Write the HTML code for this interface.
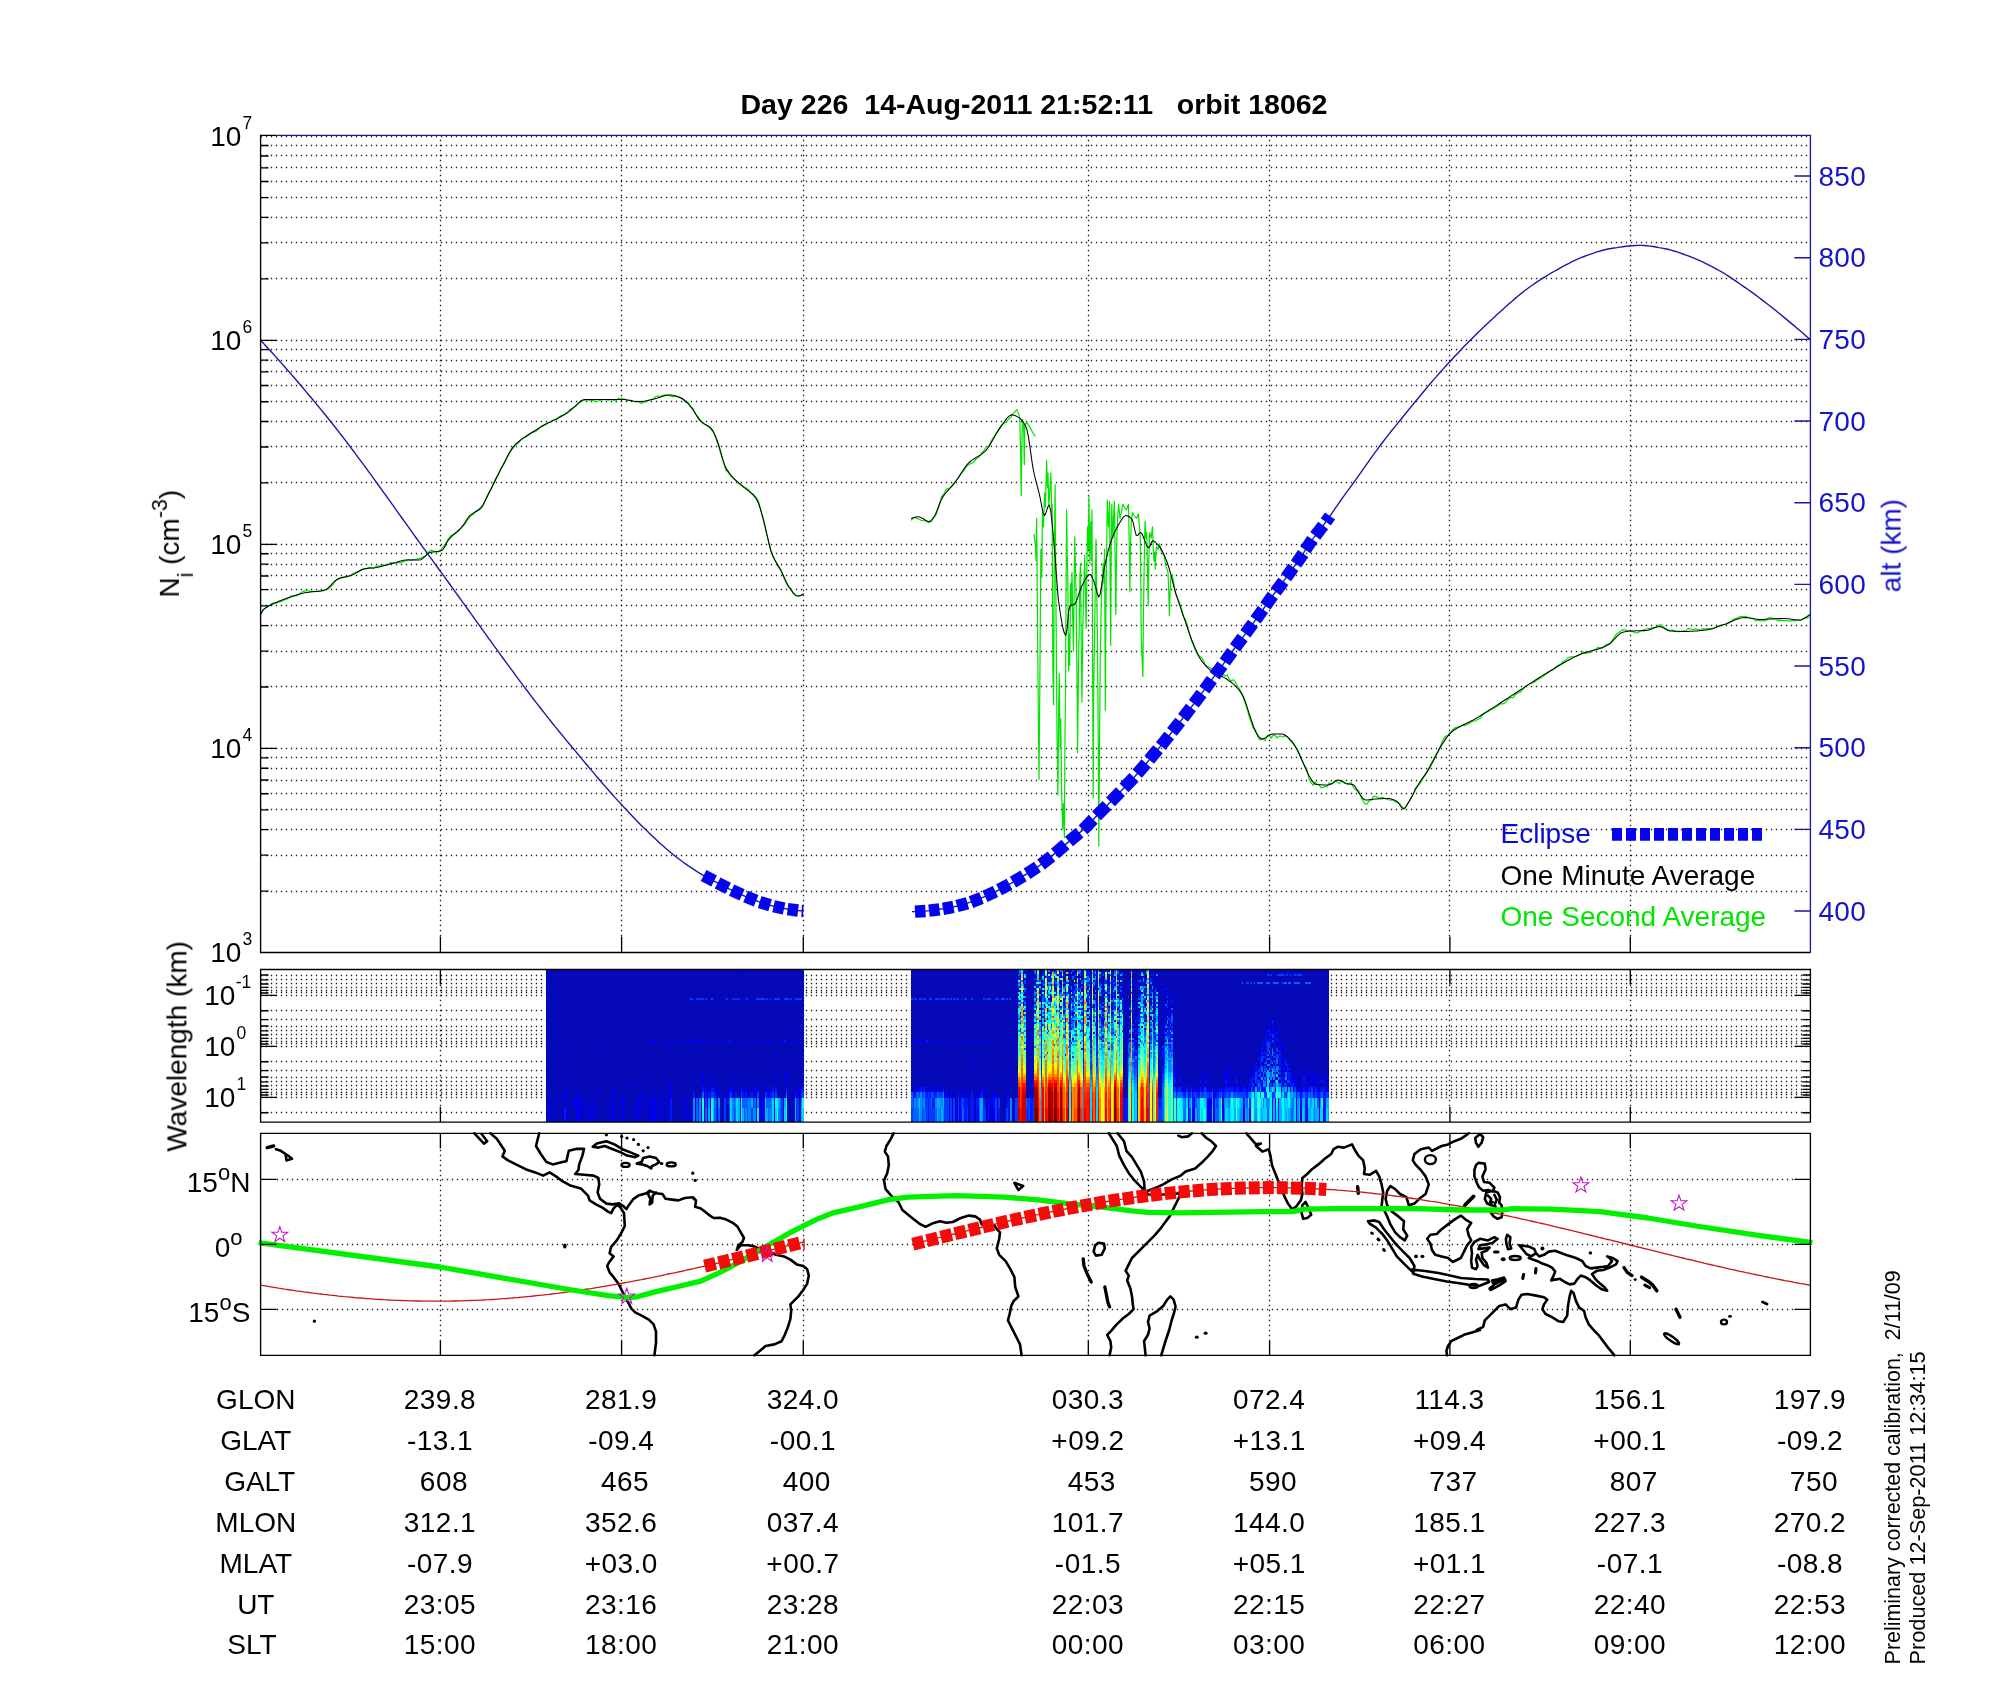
<!DOCTYPE html>
<html><head><meta charset="utf-8"><title>Day 226 orbit 18062</title>
<style>html,body{margin:0;padding:0;background:#fff}svg{display:block}text{font-family:'Liberation Sans', sans-serif}</style>
</head><body>
<svg width="2000" height="1700" viewBox="0 0 2000 1700">
<rect width="2000" height="1700" fill="#fff"/>
<path d="M260.85 891.5H1809.4M260.85 855.5H1809.4M260.85 829.5H1809.4M260.85 809.5H1809.4M260.85 793.5H1809.4M260.85 780.5H1809.4M260.85 768.5H1809.4M260.85 757.5H1809.4M260.85 748.5H1809.4M260.85 686.5H1809.4M260.85 651.5H1809.4M260.85 625.5H1809.4M260.85 605.5H1809.4M260.85 589.5H1809.4M260.85 575.5H1809.4M260.85 564.5H1809.4M260.85 553.5H1809.4M260.85 544.5H1809.4M260.85 482.5H1809.4M260.85 446.5H1809.4M260.85 421.5H1809.4M260.85 401.5H1809.4M260.85 385.5H1809.4M260.85 371.5H1809.4M260.85 360.5H1809.4M260.85 349.5H1809.4M260.85 340.5H1809.4M260.85 278.5H1809.4M260.85 242.5H1809.4M260.85 217.5H1809.4M260.85 197.5H1809.4M260.85 181.5H1809.4M260.85 167.5H1809.4M260.85 155.5H1809.4M260.85 145.5H1809.4M260.85 136.5H1809.4" stroke="#1c1c1c" stroke-width="1.3" stroke-dasharray="1.3 3.7" fill="none"/>
<path d="M440.5 139.85V936.5M621.5 139.85V936.5M803.5 139.85V936.5M1088.5 139.85V936.5M1269.5 139.85V936.5M1449.5 139.85V936.5M1630.5 139.85V936.5" stroke="#1c1c1c" stroke-width="1.3" stroke-dasharray="1.3 3.7" fill="none"/>
<path d="M260.85 975.5H1809.4M260.85 979.5H1809.4M260.85 983.5H1809.4M260.85 987.5H1809.4M260.85 990.5H1809.4M260.85 992.5H1809.4M260.85 995.5H1809.4M260.85 1010.5H1809.4M260.85 1019.5H1809.4M260.85 1026.5H1809.4M260.85 1030.5H1809.4M260.85 1034.5H1809.4M260.85 1038.5H1809.4M260.85 1041.5H1809.4M260.85 1043.5H1809.4M260.85 1046.5H1809.4M260.85 1061.5H1809.4M260.85 1070.5H1809.4M260.85 1077.5H1809.4M260.85 1081.5H1809.4M260.85 1085.5H1809.4M260.85 1089.5H1809.4M260.85 1092.5H1809.4M260.85 1094.5H1809.4M260.85 1097.5H1809.4M260.85 1112.5H1809.4" stroke="#1c1c1c" stroke-width="1.3" stroke-dasharray="1.3 3.7" fill="none"/>
<path d="M440.5 974.85V1107.1M621.5 974.85V1107.1M803.5 974.85V1107.1M1088.5 974.85V1107.1M1269.5 974.85V1107.1M1449.5 974.85V1107.1M1630.5 974.85V1107.1" stroke="#1c1c1c" stroke-width="1.3" stroke-dasharray="1.3 3.7" fill="none"/>
<path d="M276.85 1179.5H1793.4M276.85 1244.5H1793.4M276.85 1309.5H1793.4" stroke="#1c1c1c" stroke-width="1.3" stroke-dasharray="1.3 3.7" fill="none"/>
<path d="M440.5 1149.85V1340.3M621.5 1149.85V1340.3M803.5 1149.85V1340.3M1088.5 1149.85V1340.3M1269.5 1149.85V1340.3M1449.5 1149.85V1340.3M1630.5 1149.85V1340.3" stroke="#1c1c1c" stroke-width="1.3" stroke-dasharray="1.3 3.7" fill="none"/>
<g shape-rendering="crispEdges">
<rect x="546" y="969.5" width="257.8" height="152.6" fill="rgb(6,9,184)"/>
<path fill="rgb(0,0,241)" d="M549 1097.5v24h1.6v-24zM556.5 1097.5v10.7h1.6v-10.7zM564 1045.5v2.1h1.6v-2.1zM564 1051.5v2.1h1.6v-2.1zM564 1061.5v2.1h1.6v-2.1zM564 1083v4.2h1.6v-4.2zM564 1092v16.1h1.6v-16.1zM565.5 1017.5v2.1h1.6v-2.1zM565.5 1033.5v2.1h1.6v-2.1zM565.5 1087v5.2h1.6v-5.2zM565.5 1108v13.5h1.6v-13.5zM573 1097.5v10.7h1.6v-10.7zM574.5 1097.5v10.7h1.6v-10.7zM576 1071.5v2.6h1.6v-2.6zM576 1092v29.5h1.6v-29.5zM577.5 1063.5v2.1h1.6v-2.1zM577.5 1108v13.5h1.6v-13.5zM579 1049.5v2.1h1.6v-2.1zM579 1097.5v24h1.6v-24zM580.5 1108v13.5h1.6v-13.5zM582 1097.5v10.7h1.6v-10.7zM586.5 1097.5v24h1.6v-24zM589.5 1108v13.5h1.6v-13.5zM591 995.5v2.1h1.6v-2.1zM591 1097.5v24h1.6v-24zM595.5 1031.5v2.1h1.6v-2.1zM595.5 1057.5v2.1h1.6v-2.1zM595.5 1108v13.5h1.6v-13.5zM597 1041.5v2.1h1.6v-2.1zM597 1049.5v2.1h1.6v-2.1zM597 1087v5.2h1.6v-5.2zM604.5 1069.5v2.1h1.6v-2.1zM607.5 1108v13.5h1.6v-13.5zM611.9 1087v34.5h1.6v-34.5zM613.4 1069.5v2.1h1.6v-2.1zM613.4 1092v5.7h1.6v-5.7zM613.4 1108v13.5h1.6v-13.5zM622.4 1097.5v24h1.6v-24zM629.9 1079.5v3.6h1.6v-3.6zM635.9 1097.5v24h1.6v-24zM637.4 1083v4.2h1.6v-4.2zM637.4 1097.5v24h1.6v-24zM641.9 1074v2.6h1.6v-2.6zM641.9 1092v16.1h1.6v-16.1zM643.4 1092v5.7h1.6v-5.7zM647.9 1097.5v24h1.6v-24zM649.4 1039.5v2.1h1.6v-2.1zM649.4 1108v13.5h1.6v-13.5zM650.9 1039.5v2.1h1.6v-2.1zM652.4 1039.5v2.1h1.6v-2.1zM652.4 1087v5.2h1.6v-5.2zM652.4 1097.5v24h1.6v-24zM653.9 1039.5v2.1h1.6v-2.1zM653.9 1097.5v24h1.6v-24zM655.4 1108v13.5h1.6v-13.5zM659.9 1097.5v10.7h1.6v-10.7zM661.4 1039.5v2.1h1.6v-2.1zM661.4 1092v29.5h1.6v-29.5zM668.9 1039.5v2.1h1.6v-2.1zM668.9 1097.5v24h1.6v-24zM670.4 1039.5v2.1h1.6v-2.1zM670.4 1049.5v2.1h1.6v-2.1zM670.4 1063.5v2.1h1.6v-2.1zM670.4 1083v14.7h1.6v-14.7zM671.9 1039.5v2.1h1.6v-2.1zM677.9 1039.5v2.1h1.6v-2.1zM680.9 1039.5v2.1h1.6v-2.1zM682.4 1039.5v2.1h1.6v-2.1zM685.4 1039.5v2.1h1.6v-2.1zM685.4 1097.5v24h1.6v-24zM688.4 1039.5v2.1h1.6v-2.1zM689.9 1108v13.5h1.6v-13.5zM691.4 1039.5v2.1h1.6v-2.1zM692.9 1039.5v2.1h1.6v-2.1zM694.4 1039.5v2.1h1.6v-2.1zM697.4 1039.5v2.1h1.6v-2.1zM698.9 1039.5v2.1h1.6v-2.1zM700.4 1039.5v2.1h1.6v-2.1zM701.9 1039.5v2.1h1.6v-2.1zM701.9 1069.5v7.2h1.6v-7.2zM701.9 1079.5v7.7h1.6v-7.7zM704.9 1087v5.2h1.6v-5.2zM706.4 1097.5v10.7h1.6v-10.7zM707.9 1087v5.2h1.6v-5.2zM709.4 1039.5v2.1h1.6v-2.1zM709.4 1097.5v10.7h1.6v-10.7zM710.9 1074v2.6h1.6v-2.6zM710.9 1083v4.2h1.6v-4.2zM712.4 1039.5v2.1h1.6v-2.1zM712.4 1076.5v3.1h1.6v-3.1zM713.9 1087v5.2h1.6v-5.2zM715.4 1039.5v2.1h1.6v-2.1zM716.9 1108v13.5h1.6v-13.5zM718.4 1087v10.7h1.6v-10.7zM719.9 993.5v2.1h1.6v-2.1zM719.9 1039.5v2.1h1.6v-2.1zM722.9 1039.5v2.1h1.6v-2.1zM724.4 1039.5v2.1h1.6v-2.1zM724.4 1092v5.7h1.6v-5.7zM725.9 1039.5v2.1h1.6v-2.1zM727.4 1092v16.1h1.6v-16.1zM728.9 1033.5v2.1h1.6v-2.1zM728.9 1076.5v3.1h1.6v-3.1zM728.9 1087v5.2h1.6v-5.2zM730.4 1039.5v2.1h1.6v-2.1zM730.4 1069.5v2.1h1.6v-2.1zM730.4 1079.5v3.6h1.6v-3.6zM730.4 1087v5.2h1.6v-5.2zM731.9 1087v10.7h1.6v-10.7zM734.9 1039.5v2.1h1.6v-2.1zM739.3 1097.5v10.7h1.6v-10.7zM740.8 1057.5v2.1h1.6v-2.1zM740.8 1071.5v5.2h1.6v-5.2zM742.3 971.5v2.1h1.6v-2.1zM742.3 1087v5.2h1.6v-5.2zM743.8 999.5v2.1h1.6v-2.1zM745.3 1039.5v2.1h1.6v-2.1zM745.3 1087v5.2h1.6v-5.2zM746.8 1087v10.7h1.6v-10.7zM749.8 1039.5v2.1h1.6v-2.1zM751.3 1039.5v2.1h1.6v-2.1zM751.3 1087v5.2h1.6v-5.2zM754.3 1087v10.7h1.6v-10.7zM755.8 1039.5v2.1h1.6v-2.1zM757.3 1087v5.2h1.6v-5.2zM758.8 1027.5v2.1h1.6v-2.1zM758.8 1039.5v2.1h1.6v-2.1zM758.8 1108v13.5h1.6v-13.5zM760.3 1097.5v24h1.6v-24zM763.3 1039.5v2.1h1.6v-2.1zM763.3 1097.5v24h1.6v-24zM764.8 1067.5v4.2h1.6v-4.2zM764.8 1079.5v12.7h1.6v-12.7zM766.3 1039.5v2.1h1.6v-2.1zM766.3 1087v5.2h1.6v-5.2zM767.8 1039.5v2.1h1.6v-2.1zM767.8 1092v5.7h1.6v-5.7zM769.3 1039.5v2.1h1.6v-2.1zM770.8 1039.5v2.1h1.6v-2.1zM770.8 1087v5.2h1.6v-5.2zM772.3 1039.5v2.1h1.6v-2.1zM772.3 1053.5v2.1h1.6v-2.1zM772.3 1065.5v4.2h1.6v-4.2zM772.3 1076.5v6.7h1.6v-6.7zM773.8 1097.5v24h1.6v-24zM776.8 1071.5v2.6h1.6v-2.6zM778.3 1076.5v3.1h1.6v-3.1zM779.8 1039.5v2.1h1.6v-2.1zM779.8 1092v5.7h1.6v-5.7zM781.3 1039.5v2.1h1.6v-2.1zM782.8 1039.5v2.1h1.6v-2.1zM784.3 1069.5v13.7h1.6v-13.7zM785.8 1069.5v4.7h1.6v-4.7zM785.8 1076.5v10.7h1.6v-10.7zM788.8 1039.5v2.1h1.6v-2.1zM794.8 1039.5v2.1h1.6v-2.1zM794.8 1087v5.2h1.6v-5.2zM796.3 1039.5v2.1h1.6v-2.1zM796.3 1092v5.7h1.6v-5.7zM797.8 1087v10.7h1.6v-10.7zM799.3 1039.5v2.1h1.6v-2.1zM800.8 1039.5v2.1h1.6v-2.1zM800.8 1079.5v3.6h1.6v-3.6z"/>
<path fill="rgb(0,24,255)" d="M564 1108v13.5h1.6v-13.5zM670.4 1097.5v24h1.6v-24zM692.9 1092v5.7h1.6v-5.7zM697.4 997.5v2.1h1.6v-2.1zM697.4 1097.5v10.7h1.6v-10.7zM701.9 1087v5.2h1.6v-5.2zM704.9 1092v5.7h1.6v-5.7zM707.9 1092v5.7h1.6v-5.7zM710.9 1087v5.2h1.6v-5.2zM712.4 997.5v2.1h1.6v-2.1zM712.4 1087v5.2h1.6v-5.2zM713.9 1092v5.7h1.6v-5.7zM728.9 1039.5v2.1h1.6v-2.1zM728.9 1092v5.7h1.6v-5.7zM734.9 1092v5.7h1.6v-5.7zM740.8 1087v5.2h1.6v-5.2zM742.3 1092v5.7h1.6v-5.7zM745.3 997.5v2.1h1.6v-2.1zM745.3 1092v5.7h1.6v-5.7zM749.8 1092v5.7h1.6v-5.7zM751.3 1092v5.7h1.6v-5.7zM766.3 1092v5.7h1.6v-5.7zM769.3 997.5v2.1h1.6v-2.1zM769.3 1092v5.7h1.6v-5.7zM770.8 997.5v2.1h1.6v-2.1zM770.8 1092v5.7h1.6v-5.7zM772.3 1087v5.2h1.6v-5.2zM775.3 1087v5.2h1.6v-5.2zM784.3 1039.5v2.1h1.6v-2.1zM785.8 1087v5.2h1.6v-5.2zM794.8 1092v5.7h1.6v-5.7zM800.8 1087v5.2h1.6v-5.2zM802.3 1087v5.2h1.6v-5.2z"/>
<path fill="rgb(0,61,255)" d="M689.9 997.5v2.1h1.6v-2.1zM691.4 997.5v2.1h1.6v-2.1zM695.9 997.5v2.1h1.6v-2.1zM697.4 1108v13.5h1.6v-13.5zM698.9 997.5v2.1h1.6v-2.1zM700.4 997.5v2.1h1.6v-2.1zM701.9 997.5v2.1h1.6v-2.1zM704.9 997.5v2.1h1.6v-2.1zM704.9 1097.5v10.7h1.6v-10.7zM710.9 997.5v2.1h1.6v-2.1zM710.9 1092v5.7h1.6v-5.7zM712.4 1092v5.7h1.6v-5.7zM715.4 1097.5v24h1.6v-24zM724.4 1097.5v24h1.6v-24zM725.9 997.5v2.1h1.6v-2.1zM728.9 1108v13.5h1.6v-13.5zM730.4 1092v5.7h1.6v-5.7zM731.9 997.5v2.1h1.6v-2.1zM733.4 1108v13.5h1.6v-13.5zM734.9 997.5v2.1h1.6v-2.1zM737.9 997.5v2.1h1.6v-2.1zM740.8 1092v5.7h1.6v-5.7zM746.8 997.5v2.1h1.6v-2.1zM751.3 1108v13.5h1.6v-13.5zM752.8 1097.5v10.7h1.6v-10.7zM755.8 997.5v2.1h1.6v-2.1zM757.3 997.5v2.1h1.6v-2.1zM757.3 1092v5.7h1.6v-5.7zM758.8 997.5v2.1h1.6v-2.1zM760.3 997.5v2.1h1.6v-2.1zM761.8 997.5v2.1h1.6v-2.1zM763.3 997.5v2.1h1.6v-2.1zM764.8 1092v5.7h1.6v-5.7zM766.3 997.5v2.1h1.6v-2.1zM772.3 1092v5.7h1.6v-5.7zM773.8 997.5v2.1h1.6v-2.1zM775.3 997.5v2.1h1.6v-2.1zM775.3 1092v5.7h1.6v-5.7zM776.8 997.5v2.1h1.6v-2.1zM778.3 997.5v2.1h1.6v-2.1zM781.3 1097.5v24h1.6v-24zM784.3 997.5v2.1h1.6v-2.1zM785.8 997.5v2.1h1.6v-2.1zM787.3 997.5v2.1h1.6v-2.1zM790.3 997.5v2.1h1.6v-2.1zM794.8 997.5v2.1h1.6v-2.1zM796.3 997.5v2.1h1.6v-2.1zM796.3 1097.5v24h1.6v-24zM797.8 997.5v2.1h1.6v-2.1zM797.8 1097.5v24h1.6v-24zM799.3 997.5v2.1h1.6v-2.1zM800.8 997.5v2.1h1.6v-2.1zM800.8 1092v5.7h1.6v-5.7zM802.3 1092v5.7h1.6v-5.7z"/>
<path fill="rgb(0,99,255)" d="M695.9 1097.5v24h1.6v-24zM701.9 1092v5.7h1.6v-5.7zM704.9 1108v13.5h1.6v-13.5zM713.9 1097.5v24h1.6v-24zM718.4 1108v13.5h1.6v-13.5zM728.9 1097.5v10.7h1.6v-10.7zM733.4 1097.5v10.7h1.6v-10.7zM734.9 1108v13.5h1.6v-13.5zM742.3 1097.5v10.7h1.6v-10.7zM743.8 1097.5v24h1.6v-24zM745.3 1097.5v10.7h1.6v-10.7zM746.8 1097.5v24h1.6v-24zM749.8 1097.5v10.7h1.6v-10.7zM754.3 1097.5v10.7h1.6v-10.7zM766.3 1097.5v10.7h1.6v-10.7zM767.8 1097.5v24h1.6v-24zM769.3 1097.5v10.7h1.6v-10.7zM779.8 1097.5v24h1.6v-24zM785.8 1092v5.7h1.6v-5.7z"/>
<path fill="rgb(0,137,255)" d="M692.9 1097.5v24h1.6v-24zM698.9 1097.5v24h1.6v-24zM707.9 1097.5v10.7h1.6v-10.7zM718.4 1097.5v10.7h1.6v-10.7zM731.9 1097.5v24h1.6v-24zM734.9 1097.5v10.7h1.6v-10.7zM745.3 1108v13.5h1.6v-13.5zM748.3 1097.5v24h1.6v-24zM749.8 1108v13.5h1.6v-13.5zM752.8 1108v13.5h1.6v-13.5zM754.3 1108v13.5h1.6v-13.5zM757.3 1097.5v10.7h1.6v-10.7zM769.3 1108v13.5h1.6v-13.5zM770.8 1097.5v24h1.6v-24zM778.3 1108v13.5h1.6v-13.5zM800.8 1097.5v10.7h1.6v-10.7z"/>
<path fill="rgb(0,175,255)" d="M707.9 1108v13.5h1.6v-13.5zM712.4 1108v13.5h1.6v-13.5zM737.9 1097.5v24h1.6v-24zM742.3 1108v13.5h1.6v-13.5zM751.3 1097.5v10.7h1.6v-10.7zM764.8 1108v13.5h1.6v-13.5zM766.3 1108v13.5h1.6v-13.5zM778.3 1097.5v10.7h1.6v-10.7zM784.3 1097.5v10.7h1.6v-10.7zM794.8 1097.5v24h1.6v-24zM800.8 1108v13.5h1.6v-13.5z"/>
<path fill="rgb(0,212,255)" d="M712.4 1097.5v10.7h1.6v-10.7zM730.4 1097.5v24h1.6v-24zM736.4 1097.5v24h1.6v-24zM764.8 1097.5v10.7h1.6v-10.7zM772.3 1097.5v24h1.6v-24zM775.3 1108v13.5h1.6v-13.5zM784.3 1108v13.5h1.6v-13.5zM802.3 1108v13.5h1.6v-13.5z"/>
<path fill="rgb(0,250,255)" d="M701.9 1108v13.5h1.6v-13.5zM710.9 1097.5v10.7h1.6v-10.7zM740.8 1097.5v24h1.6v-24zM757.3 1108v13.5h1.6v-13.5zM775.3 1097.5v10.7h1.6v-10.7zM776.8 1097.5v10.7h1.6v-10.7zM785.8 1108v13.5h1.6v-13.5z"/>
<path fill="rgb(33,255,222)" d="M701.9 1097.5v10.7h1.6v-10.7zM710.9 1108v13.5h1.6v-13.5zM776.8 1108v13.5h1.6v-13.5zM785.8 1097.5v10.7h1.6v-10.7zM802.3 1097.5v10.7h1.6v-10.7z"/>
<rect x="911.2" y="969.5" width="417.7" height="152.6" fill="rgb(6,9,184)"/>
<path fill="rgb(0,0,241)" d="M911.2 1039.5v2.1h1.6v-2.1zM911.2 1059.5v2.1h1.6v-2.1zM911.2 1087v5.2h1.6v-5.2zM912.7 1039.5v2.1h1.6v-2.1zM914.2 1039.5v2.1h1.6v-2.1zM915.7 1087v5.2h1.6v-5.2zM917.2 1039.5v2.1h1.6v-2.1zM917.2 1087v5.2h1.6v-5.2zM918.7 1039.5v2.1h1.6v-2.1zM918.7 1087v5.2h1.6v-5.2zM920.2 1039.5v2.1h1.6v-2.1zM921.7 1039.5v2.1h1.6v-2.1zM921.7 1087v5.2h1.6v-5.2zM923.2 1039.5v2.1h1.6v-2.1zM924.7 1039.5v2.1h1.6v-2.1zM924.7 1087v5.2h1.6v-5.2zM929.2 1039.5v2.1h1.6v-2.1zM929.2 1087v5.2h1.6v-5.2zM930.7 1003.5v2.1h1.6v-2.1zM930.7 1069.5v2.1h1.6v-2.1zM930.7 1087v5.2h1.6v-5.2zM932.2 1039.5v2.1h1.6v-2.1zM932.2 1087v5.2h1.6v-5.2zM933.7 1039.5v2.1h1.6v-2.1zM935.2 1039.5v2.1h1.6v-2.1zM936.7 1039.5v2.1h1.6v-2.1zM936.7 1053.5v2.1h1.6v-2.1zM936.7 1071.5v2.6h1.6v-2.6zM936.7 1087v5.2h1.6v-5.2zM938.2 1039.5v2.1h1.6v-2.1zM938.2 1087v5.2h1.6v-5.2zM939.7 1087v5.2h1.6v-5.2zM944.3 1092v5.7h1.6v-5.7zM947.3 1039.5v2.1h1.6v-2.1zM950.3 1092v5.7h1.6v-5.7zM951.8 1097.5v24h1.6v-24zM953.3 1087v10.7h1.6v-10.7zM956.3 1039.5v2.1h1.6v-2.1zM959.3 1097.5v24h1.6v-24zM960.8 1039.5v2.1h1.6v-2.1zM962.3 1087v10.7h1.6v-10.7zM965.3 1039.5v2.1h1.6v-2.1zM966.8 1092v5.7h1.6v-5.7zM968.3 1065.5v2.1h1.6v-2.1zM971.3 1039.5v2.1h1.6v-2.1zM971.3 1065.5v2.1h1.6v-2.1zM972.8 1045.5v2.1h1.6v-2.1zM972.8 1087v5.2h1.6v-5.2zM974.3 1039.5v2.1h1.6v-2.1zM974.3 1063.5v2.1h1.6v-2.1zM975.8 1092v5.7h1.6v-5.7zM977.3 1079.5v3.6h1.6v-3.6zM977.3 1108v13.5h1.6v-13.5zM980.3 1039.5v2.1h1.6v-2.1zM980.3 1087v5.2h1.6v-5.2zM981.8 1039.5v2.1h1.6v-2.1zM984.8 1087v5.2h1.6v-5.2zM986.3 1039.5v2.1h1.6v-2.1zM989.3 1039.5v2.1h1.6v-2.1zM989.3 1097.5v24h1.6v-24zM990.8 1097.5v10.7h1.6v-10.7zM992.3 1039.5v2.1h1.6v-2.1zM992.3 1092v29.5h1.6v-29.5zM993.8 1092v5.7h1.6v-5.7zM993.8 1108v13.5h1.6v-13.5zM995.3 1083v4.2h1.6v-4.2zM995.3 1092v5.7h1.6v-5.7zM1005.9 1076.5v3.1h1.6v-3.1zM1005.9 1097.5v10.7h1.6v-10.7zM1007.4 1069.5v2.1h1.6v-2.1zM1007.4 1087v10.7h1.6v-10.7zM1017.9 975.5v2.1h1.6v-2.1zM1019.4 989.5v2.1h1.6v-2.1zM1019.4 1003.5v2.1h1.6v-2.1zM1019.4 1015.5v2.1h1.6v-2.1zM1022.4 977.5v2.1h1.6v-2.1zM1022.4 1001.5v2.1h1.6v-2.1zM1023.9 970.2v1.4h1.6v-1.4zM1023.9 993.5v2.1h1.6v-2.1zM1023.9 997.5v2.1h1.6v-2.1zM1026.9 1049.5v2.1h1.6v-2.1zM1034.4 975.5v2.1h1.6v-2.1zM1034.4 981.5v2.1h1.6v-2.1zM1035.9 970.2v1.4h1.6v-1.4zM1035.9 999.5v2.1h1.6v-2.1zM1038.9 970.2v1.4h1.6v-1.4zM1040.4 1023.5v2.1h1.6v-2.1zM1040.4 1035.5v2.1h1.6v-2.1zM1040.4 1043.5v2.1h1.6v-2.1zM1040.4 1051.5v2.1h1.6v-2.1zM1040.4 1055.5v4.2h1.6v-4.2zM1041.9 971.5v2.1h1.6v-2.1zM1041.9 1007.5v2.1h1.6v-2.1zM1043.4 1019.5v2.1h1.6v-2.1zM1044.9 975.5v2.1h1.6v-2.1zM1046.4 973.5v2.1h1.6v-2.1zM1046.4 983.5v2.1h1.6v-2.1zM1046.4 991.5v2.1h1.6v-2.1zM1047.9 975.5v2.1h1.6v-2.1zM1049.4 995.5v2.1h1.6v-2.1zM1050.9 970.2v1.4h1.6v-1.4zM1053.9 970.2v1.4h1.6v-1.4zM1053.9 981.5v2.1h1.6v-2.1zM1053.9 993.5v2.1h1.6v-2.1zM1056.9 973.5v2.1h1.6v-2.1zM1058.4 970.2v1.4h1.6v-1.4zM1058.4 1003.5v2.1h1.6v-2.1zM1059.9 971.5v2.1h1.6v-2.1zM1059.9 983.5v4.2h1.6v-4.2zM1059.9 989.5v2.1h1.6v-2.1zM1059.9 1005.5v2.1h1.6v-2.1zM1063 1001.5v2.1h1.6v-2.1zM1063 1011.5v2.1h1.6v-2.1zM1064.5 993.5v2.1h1.6v-2.1zM1064.5 1027.5v2.1h1.6v-2.1zM1064.5 1053.5v2.1h1.6v-2.1zM1069 989.5v2.1h1.6v-2.1zM1069 1009.5v2.1h1.6v-2.1zM1069 1017.5v2.1h1.6v-2.1zM1069 1031.5v2.1h1.6v-2.1zM1069 1039.5v2.1h1.6v-2.1zM1070.5 1041.5v2.1h1.6v-2.1zM1072 999.5v2.1h1.6v-2.1zM1072 1011.5v2.1h1.6v-2.1zM1072 1019.5v2.1h1.6v-2.1zM1072 1037.5v2.1h1.6v-2.1zM1073.5 985.5v2.1h1.6v-2.1zM1075 971.5v2.1h1.6v-2.1zM1075 981.5v2.1h1.6v-2.1zM1075 1021.5v4.2h1.6v-4.2zM1076.5 975.5v2.1h1.6v-2.1zM1078 973.5v2.1h1.6v-2.1zM1078 1003.5v2.1h1.6v-2.1zM1079.5 979.5v2.1h1.6v-2.1zM1079.5 991.5v2.1h1.6v-2.1zM1079.5 1041.5v2.1h1.6v-2.1zM1081 971.5v2.1h1.6v-2.1zM1081 1047.5v2.1h1.6v-2.1zM1082.5 1021.5v4.2h1.6v-4.2zM1082.5 1033.5v8.2h1.6v-8.2zM1082.5 1043.5v2.1h1.6v-2.1zM1082.5 1051.5v2.1h1.6v-2.1zM1082.5 1057.5v4.2h1.6v-4.2zM1085.5 973.5v2.1h1.6v-2.1zM1087 971.5v2.1h1.6v-2.1zM1090 1017.5v4.2h1.6v-4.2zM1090 1029.5v2.1h1.6v-2.1zM1090 1033.5v2.1h1.6v-2.1zM1090 1037.5v2.1h1.6v-2.1zM1090 1043.5v4.2h1.6v-4.2zM1093 970.2v1.4h1.6v-1.4zM1093 989.5v2.1h1.6v-2.1zM1094.5 983.5v4.2h1.6v-4.2zM1096 999.5v4.2h1.6v-4.2zM1096 1005.5v2.1h1.6v-2.1zM1096 1011.5v2.1h1.6v-2.1zM1096 1015.5v2.1h1.6v-2.1zM1096 1019.5v2.1h1.6v-2.1zM1096 1023.5v2.1h1.6v-2.1zM1096 1027.5v2.1h1.6v-2.1zM1096 1031.5v4.2h1.6v-4.2zM1097.5 987.5v2.1h1.6v-2.1zM1099 1015.5v2.1h1.6v-2.1zM1100.5 979.5v4.2h1.6v-4.2zM1100.5 1001.5v2.1h1.6v-2.1zM1102 975.5v2.1h1.6v-2.1zM1102 979.5v2.1h1.6v-2.1zM1102 987.5v2.1h1.6v-2.1zM1102 999.5v2.1h1.6v-2.1zM1102 1003.5v2.1h1.6v-2.1zM1102 1007.5v2.1h1.6v-2.1zM1102 1019.5v2.1h1.6v-2.1zM1103.5 971.5v2.1h1.6v-2.1zM1103.5 1017.5v2.1h1.6v-2.1zM1106.5 973.5v2.1h1.6v-2.1zM1106.5 979.5v4.2h1.6v-4.2zM1106.5 991.5v2.1h1.6v-2.1zM1106.5 1001.5v2.1h1.6v-2.1zM1106.5 1015.5v2.1h1.6v-2.1zM1108 979.5v2.1h1.6v-2.1zM1108 995.5v2.1h1.6v-2.1zM1108 1021.5v2.1h1.6v-2.1zM1111 973.5v2.1h1.6v-2.1zM1111 977.5v2.1h1.6v-2.1zM1111 991.5v2.1h1.6v-2.1zM1111 995.5v4.2h1.6v-4.2zM1111 1005.5v4.2h1.6v-4.2zM1111 1011.5v2.1h1.6v-2.1zM1112.5 970.2v1.4h1.6v-1.4zM1112.5 995.5v2.1h1.6v-2.1zM1117 977.5v2.1h1.6v-2.1zM1120.1 971.5v2.1h1.6v-2.1zM1120.1 995.5v4.2h1.6v-4.2zM1121.6 983.5v2.1h1.6v-2.1zM1121.6 991.5v2.1h1.6v-2.1zM1121.6 1007.5v2.1h1.6v-2.1zM1127.6 989.5v2.1h1.6v-2.1zM1127.6 999.5v2.1h1.6v-2.1zM1127.6 1007.5v2.1h1.6v-2.1zM1127.6 1017.5v2.1h1.6v-2.1zM1127.6 1029.5v2.1h1.6v-2.1zM1127.6 1035.5v2.1h1.6v-2.1zM1129.1 970.2v1.4h1.6v-1.4zM1129.1 991.5v2.1h1.6v-2.1zM1129.1 995.5v2.1h1.6v-2.1zM1129.1 1009.5v2.1h1.6v-2.1zM1129.1 1021.5v2.1h1.6v-2.1zM1129.1 1035.5v2.1h1.6v-2.1zM1129.1 1039.5v2.1h1.6v-2.1zM1132.1 981.5v2.1h1.6v-2.1zM1132.1 999.5v2.1h1.6v-2.1zM1132.1 1035.5v2.1h1.6v-2.1zM1132.1 1039.5v2.1h1.6v-2.1zM1133.6 1015.5v2.1h1.6v-2.1zM1133.6 1037.5v2.1h1.6v-2.1zM1133.6 1043.5v2.1h1.6v-2.1zM1133.6 1051.5v4.2h1.6v-4.2zM1135.1 1029.5v2.1h1.6v-2.1zM1135.1 1035.5v2.1h1.6v-2.1zM1138.1 983.5v2.1h1.6v-2.1zM1138.1 1007.5v2.1h1.6v-2.1zM1139.6 973.5v2.1h1.6v-2.1zM1139.6 1007.5v2.1h1.6v-2.1zM1139.6 1031.5v2.1h1.6v-2.1zM1139.6 1039.5v2.1h1.6v-2.1zM1141.1 970.2v1.4h1.6v-1.4zM1141.1 991.5v2.1h1.6v-2.1zM1142.6 975.5v2.1h1.6v-2.1zM1142.6 1009.5v2.1h1.6v-2.1zM1144.1 1019.5v2.1h1.6v-2.1zM1145.6 975.5v2.1h1.6v-2.1zM1145.6 987.5v2.1h1.6v-2.1zM1148.6 1013.5v2.1h1.6v-2.1zM1148.6 1021.5v2.1h1.6v-2.1zM1148.6 1027.5v2.1h1.6v-2.1zM1148.6 1037.5v2.1h1.6v-2.1zM1148.6 1045.5v2.1h1.6v-2.1zM1148.6 1049.5v2.1h1.6v-2.1zM1148.6 1057.5v4.2h1.6v-4.2zM1150.1 971.5v2.1h1.6v-2.1zM1150.1 975.5v2.1h1.6v-2.1zM1150.1 993.5v2.1h1.6v-2.1zM1150.1 1011.5v2.1h1.6v-2.1zM1151.6 981.5v2.1h1.6v-2.1zM1153.1 1005.5v2.1h1.6v-2.1zM1153.1 1021.5v2.1h1.6v-2.1zM1153.1 1025.5v2.1h1.6v-2.1zM1154.6 975.5v2.1h1.6v-2.1zM1154.6 985.5v2.1h1.6v-2.1zM1156.1 979.5v4.2h1.6v-4.2zM1156.1 989.5v2.1h1.6v-2.1zM1157.6 1059.5v2.1h1.6v-2.1zM1162.1 1003.5v2.1h1.6v-2.1zM1162.1 1009.5v4.2h1.6v-4.2zM1162.1 1017.5v2.1h1.6v-2.1zM1162.1 1031.5v2.1h1.6v-2.1zM1162.1 1041.5v2.1h1.6v-2.1zM1162.1 1057.5v2.1h1.6v-2.1zM1162.1 1061.5v4.2h1.6v-4.2zM1163.6 1009.5v2.1h1.6v-2.1zM1163.6 1015.5v2.1h1.6v-2.1zM1163.6 1025.5v4.2h1.6v-4.2zM1163.6 1039.5v2.1h1.6v-2.1zM1165.1 983.5v2.1h1.6v-2.1zM1165.1 989.5v4.2h1.6v-4.2zM1165.1 997.5v2.1h1.6v-2.1zM1165.1 1005.5v2.1h1.6v-2.1zM1165.1 1019.5v2.1h1.6v-2.1zM1165.1 1029.5v2.1h1.6v-2.1zM1165.1 1033.5v2.1h1.6v-2.1zM1166.6 997.5v2.1h1.6v-2.1zM1166.6 1009.5v2.1h1.6v-2.1zM1166.6 1013.5v2.1h1.6v-2.1zM1168.1 1003.5v2.1h1.6v-2.1zM1168.1 1007.5v2.1h1.6v-2.1zM1168.1 1021.5v2.1h1.6v-2.1zM1168.1 1039.5v2.1h1.6v-2.1zM1169.6 993.5v2.1h1.6v-2.1zM1169.6 1003.5v2.1h1.6v-2.1zM1169.6 1011.5v2.1h1.6v-2.1zM1169.6 1021.5v2.1h1.6v-2.1zM1169.6 1027.5v2.1h1.6v-2.1zM1171.1 993.5v2.1h1.6v-2.1zM1171.1 1003.5v4.2h1.6v-4.2zM1172.6 1053.5v2.1h1.6v-2.1zM1172.6 1065.5v2.1h1.6v-2.1zM1172.6 1069.5v13.7h1.6v-13.7zM1174.1 1065.5v11.2h1.6v-11.2zM1174.1 1083v4.2h1.6v-4.2zM1175.6 1087v5.2h1.6v-5.2zM1178.6 1069.5v7.2h1.6v-7.2zM1181.7 1076.5v6.7h1.6v-6.7zM1181.7 1087v5.2h1.6v-5.2zM1184.7 1079.5v3.6h1.6v-3.6zM1184.7 1087v5.2h1.6v-5.2zM1187.7 1097.5v24h1.6v-24zM1192.2 1087v5.2h1.6v-5.2zM1192.2 1108v13.5h1.6v-13.5zM1193.7 1087v5.2h1.6v-5.2zM1193.7 1097.5v24h1.6v-24zM1195.2 1087v5.2h1.6v-5.2zM1196.7 1079.5v3.6h1.6v-3.6zM1198.2 1087v5.2h1.6v-5.2zM1199.7 1067.5v2.1h1.6v-2.1zM1199.7 1071.5v8.2h1.6v-8.2zM1201.2 1079.5v3.6h1.6v-3.6zM1201.2 1087v5.2h1.6v-5.2zM1202.7 1069.5v2.1h1.6v-2.1zM1202.7 1074v2.6h1.6v-2.6zM1202.7 1079.5v3.6h1.6v-3.6zM1202.7 1087v5.2h1.6v-5.2zM1205.7 1057.5v2.1h1.6v-2.1zM1205.7 1065.5v4.2h1.6v-4.2zM1205.7 1071.5v8.2h1.6v-8.2zM1205.7 1083v4.2h1.6v-4.2zM1207.2 1074v2.6h1.6v-2.6zM1207.2 1087v5.2h1.6v-5.2zM1207.2 1097.5v24h1.6v-24zM1208.7 1087v5.2h1.6v-5.2zM1208.7 1097.5v24h1.6v-24zM1210.2 1087v5.2h1.6v-5.2zM1210.2 1097.5v10.7h1.6v-10.7zM1213.2 1092v29.5h1.6v-29.5zM1214.7 1087v10.7h1.6v-10.7zM1217.7 1087v5.2h1.6v-5.2zM1219.2 1087v5.2h1.6v-5.2zM1222.2 1087v5.2h1.6v-5.2zM1222.2 1097.5v24h1.6v-24zM1223.7 1071.5v2.6h1.6v-2.6zM1223.7 1076.5v6.7h1.6v-6.7zM1223.7 1087v5.2h1.6v-5.2zM1225.2 1051.5v2.1h1.6v-2.1zM1225.2 1069.5v10.2h1.6v-10.2zM1226.7 1035.5v2.1h1.6v-2.1zM1226.7 1071.5v2.6h1.6v-2.6zM1228.2 1065.5v2.1h1.6v-2.1zM1228.2 1069.5v2.1h1.6v-2.1zM1228.2 1074v13.2h1.6v-13.2zM1231.2 1083v4.2h1.6v-4.2zM1232.7 1065.5v17.6h1.6v-17.6zM1234.2 1087v5.2h1.6v-5.2zM1235.7 1069.5v7.2h1.6v-7.2zM1235.7 1083v4.2h1.6v-4.2zM1238.7 1087v5.2h1.6v-5.2zM1240.3 1087v5.2h1.6v-5.2zM1241.8 1087v5.2h1.6v-5.2zM1243.3 1083v4.2h1.6v-4.2zM1243.3 1108v13.5h1.6v-13.5zM1246.3 1087v5.2h1.6v-5.2zM1247.8 1065.5v2.1h1.6v-2.1zM1247.8 1074v9.2h1.6v-9.2zM1249.3 1087v5.2h1.6v-5.2zM1249.3 1108v13.5h1.6v-13.5zM1250.8 1065.5v4.2h1.6v-4.2zM1250.8 1071.5v5.2h1.6v-5.2zM1250.8 1083v4.2h1.6v-4.2zM1252.3 1071.5v2.6h1.6v-2.6zM1253.8 1067.5v6.7h1.6v-6.7zM1253.8 1079.5v3.6h1.6v-3.6zM1256.8 1057.5v2.1h1.6v-2.1zM1256.8 1061.5v2.1h1.6v-2.1zM1256.8 1065.5v2.1h1.6v-2.1zM1258.3 1051.5v4.2h1.6v-4.2zM1259.8 1049.5v6.2h1.6v-6.2zM1259.8 1057.5v2.1h1.6v-2.1zM1259.8 1069.5v2.1h1.6v-2.1zM1259.8 1076.5v6.7h1.6v-6.7zM1261.3 1043.5v2.1h1.6v-2.1zM1261.3 1063.5v2.1h1.6v-2.1zM1261.3 1071.5v5.2h1.6v-5.2zM1261.3 1083v4.2h1.6v-4.2zM1264.3 1031.5v4.2h1.6v-4.2zM1264.3 1039.5v2.1h1.6v-2.1zM1264.3 1043.5v2.1h1.6v-2.1zM1265.8 1033.5v2.1h1.6v-2.1zM1265.8 1076.5v6.7h1.6v-6.7zM1267.3 1025.5v2.1h1.6v-2.1zM1267.3 1031.5v2.1h1.6v-2.1zM1268.8 1017.5v6.2h1.6v-6.2zM1268.8 1025.5v4.2h1.6v-4.2zM1270.3 1023.5v2.1h1.6v-2.1zM1270.3 1027.5v2.1h1.6v-2.1zM1270.3 1031.5v2.1h1.6v-2.1zM1270.3 1035.5v6.2h1.6v-6.2zM1270.3 1051.5v2.1h1.6v-2.1zM1270.3 1079.5v3.6h1.6v-3.6zM1271.8 1017.5v2.1h1.6v-2.1zM1271.8 1097.5v24h1.6v-24zM1273.3 1019.5v2.1h1.6v-2.1zM1273.3 1025.5v2.1h1.6v-2.1zM1273.3 1029.5v2.1h1.6v-2.1zM1273.3 1079.5v3.6h1.6v-3.6zM1274.8 1023.5v2.1h1.6v-2.1zM1274.8 1029.5v4.2h1.6v-4.2zM1274.8 1037.5v2.1h1.6v-2.1zM1274.8 1087v5.2h1.6v-5.2zM1274.8 1097.5v10.7h1.6v-10.7zM1276.3 1025.5v6.2h1.6v-6.2zM1276.3 1063.5v2.1h1.6v-2.1zM1276.3 1071.5v2.6h1.6v-2.6zM1276.3 1076.5v3.1h1.6v-3.1zM1277.8 1031.5v6.2h1.6v-6.2zM1279.3 1035.5v2.1h1.6v-2.1zM1279.3 1041.5v8.2h1.6v-8.2zM1280.8 1043.5v2.1h1.6v-2.1zM1280.8 1049.5v4.2h1.6v-4.2zM1280.8 1055.5v2.1h1.6v-2.1zM1280.8 1061.5v2.1h1.6v-2.1zM1280.8 1065.5v2.1h1.6v-2.1zM1280.8 1069.5v2.1h1.6v-2.1zM1282.3 1045.5v4.2h1.6v-4.2zM1282.3 1055.5v16.1h1.6v-16.1zM1283.8 1051.5v2.1h1.6v-2.1zM1285.3 1069.5v2.1h1.6v-2.1zM1286.8 1076.5v3.1h1.6v-3.1zM1286.8 1087v5.2h1.6v-5.2zM1289.8 1069.5v2.1h1.6v-2.1zM1289.8 1074v2.6h1.6v-2.6zM1289.8 1087v5.2h1.6v-5.2zM1291.3 1074v2.6h1.6v-2.6zM1291.3 1079.5v3.6h1.6v-3.6zM1292.8 1065.5v2.1h1.6v-2.1zM1292.8 1071.5v2.6h1.6v-2.6zM1292.8 1076.5v6.7h1.6v-6.7zM1292.8 1087v5.2h1.6v-5.2zM1294.3 1076.5v10.7h1.6v-10.7zM1295.8 1097.5v24h1.6v-24zM1297.3 1065.5v4.2h1.6v-4.2zM1297.3 1074v5.7h1.6v-5.7zM1297.3 1087v5.2h1.6v-5.2zM1298.8 1083v9.2h1.6v-9.2zM1300.4 1087v5.2h1.6v-5.2zM1300.4 1108v13.5h1.6v-13.5zM1301.9 1087v5.2h1.6v-5.2zM1303.4 1069.5v7.2h1.6v-7.2zM1304.9 1087v5.2h1.6v-5.2zM1306.4 1087v5.2h1.6v-5.2zM1306.4 1108v13.5h1.6v-13.5zM1307.9 1074v9.2h1.6v-9.2zM1309.4 1083v4.2h1.6v-4.2zM1310.9 1071.5v2.6h1.6v-2.6zM1310.9 1076.5v6.7h1.6v-6.7zM1312.4 1076.5v6.7h1.6v-6.7zM1312.4 1087v5.2h1.6v-5.2zM1313.9 1071.5v2.6h1.6v-2.6zM1313.9 1076.5v6.7h1.6v-6.7zM1313.9 1087v5.2h1.6v-5.2zM1315.4 1069.5v4.7h1.6v-4.7zM1315.4 1076.5v6.7h1.6v-6.7zM1316.9 1021.5v2.1h1.6v-2.1zM1316.9 1079.5v3.6h1.6v-3.6zM1316.9 1087v5.2h1.6v-5.2zM1318.4 1097.5v24h1.6v-24zM1321.4 1071.5v8.2h1.6v-8.2zM1322.9 1108v13.5h1.6v-13.5zM1324.4 1029.5v2.1h1.6v-2.1zM1325.9 1074v9.2h1.6v-9.2zM1325.9 1087v5.2h1.6v-5.2zM1327.4 1087v5.2h1.6v-5.2z"/>
<path fill="rgb(0,24,255)" d="M912.7 1092v5.7h1.6v-5.7zM914.2 1092v5.7h1.6v-5.7zM920.2 1087v5.2h1.6v-5.2zM923.2 1087v5.2h1.6v-5.2zM926.2 1039.5v2.1h1.6v-2.1zM926.2 1092v5.7h1.6v-5.7zM927.7 1097.5v24h1.6v-24zM929.2 1092v5.7h1.6v-5.7zM932.2 1097.5v10.7h1.6v-10.7zM933.7 1092v16.1h1.6v-16.1zM935.2 1092v5.7h1.6v-5.7zM942.8 1087v5.2h1.6v-5.2zM945.8 1092v5.7h1.6v-5.7zM948.8 997.5v2.1h1.6v-2.1zM957.8 1092v5.7h1.6v-5.7zM960.8 1108v13.5h1.6v-13.5zM963.8 1097.5v24h1.6v-24zM965.3 1097.5v24h1.6v-24zM966.8 1097.5v10.7h1.6v-10.7zM969.8 1097.5v24h1.6v-24zM971.3 1092v29.5h1.6v-29.5zM972.8 1097.5v24h1.6v-24zM975.8 1097.5v24h1.6v-24zM977.3 1097.5v10.7h1.6v-10.7zM978.8 997.5v2.1h1.6v-2.1zM978.8 1039.5v2.1h1.6v-2.1zM980.3 1092v5.7h1.6v-5.7zM981.8 1087v10.7h1.6v-10.7zM983.3 1097.5v10.7h1.6v-10.7zM984.8 1097.5v10.7h1.6v-10.7zM987.8 1097.5v24h1.6v-24zM993.8 1097.5v10.7h1.6v-10.7zM998.3 997.5v2.1h1.6v-2.1zM998.3 1108v13.5h1.6v-13.5zM1007.4 1097.5v24h1.6v-24zM1017.9 977.5v2.1h1.6v-2.1zM1019.4 975.5v4.2h1.6v-4.2zM1019.4 981.5v2.1h1.6v-2.1zM1019.4 991.5v2.1h1.6v-2.1zM1019.4 1027.5v4.2h1.6v-4.2zM1022.4 970.2v1.4h1.6v-1.4zM1022.4 975.5v2.1h1.6v-2.1zM1022.4 981.5v2.1h1.6v-2.1zM1022.4 993.5v2.1h1.6v-2.1zM1022.4 1009.5v2.1h1.6v-2.1zM1023.9 999.5v2.1h1.6v-2.1zM1023.9 1009.5v2.1h1.6v-2.1zM1026.9 1108v13.5h1.6v-13.5zM1029.9 1097.5v24h1.6v-24zM1031.4 1097.5v24h1.6v-24zM1034.4 995.5v2.1h1.6v-2.1zM1035.9 979.5v2.1h1.6v-2.1zM1035.9 989.5v2.1h1.6v-2.1zM1035.9 997.5v2.1h1.6v-2.1zM1035.9 1005.5v2.1h1.6v-2.1zM1037.4 985.5v2.1h1.6v-2.1zM1040.4 1027.5v2.1h1.6v-2.1zM1040.4 1041.5v2.1h1.6v-2.1zM1040.4 1045.5v6.2h1.6v-6.2zM1040.4 1053.5v2.1h1.6v-2.1zM1040.4 1059.5v2.1h1.6v-2.1zM1040.4 1063.5v6.2h1.6v-6.2zM1041.9 973.5v2.1h1.6v-2.1zM1041.9 989.5v2.1h1.6v-2.1zM1043.4 995.5v2.1h1.6v-2.1zM1043.4 999.5v2.1h1.6v-2.1zM1043.4 1015.5v2.1h1.6v-2.1zM1046.4 979.5v2.1h1.6v-2.1zM1046.4 1027.5v2.1h1.6v-2.1zM1046.4 1031.5v2.1h1.6v-2.1zM1047.9 977.5v2.1h1.6v-2.1zM1047.9 1003.5v2.1h1.6v-2.1zM1047.9 1029.5v2.1h1.6v-2.1zM1049.4 971.5v2.1h1.6v-2.1zM1050.9 985.5v4.2h1.6v-4.2zM1050.9 999.5v2.1h1.6v-2.1zM1053.9 975.5v2.1h1.6v-2.1zM1053.9 985.5v2.1h1.6v-2.1zM1055.4 1009.5v2.1h1.6v-2.1zM1059.9 973.5v2.1h1.6v-2.1zM1059.9 987.5v2.1h1.6v-2.1zM1059.9 1011.5v2.1h1.6v-2.1zM1063 970.2v1.4h1.6v-1.4zM1063 973.5v2.1h1.6v-2.1zM1063 991.5v2.1h1.6v-2.1zM1063 999.5v2.1h1.6v-2.1zM1063 1021.5v2.1h1.6v-2.1zM1064.5 971.5v2.1h1.6v-2.1zM1064.5 997.5v2.1h1.6v-2.1zM1064.5 1017.5v4.2h1.6v-4.2zM1064.5 1025.5v2.1h1.6v-2.1zM1067.5 975.5v2.1h1.6v-2.1zM1067.5 1003.5v2.1h1.6v-2.1zM1069 1023.5v2.1h1.6v-2.1zM1069 1027.5v2.1h1.6v-2.1zM1069 1033.5v2.1h1.6v-2.1zM1069 1049.5v2.1h1.6v-2.1zM1070.5 981.5v2.1h1.6v-2.1zM1070.5 1027.5v2.1h1.6v-2.1zM1072 989.5v4.2h1.6v-4.2zM1072 1055.5v2.1h1.6v-2.1zM1073.5 973.5v4.2h1.6v-4.2zM1075 979.5v2.1h1.6v-2.1zM1075 985.5v2.1h1.6v-2.1zM1075 989.5v2.1h1.6v-2.1zM1075 1003.5v2.1h1.6v-2.1zM1078 977.5v2.1h1.6v-2.1zM1078 983.5v2.1h1.6v-2.1zM1078 1007.5v2.1h1.6v-2.1zM1078 1019.5v2.1h1.6v-2.1zM1079.5 997.5v2.1h1.6v-2.1zM1081 1001.5v2.1h1.6v-2.1zM1081 1007.5v2.1h1.6v-2.1zM1081 1011.5v2.1h1.6v-2.1zM1082.5 1041.5v2.1h1.6v-2.1zM1082.5 1045.5v2.1h1.6v-2.1zM1082.5 1061.5v2.1h1.6v-2.1zM1082.5 1065.5v2.1h1.6v-2.1zM1085.5 989.5v2.1h1.6v-2.1zM1085.5 1009.5v2.1h1.6v-2.1zM1087 970.2v1.4h1.6v-1.4zM1087 973.5v2.1h1.6v-2.1zM1087 997.5v4.2h1.6v-4.2zM1087 1023.5v2.1h1.6v-2.1zM1088.5 970.2v3.4h1.6v-3.4zM1088.5 981.5v2.1h1.6v-2.1zM1088.5 993.5v2.1h1.6v-2.1zM1090 1025.5v2.1h1.6v-2.1zM1090 1041.5v2.1h1.6v-2.1zM1090 1049.5v4.2h1.6v-4.2zM1093 973.5v2.1h1.6v-2.1zM1093 985.5v2.1h1.6v-2.1zM1093 1019.5v2.1h1.6v-2.1zM1093 1031.5v2.1h1.6v-2.1zM1094.5 973.5v2.1h1.6v-2.1zM1094.5 981.5v2.1h1.6v-2.1zM1094.5 997.5v2.1h1.6v-2.1zM1096 1035.5v2.1h1.6v-2.1zM1096 1041.5v4.2h1.6v-4.2zM1096 1051.5v4.2h1.6v-4.2zM1096 1063.5v2.1h1.6v-2.1zM1099 970.2v1.4h1.6v-1.4zM1099 981.5v2.1h1.6v-2.1zM1099 999.5v2.1h1.6v-2.1zM1099 1005.5v4.2h1.6v-4.2zM1099 1013.5v2.1h1.6v-2.1zM1100.5 1017.5v2.1h1.6v-2.1zM1100.5 1021.5v2.1h1.6v-2.1zM1100.5 1027.5v2.1h1.6v-2.1zM1102 971.5v2.1h1.6v-2.1zM1102 991.5v2.1h1.6v-2.1zM1102 1017.5v2.1h1.6v-2.1zM1102 1023.5v2.1h1.6v-2.1zM1105 970.2v1.4h1.6v-1.4zM1105 979.5v2.1h1.6v-2.1zM1105 991.5v2.1h1.6v-2.1zM1106.5 977.5v2.1h1.6v-2.1zM1106.5 989.5v2.1h1.6v-2.1zM1106.5 1013.5v2.1h1.6v-2.1zM1108 987.5v4.2h1.6v-4.2zM1108 1047.5v2.1h1.6v-2.1zM1111 979.5v4.2h1.6v-4.2zM1111 1013.5v2.1h1.6v-2.1zM1112.5 983.5v2.1h1.6v-2.1zM1112.5 1007.5v2.1h1.6v-2.1zM1112.5 1015.5v2.1h1.6v-2.1zM1114 979.5v2.1h1.6v-2.1zM1114 1005.5v2.1h1.6v-2.1zM1117 1015.5v2.1h1.6v-2.1zM1118.5 995.5v2.1h1.6v-2.1zM1118.5 1021.5v2.1h1.6v-2.1zM1120.1 987.5v2.1h1.6v-2.1zM1121.6 999.5v4.2h1.6v-4.2zM1121.6 1005.5v2.1h1.6v-2.1zM1123.1 1097.5v24h1.6v-24zM1124.6 1097.5v24h1.6v-24zM1126.1 1097.5v24h1.6v-24zM1127.6 1005.5v2.1h1.6v-2.1zM1127.6 1021.5v2.1h1.6v-2.1zM1127.6 1025.5v2.1h1.6v-2.1zM1127.6 1033.5v2.1h1.6v-2.1zM1127.6 1037.5v4.2h1.6v-4.2zM1129.1 1005.5v2.1h1.6v-2.1zM1129.1 1023.5v2.1h1.6v-2.1zM1129.1 1027.5v2.1h1.6v-2.1zM1132.1 1009.5v2.1h1.6v-2.1zM1133.6 1033.5v2.1h1.6v-2.1zM1133.6 1039.5v4.2h1.6v-4.2zM1133.6 1047.5v4.2h1.6v-4.2zM1133.6 1055.5v2.1h1.6v-2.1zM1133.6 1065.5v2.1h1.6v-2.1zM1135.1 1019.5v2.1h1.6v-2.1zM1135.1 1027.5v2.1h1.6v-2.1zM1135.1 1031.5v2.1h1.6v-2.1zM1135.1 1039.5v2.1h1.6v-2.1zM1135.1 1051.5v4.2h1.6v-4.2zM1136.6 1097.5v24h1.6v-24zM1138.1 987.5v2.1h1.6v-2.1zM1138.1 993.5v2.1h1.6v-2.1zM1138.1 1011.5v8.2h1.6v-8.2zM1138.1 1025.5v2.1h1.6v-2.1zM1139.6 981.5v2.1h1.6v-2.1zM1139.6 1005.5v2.1h1.6v-2.1zM1141.1 981.5v2.1h1.6v-2.1zM1142.6 995.5v2.1h1.6v-2.1zM1142.6 999.5v2.1h1.6v-2.1zM1142.6 1005.5v4.2h1.6v-4.2zM1144.1 1015.5v2.1h1.6v-2.1zM1145.6 977.5v2.1h1.6v-2.1zM1145.6 1015.5v2.1h1.6v-2.1zM1145.6 1019.5v2.1h1.6v-2.1zM1148.6 1033.5v2.1h1.6v-2.1zM1148.6 1041.5v2.1h1.6v-2.1zM1148.6 1051.5v2.1h1.6v-2.1zM1148.6 1055.5v2.1h1.6v-2.1zM1148.6 1061.5v12.7h1.6v-12.7zM1150.1 973.5v2.1h1.6v-2.1zM1150.1 977.5v2.1h1.6v-2.1zM1150.1 983.5v2.1h1.6v-2.1zM1150.1 989.5v2.1h1.6v-2.1zM1150.1 1003.5v2.1h1.6v-2.1zM1151.6 973.5v2.1h1.6v-2.1zM1151.6 977.5v2.1h1.6v-2.1zM1153.1 1019.5v2.1h1.6v-2.1zM1153.1 1027.5v2.1h1.6v-2.1zM1153.1 1035.5v2.1h1.6v-2.1zM1154.6 987.5v2.1h1.6v-2.1zM1154.6 993.5v2.1h1.6v-2.1zM1154.6 1017.5v4.2h1.6v-4.2zM1154.6 1035.5v4.2h1.6v-4.2zM1156.1 993.5v2.1h1.6v-2.1zM1156.1 1001.5v2.1h1.6v-2.1zM1159.1 1097.5v10.7h1.6v-10.7zM1162.1 1049.5v8.2h1.6v-8.2zM1162.1 1065.5v8.7h1.6v-8.7zM1163.6 1029.5v6.2h1.6v-6.2zM1163.6 1037.5v2.1h1.6v-2.1zM1163.6 1051.5v6.2h1.6v-6.2zM1163.6 1061.5v2.1h1.6v-2.1zM1165.1 987.5v2.1h1.6v-2.1zM1165.1 1023.5v2.1h1.6v-2.1zM1165.1 1039.5v2.1h1.6v-2.1zM1165.1 1043.5v2.1h1.6v-2.1zM1166.6 973.5v2.1h1.6v-2.1zM1166.6 1011.5v2.1h1.6v-2.1zM1168.1 1025.5v10.2h1.6v-10.2zM1168.1 1037.5v2.1h1.6v-2.1zM1168.1 1043.5v2.1h1.6v-2.1zM1169.6 995.5v2.1h1.6v-2.1zM1169.6 1031.5v2.1h1.6v-2.1zM1169.6 1035.5v4.2h1.6v-4.2zM1169.6 1043.5v2.1h1.6v-2.1zM1169.6 1047.5v2.1h1.6v-2.1zM1171.1 999.5v2.1h1.6v-2.1zM1171.1 1011.5v2.1h1.6v-2.1zM1172.6 1087v5.2h1.6v-5.2zM1174.1 1076.5v6.7h1.6v-6.7zM1175.6 1092v5.7h1.6v-5.7zM1177.1 1087v5.2h1.6v-5.2zM1178.6 1076.5v6.7h1.6v-6.7zM1180.2 1087v5.2h1.6v-5.2zM1183.2 1092v5.7h1.6v-5.7zM1184.7 1092v5.7h1.6v-5.7zM1186.2 1087v5.2h1.6v-5.2zM1187.7 1092v5.7h1.6v-5.7zM1189.2 1092v5.7h1.6v-5.7zM1190.7 1087v5.2h1.6v-5.2zM1192.2 1092v16.1h1.6v-16.1zM1196.7 1092v5.7h1.6v-5.7zM1198.2 1092v5.7h1.6v-5.7zM1199.7 1079.5v3.6h1.6v-3.6zM1199.7 1087v5.2h1.6v-5.2zM1205.7 1079.5v3.6h1.6v-3.6zM1205.7 1087v5.2h1.6v-5.2zM1208.7 1092v5.7h1.6v-5.7zM1211.7 1087v5.2h1.6v-5.2zM1216.2 1092v5.7h1.6v-5.7zM1217.7 1092v5.7h1.6v-5.7zM1220.7 1087v5.2h1.6v-5.2zM1222.2 1092v5.7h1.6v-5.7zM1223.7 1092v5.7h1.6v-5.7zM1225.2 1079.5v3.6h1.6v-3.6zM1225.2 1087v5.2h1.6v-5.2zM1226.7 1087v5.2h1.6v-5.2zM1228.2 1087v5.2h1.6v-5.2zM1229.7 1087v5.2h1.6v-5.2zM1231.2 1087v5.2h1.6v-5.2zM1232.7 1087v5.2h1.6v-5.2zM1235.7 1076.5v6.7h1.6v-6.7zM1235.7 1087v5.2h1.6v-5.2zM1237.2 1087v5.2h1.6v-5.2zM1243.3 1087v5.2h1.6v-5.2zM1243.3 1097.5v10.7h1.6v-10.7zM1244.8 1087v5.2h1.6v-5.2zM1246.3 1092v5.7h1.6v-5.7zM1247.8 1087v5.2h1.6v-5.2zM1249.3 1083v4.2h1.6v-4.2zM1249.3 1097.5v10.7h1.6v-10.7zM1250.8 1076.5v3.1h1.6v-3.1zM1252.3 1076.5v3.1h1.6v-3.1zM1252.3 1087v5.2h1.6v-5.2zM1253.8 1076.5v3.1h1.6v-3.1zM1253.8 1087v5.2h1.6v-5.2zM1255.3 1061.5v2.1h1.6v-2.1zM1255.3 1065.5v2.1h1.6v-2.1zM1255.3 1069.5v2.1h1.6v-2.1zM1256.8 1071.5v5.2h1.6v-5.2zM1256.8 1079.5v3.6h1.6v-3.6zM1256.8 1087v5.2h1.6v-5.2zM1258.3 1057.5v2.1h1.6v-2.1zM1258.3 1067.5v2.1h1.6v-2.1zM1259.8 1059.5v8.2h1.6v-8.2zM1261.3 1047.5v2.1h1.6v-2.1zM1261.3 1051.5v4.2h1.6v-4.2zM1261.3 1079.5v3.6h1.6v-3.6zM1261.3 1087v5.2h1.6v-5.2zM1262.8 1041.5v2.1h1.6v-2.1zM1262.8 1045.5v2.1h1.6v-2.1zM1262.8 1051.5v2.1h1.6v-2.1zM1262.8 1057.5v2.1h1.6v-2.1zM1262.8 1087v5.2h1.6v-5.2zM1264.3 1051.5v2.1h1.6v-2.1zM1264.3 1055.5v2.1h1.6v-2.1zM1264.3 1063.5v2.1h1.6v-2.1zM1264.3 1087v5.2h1.6v-5.2zM1265.8 1035.5v8.2h1.6v-8.2zM1265.8 1047.5v2.1h1.6v-2.1zM1265.8 1053.5v2.1h1.6v-2.1zM1267.3 1029.5v2.1h1.6v-2.1zM1267.3 1039.5v2.1h1.6v-2.1zM1268.8 1023.5v2.1h1.6v-2.1zM1268.8 1029.5v6.2h1.6v-6.2zM1268.8 1037.5v2.1h1.6v-2.1zM1268.8 1087v5.2h1.6v-5.2zM1270.3 1033.5v2.1h1.6v-2.1zM1270.3 1041.5v2.1h1.6v-2.1zM1270.3 1053.5v6.2h1.6v-6.2zM1271.8 1021.5v2.1h1.6v-2.1zM1271.8 1025.5v2.1h1.6v-2.1zM1271.8 1092v5.7h1.6v-5.7zM1273.3 1033.5v4.2h1.6v-4.2zM1273.3 1039.5v4.2h1.6v-4.2zM1274.8 1045.5v2.1h1.6v-2.1zM1274.8 1053.5v2.1h1.6v-2.1zM1274.8 1108v13.5h1.6v-13.5zM1276.3 973.5v2.1h1.6v-2.1zM1276.3 1031.5v2.1h1.6v-2.1zM1276.3 1037.5v2.1h1.6v-2.1zM1277.8 1039.5v2.1h1.6v-2.1zM1277.8 1045.5v2.1h1.6v-2.1zM1277.8 1049.5v2.1h1.6v-2.1zM1277.8 1097.5v24h1.6v-24zM1279.3 1049.5v6.2h1.6v-6.2zM1279.3 1057.5v6.2h1.6v-6.2zM1279.3 1065.5v2.1h1.6v-2.1zM1280.8 1063.5v2.1h1.6v-2.1zM1280.8 1074v2.6h1.6v-2.6zM1280.8 1079.5v3.6h1.6v-3.6zM1280.8 1087v5.2h1.6v-5.2zM1282.3 1076.5v6.7h1.6v-6.7zM1283.8 973.5v2.1h1.6v-2.1zM1283.8 1059.5v2.1h1.6v-2.1zM1283.8 1067.5v2.1h1.6v-2.1zM1283.8 1071.5v2.6h1.6v-2.6zM1283.8 1076.5v3.1h1.6v-3.1zM1285.3 973.5v2.1h1.6v-2.1zM1285.3 1059.5v6.2h1.6v-6.2zM1285.3 1079.5v3.6h1.6v-3.6zM1286.8 1063.5v10.7h1.6v-10.7zM1288.3 1067.5v2.1h1.6v-2.1zM1288.3 1071.5v8.2h1.6v-8.2zM1289.8 1071.5v2.6h1.6v-2.6zM1289.8 1076.5v10.7h1.6v-10.7zM1291.3 1083v4.2h1.6v-4.2zM1292.8 973.5v2.1h1.6v-2.1zM1292.8 1083v4.2h1.6v-4.2zM1295.8 973.5v2.1h1.6v-2.1zM1295.8 1092v5.7h1.6v-5.7zM1300.4 1092v16.1h1.6v-16.1zM1303.4 973.5v2.1h1.6v-2.1zM1303.4 1076.5v6.7h1.6v-6.7zM1303.4 1087v5.2h1.6v-5.2zM1304.9 1097.5v24h1.6v-24zM1306.4 1092v16.1h1.6v-16.1zM1307.9 1087v5.2h1.6v-5.2zM1309.4 1087v5.2h1.6v-5.2zM1312.4 1092v5.7h1.6v-5.7zM1313.9 1092v5.7h1.6v-5.7zM1315.4 1087v5.2h1.6v-5.2zM1316.9 1092v5.7h1.6v-5.7zM1318.4 1092v5.7h1.6v-5.7zM1321.4 1079.5v3.6h1.6v-3.6zM1321.4 1087v5.2h1.6v-5.2zM1322.9 1087v21.1h1.6v-21.1zM1324.4 1087v34.5h1.6v-34.5z"/>
<path fill="rgb(0,61,255)" d="M911.2 997.5v2.1h1.6v-2.1zM911.2 1108v13.5h1.6v-13.5zM912.7 1097.5v10.7h1.6v-10.7zM914.2 997.5v2.1h1.6v-2.1zM915.7 997.5v2.1h1.6v-2.1zM918.7 997.5v2.1h1.6v-2.1zM918.7 1092v5.7h1.6v-5.7zM920.2 997.5v2.1h1.6v-2.1zM921.7 1092v5.7h1.6v-5.7zM921.7 1108v13.5h1.6v-13.5zM923.2 997.5v2.1h1.6v-2.1zM924.7 997.5v2.1h1.6v-2.1zM924.7 1092v16.1h1.6v-16.1zM926.2 1097.5v24h1.6v-24zM927.7 1092v5.7h1.6v-5.7zM929.2 997.5v2.1h1.6v-2.1zM929.2 1097.5v24h1.6v-24zM930.7 997.5v2.1h1.6v-2.1zM930.7 1108v13.5h1.6v-13.5zM932.2 1092v5.7h1.6v-5.7zM932.2 1108v13.5h1.6v-13.5zM933.7 1108v13.5h1.6v-13.5zM935.2 997.5v2.1h1.6v-2.1zM936.7 997.5v2.1h1.6v-2.1zM938.2 997.5v2.1h1.6v-2.1zM938.2 1092v5.7h1.6v-5.7zM939.7 1092v5.7h1.6v-5.7zM941.3 997.5v2.1h1.6v-2.1zM941.3 1092v5.7h1.6v-5.7zM942.8 997.5v2.1h1.6v-2.1zM944.3 997.5v2.1h1.6v-2.1zM944.3 1097.5v24h1.6v-24zM945.8 1097.5v24h1.6v-24zM947.3 997.5v2.1h1.6v-2.1zM947.3 1097.5v24h1.6v-24zM950.3 997.5v2.1h1.6v-2.1zM950.3 1097.5v24h1.6v-24zM953.3 997.5v2.1h1.6v-2.1zM953.3 1097.5v24h1.6v-24zM956.3 997.5v2.1h1.6v-2.1zM957.8 997.5v2.1h1.6v-2.1zM957.8 1097.5v24h1.6v-24zM960.8 997.5v2.1h1.6v-2.1zM960.8 1097.5v10.7h1.6v-10.7zM962.3 1097.5v10.7h1.6v-10.7zM963.8 997.5v2.1h1.6v-2.1zM965.3 997.5v2.1h1.6v-2.1zM966.8 1108v13.5h1.6v-13.5zM971.3 997.5v2.1h1.6v-2.1zM983.3 997.5v2.1h1.6v-2.1zM983.3 1108v13.5h1.6v-13.5zM984.8 1108v13.5h1.6v-13.5zM986.3 997.5v2.1h1.6v-2.1zM987.8 997.5v2.1h1.6v-2.1zM989.3 997.5v2.1h1.6v-2.1zM995.3 997.5v2.1h1.6v-2.1zM995.3 1097.5v24h1.6v-24zM996.8 997.5v2.1h1.6v-2.1zM998.3 1097.5v10.7h1.6v-10.7zM1002.9 997.5v2.1h1.6v-2.1zM1005.9 997.5v2.1h1.6v-2.1zM1005.9 1108v13.5h1.6v-13.5zM1008.9 997.5v2.1h1.6v-2.1zM1014.9 1097.5v24h1.6v-24zM1016.4 1097.5v24h1.6v-24zM1017.9 985.5v2.1h1.6v-2.1zM1017.9 1005.5v2.1h1.6v-2.1zM1019.4 995.5v2.1h1.6v-2.1zM1019.4 1021.5v2.1h1.6v-2.1zM1022.4 1013.5v2.1h1.6v-2.1zM1023.9 979.5v4.2h1.6v-4.2zM1023.9 989.5v2.1h1.6v-2.1zM1023.9 1003.5v2.1h1.6v-2.1zM1023.9 1013.5v2.1h1.6v-2.1zM1025.4 1108v13.5h1.6v-13.5zM1026.9 1097.5v10.7h1.6v-10.7zM1028.4 1097.5v24h1.6v-24zM1032.9 1097.5v24h1.6v-24zM1034.4 977.5v2.1h1.6v-2.1zM1034.4 989.5v2.1h1.6v-2.1zM1034.4 1021.5v2.1h1.6v-2.1zM1035.9 973.5v2.1h1.6v-2.1zM1035.9 977.5v2.1h1.6v-2.1zM1035.9 983.5v2.1h1.6v-2.1zM1035.9 1021.5v2.1h1.6v-2.1zM1037.4 983.5v2.1h1.6v-2.1zM1038.9 987.5v2.1h1.6v-2.1zM1040.4 1061.5v2.1h1.6v-2.1zM1040.4 1069.5v7.2h1.6v-7.2zM1041.9 981.5v2.1h1.6v-2.1zM1043.4 979.5v4.2h1.6v-4.2zM1043.4 997.5v2.1h1.6v-2.1zM1043.4 1005.5v2.1h1.6v-2.1zM1043.4 1009.5v4.2h1.6v-4.2zM1043.4 1017.5v2.1h1.6v-2.1zM1043.4 1025.5v2.1h1.6v-2.1zM1043.4 1055.5v2.1h1.6v-2.1zM1044.9 999.5v2.1h1.6v-2.1zM1044.9 1005.5v2.1h1.6v-2.1zM1046.4 975.5v2.1h1.6v-2.1zM1046.4 981.5v2.1h1.6v-2.1zM1046.4 995.5v2.1h1.6v-2.1zM1046.4 1001.5v2.1h1.6v-2.1zM1046.4 1051.5v2.1h1.6v-2.1zM1047.9 987.5v2.1h1.6v-2.1zM1049.4 1003.5v2.1h1.6v-2.1zM1050.9 1023.5v2.1h1.6v-2.1zM1052.4 970.2v1.4h1.6v-1.4zM1053.9 979.5v2.1h1.6v-2.1zM1053.9 989.5v2.1h1.6v-2.1zM1055.4 970.2v3.4h1.6v-3.4zM1055.4 993.5v2.1h1.6v-2.1zM1055.4 1005.5v2.1h1.6v-2.1zM1058.4 973.5v2.1h1.6v-2.1zM1058.4 1013.5v4.2h1.6v-4.2zM1061.5 1017.5v2.1h1.6v-2.1zM1063 981.5v2.1h1.6v-2.1zM1063 985.5v2.1h1.6v-2.1zM1063 1005.5v2.1h1.6v-2.1zM1063 1035.5v2.1h1.6v-2.1zM1064.5 1003.5v2.1h1.6v-2.1zM1064.5 1009.5v2.1h1.6v-2.1zM1064.5 1023.5v2.1h1.6v-2.1zM1066 981.5v2.1h1.6v-2.1zM1066 991.5v2.1h1.6v-2.1zM1067.5 971.5v2.1h1.6v-2.1zM1067.5 985.5v4.2h1.6v-4.2zM1067.5 1005.5v2.1h1.6v-2.1zM1069 1043.5v2.1h1.6v-2.1zM1069 1057.5v2.1h1.6v-2.1zM1070.5 993.5v2.1h1.6v-2.1zM1070.5 999.5v2.1h1.6v-2.1zM1070.5 1011.5v4.2h1.6v-4.2zM1070.5 1021.5v2.1h1.6v-2.1zM1072 970.2v1.4h1.6v-1.4zM1072 977.5v2.1h1.6v-2.1zM1072 997.5v2.1h1.6v-2.1zM1072 1009.5v2.1h1.6v-2.1zM1072 1015.5v2.1h1.6v-2.1zM1072 1025.5v2.1h1.6v-2.1zM1073.5 1001.5v2.1h1.6v-2.1zM1075 973.5v2.1h1.6v-2.1zM1075 991.5v2.1h1.6v-2.1zM1075 997.5v4.2h1.6v-4.2zM1075 1019.5v2.1h1.6v-2.1zM1075 1025.5v2.1h1.6v-2.1zM1075 1033.5v2.1h1.6v-2.1zM1078 987.5v2.1h1.6v-2.1zM1078 995.5v2.1h1.6v-2.1zM1078 999.5v2.1h1.6v-2.1zM1079.5 971.5v4.2h1.6v-4.2zM1079.5 993.5v2.1h1.6v-2.1zM1079.5 1021.5v2.1h1.6v-2.1zM1081 979.5v2.1h1.6v-2.1zM1081 985.5v2.1h1.6v-2.1zM1081 1003.5v2.1h1.6v-2.1zM1081 1013.5v2.1h1.6v-2.1zM1081 1029.5v2.1h1.6v-2.1zM1082.5 1053.5v4.2h1.6v-4.2zM1082.5 1063.5v2.1h1.6v-2.1zM1082.5 1067.5v9.2h1.6v-9.2zM1085.5 991.5v2.1h1.6v-2.1zM1087 983.5v2.1h1.6v-2.1zM1087 991.5v4.2h1.6v-4.2zM1088.5 979.5v2.1h1.6v-2.1zM1088.5 997.5v2.1h1.6v-2.1zM1088.5 1007.5v2.1h1.6v-2.1zM1088.5 1015.5v2.1h1.6v-2.1zM1090 1055.5v2.1h1.6v-2.1zM1090 1061.5v8.2h1.6v-8.2zM1091.5 1005.5v2.1h1.6v-2.1zM1093 971.5v2.1h1.6v-2.1zM1093 993.5v2.1h1.6v-2.1zM1093 1007.5v2.1h1.6v-2.1zM1094.5 979.5v2.1h1.6v-2.1zM1096 1045.5v6.2h1.6v-6.2zM1096 1055.5v8.2h1.6v-8.2zM1099 973.5v2.1h1.6v-2.1zM1099 983.5v2.1h1.6v-2.1zM1099 1025.5v2.1h1.6v-2.1zM1100.5 1011.5v2.1h1.6v-2.1zM1100.5 1015.5v2.1h1.6v-2.1zM1100.5 1023.5v2.1h1.6v-2.1zM1102 973.5v2.1h1.6v-2.1zM1102 1001.5v2.1h1.6v-2.1zM1102 1015.5v2.1h1.6v-2.1zM1102 1033.5v2.1h1.6v-2.1zM1103.5 979.5v2.1h1.6v-2.1zM1103.5 985.5v2.1h1.6v-2.1zM1103.5 999.5v2.1h1.6v-2.1zM1103.5 1005.5v2.1h1.6v-2.1zM1105 981.5v2.1h1.6v-2.1zM1106.5 970.2v1.4h1.6v-1.4zM1106.5 985.5v2.1h1.6v-2.1zM1106.5 1005.5v2.1h1.6v-2.1zM1106.5 1011.5v2.1h1.6v-2.1zM1106.5 1019.5v2.1h1.6v-2.1zM1108 985.5v2.1h1.6v-2.1zM1108 1007.5v4.2h1.6v-4.2zM1108 1041.5v2.1h1.6v-2.1zM1111 1009.5v2.1h1.6v-2.1zM1111 1015.5v2.1h1.6v-2.1zM1111 1031.5v2.1h1.6v-2.1zM1112.5 981.5v2.1h1.6v-2.1zM1112.5 993.5v2.1h1.6v-2.1zM1112.5 999.5v2.1h1.6v-2.1zM1112.5 1005.5v2.1h1.6v-2.1zM1112.5 1017.5v2.1h1.6v-2.1zM1112.5 1027.5v2.1h1.6v-2.1zM1114 981.5v2.1h1.6v-2.1zM1114 989.5v2.1h1.6v-2.1zM1114 997.5v2.1h1.6v-2.1zM1114 1001.5v2.1h1.6v-2.1zM1114 1007.5v2.1h1.6v-2.1zM1114 1033.5v2.1h1.6v-2.1zM1117 970.2v1.4h1.6v-1.4zM1117 989.5v2.1h1.6v-2.1zM1118.5 993.5v2.1h1.6v-2.1zM1118.5 1003.5v2.1h1.6v-2.1zM1118.5 1011.5v2.1h1.6v-2.1zM1118.5 1019.5v2.1h1.6v-2.1zM1118.5 1025.5v2.1h1.6v-2.1zM1120.1 985.5v2.1h1.6v-2.1zM1120.1 1009.5v2.1h1.6v-2.1zM1121.6 971.5v4.2h1.6v-4.2zM1121.6 977.5v2.1h1.6v-2.1zM1121.6 1029.5v2.1h1.6v-2.1zM1127.6 995.5v2.1h1.6v-2.1zM1127.6 1055.5v2.1h1.6v-2.1zM1129.1 1047.5v2.1h1.6v-2.1zM1132.1 1023.5v2.1h1.6v-2.1zM1132.1 1027.5v4.2h1.6v-4.2zM1132.1 1043.5v4.2h1.6v-4.2zM1132.1 1051.5v6.2h1.6v-6.2zM1132.1 1061.5v2.1h1.6v-2.1zM1133.6 1045.5v2.1h1.6v-2.1zM1133.6 1057.5v8.2h1.6v-8.2zM1133.6 1067.5v6.7h1.6v-6.7zM1135.1 1049.5v2.1h1.6v-2.1zM1135.1 1059.5v8.2h1.6v-8.2zM1138.1 979.5v2.1h1.6v-2.1zM1138.1 1019.5v2.1h1.6v-2.1zM1138.1 1031.5v2.1h1.6v-2.1zM1139.6 997.5v2.1h1.6v-2.1zM1139.6 1015.5v2.1h1.6v-2.1zM1142.6 1015.5v2.1h1.6v-2.1zM1144.1 997.5v2.1h1.6v-2.1zM1144.1 1005.5v2.1h1.6v-2.1zM1144.1 1011.5v2.1h1.6v-2.1zM1144.1 1017.5v2.1h1.6v-2.1zM1144.1 1029.5v2.1h1.6v-2.1zM1145.6 979.5v2.1h1.6v-2.1zM1145.6 985.5v2.1h1.6v-2.1zM1145.6 993.5v2.1h1.6v-2.1zM1148.6 1039.5v2.1h1.6v-2.1zM1148.6 1074v9.2h1.6v-9.2zM1150.1 991.5v2.1h1.6v-2.1zM1150.1 1023.5v2.1h1.6v-2.1zM1150.1 1027.5v2.1h1.6v-2.1zM1150.1 1035.5v4.2h1.6v-4.2zM1150.1 1041.5v2.1h1.6v-2.1zM1151.6 1005.5v2.1h1.6v-2.1zM1153.1 1015.5v2.1h1.6v-2.1zM1153.1 1033.5v2.1h1.6v-2.1zM1153.1 1041.5v2.1h1.6v-2.1zM1153.1 1045.5v2.1h1.6v-2.1zM1154.6 997.5v2.1h1.6v-2.1zM1154.6 1001.5v2.1h1.6v-2.1zM1154.6 1005.5v2.1h1.6v-2.1zM1154.6 1009.5v2.1h1.6v-2.1zM1154.6 1013.5v2.1h1.6v-2.1zM1154.6 1033.5v2.1h1.6v-2.1zM1154.6 1043.5v2.1h1.6v-2.1zM1156.1 1005.5v2.1h1.6v-2.1zM1156.1 1039.5v2.1h1.6v-2.1zM1157.6 1097.5v24h1.6v-24zM1159.1 1108v13.5h1.6v-13.5zM1160.6 1097.5v24h1.6v-24zM1162.1 1045.5v2.1h1.6v-2.1zM1162.1 1074v9.2h1.6v-9.2zM1163.6 1045.5v4.2h1.6v-4.2zM1163.6 1057.5v4.2h1.6v-4.2zM1163.6 1065.5v2.1h1.6v-2.1zM1166.6 995.5v2.1h1.6v-2.1zM1166.6 999.5v4.2h1.6v-4.2zM1166.6 1005.5v2.1h1.6v-2.1zM1166.6 1025.5v2.1h1.6v-2.1zM1166.6 1033.5v4.2h1.6v-4.2zM1168.1 1017.5v2.1h1.6v-2.1zM1168.1 1035.5v2.1h1.6v-2.1zM1168.1 1045.5v2.1h1.6v-2.1zM1168.1 1049.5v2.1h1.6v-2.1zM1168.1 1053.5v2.1h1.6v-2.1zM1169.6 1023.5v2.1h1.6v-2.1zM1169.6 1049.5v2.1h1.6v-2.1zM1171.1 1013.5v2.1h1.6v-2.1zM1171.1 1019.5v4.2h1.6v-4.2zM1171.1 1025.5v2.1h1.6v-2.1zM1171.1 1029.5v2.1h1.6v-2.1zM1171.1 1033.5v2.1h1.6v-2.1zM1171.1 1039.5v2.1h1.6v-2.1zM1171.1 1049.5v2.1h1.6v-2.1zM1172.6 1092v5.7h1.6v-5.7zM1174.1 1087v5.2h1.6v-5.2zM1175.6 1097.5v10.7h1.6v-10.7zM1178.6 1087v5.2h1.6v-5.2zM1189.2 1108v13.5h1.6v-13.5zM1193.7 1092v5.7h1.6v-5.7zM1195.2 1092v5.7h1.6v-5.7zM1201.2 1092v5.7h1.6v-5.7zM1202.7 1092v5.7h1.6v-5.7zM1204.2 1087v5.2h1.6v-5.2zM1205.7 1092v5.7h1.6v-5.7zM1207.2 1092v5.7h1.6v-5.7zM1210.2 1092v5.7h1.6v-5.7zM1216.2 1097.5v10.7h1.6v-10.7zM1219.2 1092v5.7h1.6v-5.7zM1225.2 1092v5.7h1.6v-5.7zM1228.2 1092v5.7h1.6v-5.7zM1229.7 1092v5.7h1.6v-5.7zM1234.2 1092v5.7h1.6v-5.7zM1237.2 1092v5.7h1.6v-5.7zM1238.7 1092v5.7h1.6v-5.7zM1240.3 1092v5.7h1.6v-5.7zM1241.8 1092v5.7h1.6v-5.7zM1243.3 1092v5.7h1.6v-5.7zM1244.8 1092v5.7h1.6v-5.7zM1246.3 981.5v2.1h1.6v-2.1zM1247.8 981.5v2.1h1.6v-2.1zM1250.8 1079.5v3.6h1.6v-3.6zM1252.3 1083v4.2h1.6v-4.2zM1253.8 1092v5.7h1.6v-5.7zM1255.3 1071.5v11.7h1.6v-11.7zM1256.8 1083v4.2h1.6v-4.2zM1258.3 1069.5v2.1h1.6v-2.1zM1258.3 1074v2.6h1.6v-2.6zM1258.3 1079.5v3.6h1.6v-3.6zM1258.3 1087v5.2h1.6v-5.2zM1259.8 1067.5v2.1h1.6v-2.1zM1259.8 1071.5v2.6h1.6v-2.6zM1259.8 1083v4.2h1.6v-4.2zM1261.3 1055.5v6.2h1.6v-6.2zM1262.8 1055.5v2.1h1.6v-2.1zM1264.3 1061.5v2.1h1.6v-2.1zM1264.3 1065.5v4.2h1.6v-4.2zM1264.3 1071.5v2.6h1.6v-2.6zM1264.3 1092v5.7h1.6v-5.7zM1265.8 1043.5v2.1h1.6v-2.1zM1265.8 1051.5v2.1h1.6v-2.1zM1265.8 1057.5v4.2h1.6v-4.2zM1265.8 1092v5.7h1.6v-5.7zM1267.3 973.5v2.1h1.6v-2.1zM1267.3 1041.5v10.2h1.6v-10.2zM1268.8 981.5v2.1h1.6v-2.1zM1268.8 1041.5v4.2h1.6v-4.2zM1270.3 973.5v2.1h1.6v-2.1zM1270.3 1059.5v4.2h1.6v-4.2zM1270.3 1065.5v4.2h1.6v-4.2zM1270.3 1083v4.2h1.6v-4.2zM1271.8 1019.5v2.1h1.6v-2.1zM1271.8 1033.5v4.2h1.6v-4.2zM1273.3 1051.5v2.1h1.6v-2.1zM1273.3 1055.5v2.1h1.6v-2.1zM1273.3 1059.5v2.1h1.6v-2.1zM1273.3 1092v5.7h1.6v-5.7zM1274.8 1055.5v2.1h1.6v-2.1zM1274.8 1059.5v6.2h1.6v-6.2zM1274.8 1067.5v4.2h1.6v-4.2zM1276.3 1047.5v4.2h1.6v-4.2zM1276.3 1053.5v4.2h1.6v-4.2zM1277.8 973.5v2.1h1.6v-2.1zM1277.8 981.5v2.1h1.6v-2.1zM1277.8 1053.5v4.2h1.6v-4.2zM1279.3 973.5v2.1h1.6v-2.1zM1279.3 1067.5v2.1h1.6v-2.1zM1279.3 1071.5v2.6h1.6v-2.6zM1279.3 1076.5v3.1h1.6v-3.1zM1280.8 973.5v2.1h1.6v-2.1zM1280.8 1083v4.2h1.6v-4.2zM1282.3 973.5v2.1h1.6v-2.1zM1282.3 981.5v2.1h1.6v-2.1zM1283.8 1083v4.2h1.6v-4.2zM1283.8 1092v5.7h1.6v-5.7zM1285.3 1083v4.2h1.6v-4.2zM1285.3 1092v5.7h1.6v-5.7zM1286.8 973.5v2.1h1.6v-2.1zM1286.8 1079.5v3.6h1.6v-3.6zM1288.3 1079.5v3.6h1.6v-3.6zM1289.8 973.5v2.1h1.6v-2.1zM1294.3 973.5v2.1h1.6v-2.1zM1294.3 1087v5.2h1.6v-5.2zM1297.3 973.5v2.1h1.6v-2.1zM1298.8 973.5v2.1h1.6v-2.1zM1298.8 1092v5.7h1.6v-5.7zM1300.4 973.5v2.1h1.6v-2.1zM1301.9 1092v5.7h1.6v-5.7zM1304.9 1092v5.7h1.6v-5.7zM1306.4 981.5v2.1h1.6v-2.1zM1309.4 1092v5.7h1.6v-5.7zM1310.9 1087v5.2h1.6v-5.2zM1315.4 1092v5.7h1.6v-5.7zM1319.9 1092v5.7h1.6v-5.7zM1325.9 1092v5.7h1.6v-5.7zM1327.4 1092v5.7h1.6v-5.7z"/>
<path fill="rgb(0,99,255)" d="M911.2 1092v16.1h1.6v-16.1zM912.7 1108v13.5h1.6v-13.5zM914.2 1108v13.5h1.6v-13.5zM915.7 1092v29.5h1.6v-29.5zM917.2 1092v5.7h1.6v-5.7zM917.2 1108v13.5h1.6v-13.5zM921.7 1097.5v10.7h1.6v-10.7zM923.2 1092v5.7h1.6v-5.7zM923.2 1108v13.5h1.6v-13.5zM924.7 1108v13.5h1.6v-13.5zM930.7 1092v16.1h1.6v-16.1zM935.2 1108v13.5h1.6v-13.5zM936.7 1092v5.7h1.6v-5.7zM939.7 1108v13.5h1.6v-13.5zM962.3 1108v13.5h1.6v-13.5zM978.8 1097.5v24h1.6v-24zM1001.4 997.5v2.1h1.6v-2.1zM1017.9 973.5v2.1h1.6v-2.1zM1017.9 981.5v2.1h1.6v-2.1zM1017.9 1003.5v2.1h1.6v-2.1zM1017.9 1017.5v2.1h1.6v-2.1zM1019.4 971.5v2.1h1.6v-2.1zM1019.4 979.5v2.1h1.6v-2.1zM1020.9 979.5v2.1h1.6v-2.1zM1022.4 1011.5v2.1h1.6v-2.1zM1023.9 1001.5v2.1h1.6v-2.1zM1023.9 1041.5v2.1h1.6v-2.1zM1023.9 1047.5v2.1h1.6v-2.1zM1025.4 1097.5v10.7h1.6v-10.7zM1034.4 971.5v2.1h1.6v-2.1zM1034.4 993.5v2.1h1.6v-2.1zM1034.4 1005.5v2.1h1.6v-2.1zM1034.4 1011.5v2.1h1.6v-2.1zM1035.9 1007.5v2.1h1.6v-2.1zM1035.9 1017.5v2.1h1.6v-2.1zM1037.4 979.5v2.1h1.6v-2.1zM1038.9 979.5v2.1h1.6v-2.1zM1040.4 1076.5v10.7h1.6v-10.7zM1041.9 995.5v6.2h1.6v-6.2zM1041.9 1011.5v2.1h1.6v-2.1zM1043.4 983.5v2.1h1.6v-2.1zM1043.4 993.5v2.1h1.6v-2.1zM1043.4 1007.5v2.1h1.6v-2.1zM1043.4 1013.5v2.1h1.6v-2.1zM1043.4 1023.5v2.1h1.6v-2.1zM1043.4 1039.5v2.1h1.6v-2.1zM1044.9 997.5v2.1h1.6v-2.1zM1044.9 1019.5v2.1h1.6v-2.1zM1046.4 993.5v2.1h1.6v-2.1zM1046.4 1015.5v2.1h1.6v-2.1zM1046.4 1023.5v4.2h1.6v-4.2zM1047.9 983.5v2.1h1.6v-2.1zM1047.9 993.5v2.1h1.6v-2.1zM1047.9 999.5v2.1h1.6v-2.1zM1047.9 1009.5v2.1h1.6v-2.1zM1049.4 983.5v2.1h1.6v-2.1zM1050.9 979.5v2.1h1.6v-2.1zM1053.9 971.5v2.1h1.6v-2.1zM1053.9 1043.5v2.1h1.6v-2.1zM1055.4 973.5v2.1h1.6v-2.1zM1055.4 981.5v2.1h1.6v-2.1zM1058.4 977.5v2.1h1.6v-2.1zM1058.4 983.5v2.1h1.6v-2.1zM1058.4 993.5v2.1h1.6v-2.1zM1058.4 997.5v2.1h1.6v-2.1zM1058.4 1033.5v2.1h1.6v-2.1zM1059.9 991.5v2.1h1.6v-2.1zM1059.9 1007.5v2.1h1.6v-2.1zM1059.9 1019.5v2.1h1.6v-2.1zM1061.5 975.5v2.1h1.6v-2.1zM1063 1007.5v2.1h1.6v-2.1zM1063 1027.5v2.1h1.6v-2.1zM1063 1033.5v2.1h1.6v-2.1zM1064.5 1001.5v2.1h1.6v-2.1zM1064.5 1013.5v2.1h1.6v-2.1zM1064.5 1021.5v2.1h1.6v-2.1zM1064.5 1031.5v2.1h1.6v-2.1zM1064.5 1035.5v2.1h1.6v-2.1zM1066 993.5v2.1h1.6v-2.1zM1067.5 1007.5v2.1h1.6v-2.1zM1067.5 1021.5v2.1h1.6v-2.1zM1067.5 1045.5v2.1h1.6v-2.1zM1069 1037.5v2.1h1.6v-2.1zM1069 1041.5v2.1h1.6v-2.1zM1069 1045.5v2.1h1.6v-2.1zM1069 1053.5v4.2h1.6v-4.2zM1069 1059.5v2.1h1.6v-2.1zM1069 1063.5v2.1h1.6v-2.1zM1070.5 985.5v4.2h1.6v-4.2zM1070.5 1001.5v2.1h1.6v-2.1zM1070.5 1009.5v2.1h1.6v-2.1zM1070.5 1017.5v4.2h1.6v-4.2zM1070.5 1025.5v2.1h1.6v-2.1zM1072 975.5v2.1h1.6v-2.1zM1072 995.5v2.1h1.6v-2.1zM1072 1001.5v4.2h1.6v-4.2zM1072 1007.5v2.1h1.6v-2.1zM1072 1021.5v4.2h1.6v-4.2zM1072 1039.5v2.1h1.6v-2.1zM1073.5 983.5v2.1h1.6v-2.1zM1073.5 989.5v4.2h1.6v-4.2zM1073.5 1007.5v2.1h1.6v-2.1zM1073.5 1015.5v2.1h1.6v-2.1zM1075 983.5v2.1h1.6v-2.1zM1075 987.5v2.1h1.6v-2.1zM1075 995.5v2.1h1.6v-2.1zM1075 1013.5v2.1h1.6v-2.1zM1075 1029.5v2.1h1.6v-2.1zM1076.5 987.5v2.1h1.6v-2.1zM1079.5 987.5v2.1h1.6v-2.1zM1079.5 1001.5v2.1h1.6v-2.1zM1079.5 1007.5v2.1h1.6v-2.1zM1079.5 1013.5v2.1h1.6v-2.1zM1079.5 1019.5v2.1h1.6v-2.1zM1081 981.5v2.1h1.6v-2.1zM1081 997.5v2.1h1.6v-2.1zM1081 1017.5v2.1h1.6v-2.1zM1081 1021.5v4.2h1.6v-4.2zM1082.5 1076.5v10.7h1.6v-10.7zM1084 977.5v2.1h1.6v-2.1zM1085.5 971.5v2.1h1.6v-2.1zM1085.5 981.5v2.1h1.6v-2.1zM1085.5 1023.5v2.1h1.6v-2.1zM1087 975.5v4.2h1.6v-4.2zM1088.5 985.5v2.1h1.6v-2.1zM1090 1047.5v2.1h1.6v-2.1zM1090 1053.5v2.1h1.6v-2.1zM1090 1057.5v4.2h1.6v-4.2zM1090 1069.5v4.7h1.6v-4.7zM1093 983.5v2.1h1.6v-2.1zM1093 1009.5v2.1h1.6v-2.1zM1093 1015.5v2.1h1.6v-2.1zM1094.5 993.5v2.1h1.6v-2.1zM1094.5 999.5v2.1h1.6v-2.1zM1094.5 1009.5v2.1h1.6v-2.1zM1094.5 1021.5v2.1h1.6v-2.1zM1096 1065.5v8.7h1.6v-8.7zM1099 975.5v2.1h1.6v-2.1zM1099 991.5v2.1h1.6v-2.1zM1099 1003.5v2.1h1.6v-2.1zM1099 1017.5v4.2h1.6v-4.2zM1099 1035.5v4.2h1.6v-4.2zM1100.5 983.5v2.1h1.6v-2.1zM1100.5 987.5v2.1h1.6v-2.1zM1100.5 993.5v2.1h1.6v-2.1zM1100.5 1005.5v2.1h1.6v-2.1zM1100.5 1035.5v2.1h1.6v-2.1zM1100.5 1043.5v2.1h1.6v-2.1zM1102 1005.5v2.1h1.6v-2.1zM1102 1011.5v2.1h1.6v-2.1zM1102 1025.5v2.1h1.6v-2.1zM1102 1029.5v2.1h1.6v-2.1zM1103.5 987.5v2.1h1.6v-2.1zM1103.5 995.5v2.1h1.6v-2.1zM1103.5 1003.5v2.1h1.6v-2.1zM1103.5 1007.5v2.1h1.6v-2.1zM1103.5 1015.5v2.1h1.6v-2.1zM1103.5 1029.5v2.1h1.6v-2.1zM1106.5 995.5v4.2h1.6v-4.2zM1106.5 1023.5v2.1h1.6v-2.1zM1106.5 1029.5v2.1h1.6v-2.1zM1108 991.5v2.1h1.6v-2.1zM1108 1011.5v2.1h1.6v-2.1zM1109.5 981.5v2.1h1.6v-2.1zM1111 1017.5v2.1h1.6v-2.1zM1111 1027.5v4.2h1.6v-4.2zM1111 1033.5v2.1h1.6v-2.1zM1111 1043.5v6.2h1.6v-6.2zM1112.5 1013.5v2.1h1.6v-2.1zM1114 970.2v3.4h1.6v-3.4zM1114 1003.5v2.1h1.6v-2.1zM1117 971.5v2.1h1.6v-2.1zM1117 1005.5v2.1h1.6v-2.1zM1117 1009.5v2.1h1.6v-2.1zM1118.5 999.5v4.2h1.6v-4.2zM1118.5 1007.5v2.1h1.6v-2.1zM1118.5 1027.5v6.2h1.6v-6.2zM1118.5 1039.5v2.1h1.6v-2.1zM1120.1 989.5v2.1h1.6v-2.1zM1120.1 1015.5v2.1h1.6v-2.1zM1121.6 1011.5v2.1h1.6v-2.1zM1127.6 1043.5v10.2h1.6v-10.2zM1127.6 1057.5v2.1h1.6v-2.1zM1127.6 1063.5v2.1h1.6v-2.1zM1129.1 1007.5v2.1h1.6v-2.1zM1129.1 1015.5v2.1h1.6v-2.1zM1129.1 1031.5v2.1h1.6v-2.1zM1129.1 1037.5v2.1h1.6v-2.1zM1129.1 1043.5v2.1h1.6v-2.1zM1129.1 1049.5v4.2h1.6v-4.2zM1130.6 970.2v1.4h1.6v-1.4zM1132.1 1037.5v2.1h1.6v-2.1zM1132.1 1041.5v2.1h1.6v-2.1zM1132.1 1049.5v2.1h1.6v-2.1zM1132.1 1057.5v2.1h1.6v-2.1zM1132.1 1063.5v2.1h1.6v-2.1zM1133.6 1074v5.7h1.6v-5.7zM1135.1 1057.5v2.1h1.6v-2.1zM1135.1 1067.5v9.2h1.6v-9.2zM1138.1 997.5v2.1h1.6v-2.1zM1138.1 1027.5v4.2h1.6v-4.2zM1138.1 1033.5v2.1h1.6v-2.1zM1138.1 1037.5v2.1h1.6v-2.1zM1139.6 979.5v2.1h1.6v-2.1zM1139.6 995.5v2.1h1.6v-2.1zM1139.6 1019.5v2.1h1.6v-2.1zM1141.1 1011.5v2.1h1.6v-2.1zM1141.1 1015.5v2.1h1.6v-2.1zM1142.6 985.5v2.1h1.6v-2.1zM1142.6 989.5v4.2h1.6v-4.2zM1142.6 1043.5v2.1h1.6v-2.1zM1144.1 1031.5v4.2h1.6v-4.2zM1144.1 1039.5v2.1h1.6v-2.1zM1145.6 970.2v1.4h1.6v-1.4zM1145.6 991.5v2.1h1.6v-2.1zM1145.6 1013.5v2.1h1.6v-2.1zM1145.6 1023.5v2.1h1.6v-2.1zM1148.6 1083v38.5h1.6v-38.5zM1150.1 1005.5v4.2h1.6v-4.2zM1150.1 1021.5v2.1h1.6v-2.1zM1150.1 1033.5v2.1h1.6v-2.1zM1150.1 1039.5v2.1h1.6v-2.1zM1151.6 987.5v2.1h1.6v-2.1zM1151.6 997.5v2.1h1.6v-2.1zM1151.6 1001.5v2.1h1.6v-2.1zM1151.6 1009.5v2.1h1.6v-2.1zM1153.1 1013.5v2.1h1.6v-2.1zM1153.1 1029.5v2.1h1.6v-2.1zM1153.1 1037.5v4.2h1.6v-4.2zM1153.1 1043.5v2.1h1.6v-2.1zM1153.1 1047.5v2.1h1.6v-2.1zM1153.1 1051.5v2.1h1.6v-2.1zM1153.1 1055.5v2.1h1.6v-2.1zM1154.6 989.5v2.1h1.6v-2.1zM1154.6 1011.5v2.1h1.6v-2.1zM1154.6 1015.5v2.1h1.6v-2.1zM1154.6 1031.5v2.1h1.6v-2.1zM1154.6 1039.5v2.1h1.6v-2.1zM1156.1 1033.5v2.1h1.6v-2.1zM1162.1 1083v38.5h1.6v-38.5zM1163.6 1043.5v2.1h1.6v-2.1zM1163.6 1049.5v2.1h1.6v-2.1zM1163.6 1063.5v2.1h1.6v-2.1zM1163.6 1067.5v6.7h1.6v-6.7zM1165.1 1003.5v2.1h1.6v-2.1zM1165.1 1031.5v2.1h1.6v-2.1zM1165.1 1037.5v2.1h1.6v-2.1zM1166.6 1015.5v2.1h1.6v-2.1zM1166.6 1029.5v2.1h1.6v-2.1zM1166.6 1043.5v2.1h1.6v-2.1zM1166.6 1047.5v2.1h1.6v-2.1zM1168.1 1041.5v2.1h1.6v-2.1zM1168.1 1047.5v2.1h1.6v-2.1zM1168.1 1051.5v2.1h1.6v-2.1zM1168.1 1055.5v2.1h1.6v-2.1zM1168.1 1059.5v2.1h1.6v-2.1zM1169.6 1019.5v2.1h1.6v-2.1zM1169.6 1055.5v2.1h1.6v-2.1zM1169.6 1059.5v2.1h1.6v-2.1zM1169.6 1063.5v2.1h1.6v-2.1zM1171.1 1007.5v2.1h1.6v-2.1zM1171.1 1015.5v4.2h1.6v-4.2zM1171.1 1043.5v6.2h1.6v-6.2zM1171.1 1053.5v2.1h1.6v-2.1zM1175.6 1108v13.5h1.6v-13.5zM1177.1 1092v5.7h1.6v-5.7zM1178.6 1092v5.7h1.6v-5.7zM1180.2 1092v5.7h1.6v-5.7zM1181.7 1092v5.7h1.6v-5.7zM1183.2 1108v13.5h1.6v-13.5zM1184.7 1097.5v24h1.6v-24zM1186.2 1092v5.7h1.6v-5.7zM1190.7 1092v5.7h1.6v-5.7zM1195.2 1097.5v10.7h1.6v-10.7zM1196.7 1108v13.5h1.6v-13.5zM1199.7 1092v5.7h1.6v-5.7zM1204.2 1092v5.7h1.6v-5.7zM1211.7 1092v5.7h1.6v-5.7zM1214.7 1097.5v24h1.6v-24zM1216.2 1108v13.5h1.6v-13.5zM1217.7 1097.5v24h1.6v-24zM1220.7 1092v5.7h1.6v-5.7zM1223.7 1108v13.5h1.6v-13.5zM1226.7 1092v5.7h1.6v-5.7zM1232.7 1092v5.7h1.6v-5.7zM1235.7 1092v5.7h1.6v-5.7zM1241.8 981.5v2.1h1.6v-2.1zM1246.3 1097.5v10.7h1.6v-10.7zM1247.8 1092v5.7h1.6v-5.7zM1250.8 981.5v2.1h1.6v-2.1zM1250.8 1087v5.2h1.6v-5.2zM1253.8 981.5v2.1h1.6v-2.1zM1256.8 981.5v2.1h1.6v-2.1zM1258.3 981.5v2.1h1.6v-2.1zM1258.3 1083v4.2h1.6v-4.2zM1259.8 981.5v2.1h1.6v-2.1zM1259.8 1074v2.6h1.6v-2.6zM1259.8 1092v5.7h1.6v-5.7zM1261.3 981.5v2.1h1.6v-2.1zM1261.3 1065.5v6.2h1.6v-6.2zM1262.8 1071.5v5.2h1.6v-5.2zM1264.3 1069.5v2.1h1.6v-2.1zM1264.3 1076.5v6.7h1.6v-6.7zM1265.8 981.5v2.1h1.6v-2.1zM1265.8 1061.5v2.1h1.6v-2.1zM1265.8 1067.5v2.1h1.6v-2.1zM1267.3 981.5v2.1h1.6v-2.1zM1267.3 1053.5v2.1h1.6v-2.1zM1267.3 1057.5v2.1h1.6v-2.1zM1267.3 1108v13.5h1.6v-13.5zM1268.8 1045.5v2.1h1.6v-2.1zM1268.8 1049.5v4.2h1.6v-4.2zM1268.8 1057.5v2.1h1.6v-2.1zM1270.3 1071.5v5.2h1.6v-5.2zM1271.8 1039.5v2.1h1.6v-2.1zM1271.8 1047.5v2.1h1.6v-2.1zM1273.3 981.5v2.1h1.6v-2.1zM1273.3 1065.5v4.2h1.6v-4.2zM1273.3 1083v4.2h1.6v-4.2zM1274.8 981.5v2.1h1.6v-2.1zM1274.8 1071.5v2.6h1.6v-2.6zM1274.8 1079.5v7.7h1.6v-7.7zM1276.3 981.5v2.1h1.6v-2.1zM1276.3 1057.5v6.2h1.6v-6.2zM1277.8 1065.5v4.2h1.6v-4.2zM1279.3 1083v4.2h1.6v-4.2zM1280.8 1092v5.7h1.6v-5.7zM1283.8 981.5v2.1h1.6v-2.1zM1285.3 981.5v2.1h1.6v-2.1zM1285.3 1071.5v5.2h1.6v-5.2zM1288.3 981.5v2.1h1.6v-2.1zM1289.8 981.5v2.1h1.6v-2.1zM1291.3 1108v13.5h1.6v-13.5zM1292.8 1097.5v10.7h1.6v-10.7zM1294.3 981.5v2.1h1.6v-2.1zM1295.8 981.5v2.1h1.6v-2.1zM1297.3 981.5v2.1h1.6v-2.1zM1297.3 1092v5.7h1.6v-5.7zM1298.8 981.5v2.1h1.6v-2.1zM1303.4 1092v5.7h1.6v-5.7zM1304.9 981.5v2.1h1.6v-2.1zM1307.9 981.5v2.1h1.6v-2.1zM1307.9 1092v5.7h1.6v-5.7zM1309.4 981.5v2.1h1.6v-2.1zM1310.9 1092v5.7h1.6v-5.7zM1313.9 1097.5v10.7h1.6v-10.7zM1316.9 1097.5v10.7h1.6v-10.7zM1321.4 1092v5.7h1.6v-5.7z"/>
<path fill="rgb(0,137,255)" d="M914.2 1097.5v10.7h1.6v-10.7zM917.2 1097.5v10.7h1.6v-10.7zM920.2 1092v29.5h1.6v-29.5zM923.2 1097.5v10.7h1.6v-10.7zM935.2 1097.5v10.7h1.6v-10.7zM938.2 1108v13.5h1.6v-13.5zM939.7 1097.5v10.7h1.6v-10.7zM941.3 1097.5v10.7h1.6v-10.7zM942.8 1092v5.7h1.6v-5.7zM942.8 1108v13.5h1.6v-13.5zM981.8 1108v13.5h1.6v-13.5zM1010.4 1097.5v24h1.6v-24zM1017.9 997.5v2.1h1.6v-2.1zM1017.9 1021.5v2.1h1.6v-2.1zM1017.9 1029.5v2.1h1.6v-2.1zM1019.4 970.2v1.4h1.6v-1.4zM1019.4 1013.5v2.1h1.6v-2.1zM1019.4 1017.5v2.1h1.6v-2.1zM1020.9 1001.5v2.1h1.6v-2.1zM1022.4 983.5v4.2h1.6v-4.2zM1022.4 991.5v2.1h1.6v-2.1zM1022.4 999.5v2.1h1.6v-2.1zM1022.4 1005.5v2.1h1.6v-2.1zM1022.4 1031.5v2.1h1.6v-2.1zM1023.9 987.5v2.1h1.6v-2.1zM1023.9 1021.5v2.1h1.6v-2.1zM1023.9 1029.5v2.1h1.6v-2.1zM1034.4 970.2v1.4h1.6v-1.4zM1034.4 991.5v2.1h1.6v-2.1zM1034.4 999.5v2.1h1.6v-2.1zM1034.4 1003.5v2.1h1.6v-2.1zM1034.4 1015.5v2.1h1.6v-2.1zM1034.4 1045.5v2.1h1.6v-2.1zM1035.9 995.5v2.1h1.6v-2.1zM1038.9 993.5v2.1h1.6v-2.1zM1038.9 1027.5v2.1h1.6v-2.1zM1038.9 1033.5v2.1h1.6v-2.1zM1040.4 1087v34.5h1.6v-34.5zM1043.4 987.5v2.1h1.6v-2.1zM1043.4 1027.5v2.1h1.6v-2.1zM1046.4 1011.5v2.1h1.6v-2.1zM1047.9 970.2v1.4h1.6v-1.4zM1047.9 985.5v2.1h1.6v-2.1zM1047.9 1007.5v2.1h1.6v-2.1zM1049.4 981.5v2.1h1.6v-2.1zM1049.4 1001.5v2.1h1.6v-2.1zM1049.4 1005.5v2.1h1.6v-2.1zM1049.4 1009.5v2.1h1.6v-2.1zM1050.9 973.5v2.1h1.6v-2.1zM1050.9 989.5v2.1h1.6v-2.1zM1050.9 993.5v2.1h1.6v-2.1zM1050.9 1025.5v2.1h1.6v-2.1zM1053.9 995.5v2.1h1.6v-2.1zM1055.4 1029.5v2.1h1.6v-2.1zM1056.9 1009.5v2.1h1.6v-2.1zM1058.4 1001.5v2.1h1.6v-2.1zM1059.9 970.2v1.4h1.6v-1.4zM1059.9 993.5v2.1h1.6v-2.1zM1061.5 970.2v1.4h1.6v-1.4zM1063 993.5v2.1h1.6v-2.1zM1063 1013.5v2.1h1.6v-2.1zM1064.5 999.5v2.1h1.6v-2.1zM1064.5 1007.5v2.1h1.6v-2.1zM1064.5 1015.5v2.1h1.6v-2.1zM1064.5 1029.5v2.1h1.6v-2.1zM1067.5 997.5v2.1h1.6v-2.1zM1069 1029.5v2.1h1.6v-2.1zM1069 1047.5v2.1h1.6v-2.1zM1069 1051.5v2.1h1.6v-2.1zM1069 1061.5v2.1h1.6v-2.1zM1069 1065.5v8.7h1.6v-8.7zM1070.5 971.5v2.1h1.6v-2.1zM1070.5 1023.5v2.1h1.6v-2.1zM1072 1017.5v2.1h1.6v-2.1zM1072 1027.5v2.1h1.6v-2.1zM1073.5 1005.5v2.1h1.6v-2.1zM1073.5 1019.5v4.2h1.6v-4.2zM1073.5 1029.5v2.1h1.6v-2.1zM1073.5 1033.5v2.1h1.6v-2.1zM1073.5 1039.5v2.1h1.6v-2.1zM1075 1015.5v2.1h1.6v-2.1zM1075 1039.5v2.1h1.6v-2.1zM1076.5 970.2v1.4h1.6v-1.4zM1078 970.2v1.4h1.6v-1.4zM1078 993.5v2.1h1.6v-2.1zM1078 1001.5v2.1h1.6v-2.1zM1078 1011.5v2.1h1.6v-2.1zM1079.5 970.2v1.4h1.6v-1.4zM1079.5 989.5v2.1h1.6v-2.1zM1081 999.5v2.1h1.6v-2.1zM1081 1027.5v2.1h1.6v-2.1zM1082.5 1087v34.5h1.6v-34.5zM1085.5 1013.5v2.1h1.6v-2.1zM1085.5 1031.5v2.1h1.6v-2.1zM1087 979.5v2.1h1.6v-2.1zM1087 1015.5v2.1h1.6v-2.1zM1088.5 983.5v2.1h1.6v-2.1zM1088.5 999.5v4.2h1.6v-4.2zM1088.5 1037.5v2.1h1.6v-2.1zM1090 1074v5.7h1.6v-5.7zM1091.5 981.5v2.1h1.6v-2.1zM1093 981.5v2.1h1.6v-2.1zM1093 1013.5v2.1h1.6v-2.1zM1093 1017.5v2.1h1.6v-2.1zM1094.5 970.2v1.4h1.6v-1.4zM1094.5 977.5v2.1h1.6v-2.1zM1094.5 995.5v2.1h1.6v-2.1zM1094.5 1001.5v6.2h1.6v-6.2zM1096 1074v5.7h1.6v-5.7zM1099 985.5v2.1h1.6v-2.1zM1099 993.5v2.1h1.6v-2.1zM1099 1021.5v2.1h1.6v-2.1zM1099 1031.5v2.1h1.6v-2.1zM1100.5 1009.5v2.1h1.6v-2.1zM1100.5 1013.5v2.1h1.6v-2.1zM1100.5 1031.5v4.2h1.6v-4.2zM1100.5 1039.5v2.1h1.6v-2.1zM1100.5 1045.5v4.2h1.6v-4.2zM1102 1027.5v2.1h1.6v-2.1zM1102 1037.5v2.1h1.6v-2.1zM1102 1045.5v2.1h1.6v-2.1zM1103.5 983.5v2.1h1.6v-2.1zM1103.5 1013.5v2.1h1.6v-2.1zM1103.5 1019.5v2.1h1.6v-2.1zM1103.5 1023.5v2.1h1.6v-2.1zM1103.5 1043.5v2.1h1.6v-2.1zM1106.5 1007.5v2.1h1.6v-2.1zM1106.5 1031.5v2.1h1.6v-2.1zM1106.5 1041.5v2.1h1.6v-2.1zM1108 1003.5v2.1h1.6v-2.1zM1108 1015.5v2.1h1.6v-2.1zM1108 1027.5v2.1h1.6v-2.1zM1109.5 973.5v2.1h1.6v-2.1zM1111 999.5v2.1h1.6v-2.1zM1111 1019.5v2.1h1.6v-2.1zM1111 1023.5v4.2h1.6v-4.2zM1111 1037.5v2.1h1.6v-2.1zM1111 1041.5v2.1h1.6v-2.1zM1112.5 977.5v2.1h1.6v-2.1zM1112.5 1009.5v2.1h1.6v-2.1zM1112.5 1023.5v2.1h1.6v-2.1zM1112.5 1029.5v2.1h1.6v-2.1zM1112.5 1041.5v2.1h1.6v-2.1zM1114 985.5v2.1h1.6v-2.1zM1114 1013.5v2.1h1.6v-2.1zM1117 979.5v2.1h1.6v-2.1zM1117 983.5v2.1h1.6v-2.1zM1117 1001.5v2.1h1.6v-2.1zM1117 1011.5v2.1h1.6v-2.1zM1117 1019.5v2.1h1.6v-2.1zM1118.5 1033.5v2.1h1.6v-2.1zM1118.5 1037.5v2.1h1.6v-2.1zM1118.5 1041.5v2.1h1.6v-2.1zM1121.6 997.5v2.1h1.6v-2.1zM1121.6 1009.5v2.1h1.6v-2.1zM1127.6 1059.5v4.2h1.6v-4.2zM1127.6 1065.5v6.2h1.6v-6.2zM1129.1 1041.5v2.1h1.6v-2.1zM1129.1 1045.5v2.1h1.6v-2.1zM1129.1 1053.5v4.2h1.6v-4.2zM1132.1 1047.5v2.1h1.6v-2.1zM1132.1 1065.5v8.7h1.6v-8.7zM1133.6 1079.5v7.7h1.6v-7.7zM1135.1 1055.5v2.1h1.6v-2.1zM1135.1 1076.5v6.7h1.6v-6.7zM1138.1 1045.5v2.1h1.6v-2.1zM1139.6 1017.5v2.1h1.6v-2.1zM1139.6 1021.5v2.1h1.6v-2.1zM1141.1 987.5v2.1h1.6v-2.1zM1141.1 995.5v2.1h1.6v-2.1zM1141.1 1001.5v2.1h1.6v-2.1zM1142.6 973.5v2.1h1.6v-2.1zM1142.6 979.5v2.1h1.6v-2.1zM1142.6 997.5v2.1h1.6v-2.1zM1142.6 1013.5v2.1h1.6v-2.1zM1144.1 985.5v2.1h1.6v-2.1zM1144.1 1023.5v2.1h1.6v-2.1zM1144.1 1035.5v2.1h1.6v-2.1zM1145.6 1001.5v2.1h1.6v-2.1zM1145.6 1027.5v2.1h1.6v-2.1zM1147.1 993.5v2.1h1.6v-2.1zM1150.1 981.5v2.1h1.6v-2.1zM1150.1 995.5v2.1h1.6v-2.1zM1150.1 1031.5v2.1h1.6v-2.1zM1150.1 1045.5v4.2h1.6v-4.2zM1150.1 1051.5v2.1h1.6v-2.1zM1151.6 991.5v2.1h1.6v-2.1zM1153.1 1053.5v2.1h1.6v-2.1zM1153.1 1057.5v10.2h1.6v-10.2zM1154.6 995.5v2.1h1.6v-2.1zM1154.6 1021.5v2.1h1.6v-2.1zM1154.6 1025.5v2.1h1.6v-2.1zM1154.6 1041.5v2.1h1.6v-2.1zM1156.1 973.5v2.1h1.6v-2.1zM1156.1 1015.5v4.2h1.6v-4.2zM1156.1 1023.5v2.1h1.6v-2.1zM1163.6 1074v5.7h1.6v-5.7zM1165.1 1025.5v2.1h1.6v-2.1zM1165.1 1035.5v2.1h1.6v-2.1zM1165.1 1045.5v2.1h1.6v-2.1zM1165.1 1049.5v4.2h1.6v-4.2zM1165.1 1057.5v2.1h1.6v-2.1zM1166.6 1019.5v4.2h1.6v-4.2zM1168.1 1061.5v10.2h1.6v-10.2zM1169.6 1041.5v2.1h1.6v-2.1zM1169.6 1051.5v4.2h1.6v-4.2zM1169.6 1057.5v2.1h1.6v-2.1zM1169.6 1061.5v2.1h1.6v-2.1zM1169.6 1065.5v6.2h1.6v-6.2zM1171.1 1041.5v2.1h1.6v-2.1zM1171.1 1051.5v2.1h1.6v-2.1zM1171.1 1055.5v2.1h1.6v-2.1zM1172.6 1097.5v24h1.6v-24zM1174.1 1092v5.7h1.6v-5.7zM1183.2 1097.5v10.7h1.6v-10.7zM1189.2 1097.5v10.7h1.6v-10.7zM1196.7 1097.5v10.7h1.6v-10.7zM1198.2 1097.5v24h1.6v-24zM1205.7 1097.5v24h1.6v-24zM1223.7 1097.5v10.7h1.6v-10.7zM1228.2 1097.5v10.7h1.6v-10.7zM1231.2 1092v5.7h1.6v-5.7zM1240.3 1108v13.5h1.6v-13.5zM1241.8 1097.5v24h1.6v-24zM1244.8 1097.5v10.7h1.6v-10.7zM1246.3 1108v13.5h1.6v-13.5zM1249.3 1092v5.7h1.6v-5.7zM1255.3 1108v13.5h1.6v-13.5zM1259.8 1087v5.2h1.6v-5.2zM1262.8 1079.5v7.7h1.6v-7.7zM1262.8 1097.5v10.7h1.6v-10.7zM1264.3 1083v4.2h1.6v-4.2zM1265.8 1071.5v5.2h1.6v-5.2zM1265.8 1097.5v10.7h1.6v-10.7zM1267.3 1063.5v2.1h1.6v-2.1zM1267.3 1097.5v10.7h1.6v-10.7zM1268.8 1063.5v2.1h1.6v-2.1zM1268.8 1067.5v2.1h1.6v-2.1zM1270.3 1076.5v3.1h1.6v-3.1zM1270.3 1087v5.2h1.6v-5.2zM1271.8 1049.5v6.2h1.6v-6.2zM1271.8 1061.5v2.1h1.6v-2.1zM1273.3 1069.5v2.1h1.6v-2.1zM1273.3 1074v5.7h1.6v-5.7zM1276.3 1065.5v6.2h1.6v-6.2zM1277.8 1071.5v2.6h1.6v-2.6zM1277.8 1076.5v3.1h1.6v-3.1zM1277.8 1083v4.2h1.6v-4.2zM1282.3 1087v5.2h1.6v-5.2zM1283.8 1087v5.2h1.6v-5.2zM1285.3 1076.5v3.1h1.6v-3.1zM1289.8 1092v5.7h1.6v-5.7zM1289.8 1108v13.5h1.6v-13.5zM1291.3 1087v5.2h1.6v-5.2zM1291.3 1097.5v10.7h1.6v-10.7zM1292.8 1092v5.7h1.6v-5.7zM1292.8 1108v13.5h1.6v-13.5zM1294.3 1092v5.7h1.6v-5.7zM1297.3 1097.5v24h1.6v-24zM1309.4 1097.5v10.7h1.6v-10.7zM1313.9 1108v13.5h1.6v-13.5zM1319.9 1097.5v10.7h1.6v-10.7z"/>
<path fill="rgb(0,175,255)" d="M918.7 1108v13.5h1.6v-13.5zM936.7 1097.5v24h1.6v-24zM938.2 1097.5v10.7h1.6v-10.7zM941.3 1108v13.5h1.6v-13.5zM942.8 1097.5v10.7h1.6v-10.7zM980.3 1097.5v24h1.6v-24zM981.8 1097.5v10.7h1.6v-10.7zM1017.9 983.5v2.1h1.6v-2.1zM1017.9 1013.5v4.2h1.6v-4.2zM1019.4 1001.5v2.1h1.6v-2.1zM1019.4 1019.5v2.1h1.6v-2.1zM1022.4 1017.5v2.1h1.6v-2.1zM1023.9 995.5v2.1h1.6v-2.1zM1023.9 1007.5v2.1h1.6v-2.1zM1023.9 1015.5v2.1h1.6v-2.1zM1023.9 1023.5v2.1h1.6v-2.1zM1023.9 1035.5v2.1h1.6v-2.1zM1035.9 987.5v2.1h1.6v-2.1zM1035.9 991.5v2.1h1.6v-2.1zM1035.9 1019.5v2.1h1.6v-2.1zM1038.9 1003.5v4.2h1.6v-4.2zM1038.9 1021.5v2.1h1.6v-2.1zM1038.9 1025.5v2.1h1.6v-2.1zM1038.9 1029.5v2.1h1.6v-2.1zM1038.9 1035.5v2.1h1.6v-2.1zM1041.9 977.5v2.1h1.6v-2.1zM1041.9 1003.5v2.1h1.6v-2.1zM1041.9 1019.5v4.2h1.6v-4.2zM1043.4 1029.5v2.1h1.6v-2.1zM1047.9 981.5v2.1h1.6v-2.1zM1047.9 991.5v2.1h1.6v-2.1zM1049.4 1013.5v4.2h1.6v-4.2zM1050.9 981.5v2.1h1.6v-2.1zM1053.9 1001.5v4.2h1.6v-4.2zM1053.9 1019.5v2.1h1.6v-2.1zM1055.4 1011.5v2.1h1.6v-2.1zM1055.4 1039.5v2.1h1.6v-2.1zM1056.9 983.5v2.1h1.6v-2.1zM1058.4 987.5v2.1h1.6v-2.1zM1058.4 1007.5v2.1h1.6v-2.1zM1058.4 1017.5v2.1h1.6v-2.1zM1058.4 1025.5v2.1h1.6v-2.1zM1059.9 995.5v2.1h1.6v-2.1zM1063 987.5v2.1h1.6v-2.1zM1064.5 985.5v2.1h1.6v-2.1zM1064.5 1033.5v2.1h1.6v-2.1zM1064.5 1037.5v2.1h1.6v-2.1zM1064.5 1045.5v2.1h1.6v-2.1zM1066 979.5v2.1h1.6v-2.1zM1067.5 1001.5v2.1h1.6v-2.1zM1069 1074v5.7h1.6v-5.7zM1072 1043.5v2.1h1.6v-2.1zM1072 1051.5v2.1h1.6v-2.1zM1073.5 997.5v2.1h1.6v-2.1zM1075 1005.5v6.2h1.6v-6.2zM1075 1017.5v2.1h1.6v-2.1zM1075 1031.5v2.1h1.6v-2.1zM1075 1043.5v2.1h1.6v-2.1zM1076.5 981.5v2.1h1.6v-2.1zM1076.5 1017.5v2.1h1.6v-2.1zM1078 971.5v2.1h1.6v-2.1zM1078 997.5v2.1h1.6v-2.1zM1081 1009.5v2.1h1.6v-2.1zM1081 1025.5v2.1h1.6v-2.1zM1081 1039.5v2.1h1.6v-2.1zM1084 1009.5v2.1h1.6v-2.1zM1085.5 985.5v2.1h1.6v-2.1zM1085.5 1011.5v2.1h1.6v-2.1zM1087 989.5v2.1h1.6v-2.1zM1087 1025.5v2.1h1.6v-2.1zM1088.5 1005.5v2.1h1.6v-2.1zM1088.5 1013.5v2.1h1.6v-2.1zM1088.5 1031.5v2.1h1.6v-2.1zM1090 1079.5v7.7h1.6v-7.7zM1091.5 971.5v2.1h1.6v-2.1zM1093 977.5v2.1h1.6v-2.1zM1093 999.5v4.2h1.6v-4.2zM1093 1035.5v2.1h1.6v-2.1zM1094.5 971.5v2.1h1.6v-2.1zM1094.5 975.5v2.1h1.6v-2.1zM1094.5 989.5v2.1h1.6v-2.1zM1094.5 1015.5v2.1h1.6v-2.1zM1096 1079.5v7.7h1.6v-7.7zM1099 987.5v4.2h1.6v-4.2zM1099 1023.5v2.1h1.6v-2.1zM1099 1029.5v2.1h1.6v-2.1zM1099 1047.5v2.1h1.6v-2.1zM1100.5 1041.5v2.1h1.6v-2.1zM1102 1043.5v2.1h1.6v-2.1zM1102 1051.5v2.1h1.6v-2.1zM1103.5 1011.5v2.1h1.6v-2.1zM1103.5 1027.5v2.1h1.6v-2.1zM1103.5 1031.5v2.1h1.6v-2.1zM1103.5 1035.5v2.1h1.6v-2.1zM1103.5 1045.5v2.1h1.6v-2.1zM1103.5 1051.5v2.1h1.6v-2.1zM1105 989.5v2.1h1.6v-2.1zM1105 995.5v2.1h1.6v-2.1zM1106.5 1021.5v2.1h1.6v-2.1zM1108 1025.5v2.1h1.6v-2.1zM1108 1029.5v2.1h1.6v-2.1zM1108 1045.5v2.1h1.6v-2.1zM1109.5 993.5v4.2h1.6v-4.2zM1111 1049.5v2.1h1.6v-2.1zM1111 1055.5v2.1h1.6v-2.1zM1112.5 989.5v2.1h1.6v-2.1zM1112.5 997.5v2.1h1.6v-2.1zM1112.5 1019.5v2.1h1.6v-2.1zM1112.5 1025.5v2.1h1.6v-2.1zM1112.5 1033.5v2.1h1.6v-2.1zM1112.5 1037.5v2.1h1.6v-2.1zM1112.5 1045.5v4.2h1.6v-4.2zM1114 1029.5v4.2h1.6v-4.2zM1115.5 981.5v2.1h1.6v-2.1zM1117 997.5v2.1h1.6v-2.1zM1117 1039.5v2.1h1.6v-2.1zM1117 1043.5v2.1h1.6v-2.1zM1118.5 1017.5v2.1h1.6v-2.1zM1118.5 1045.5v6.2h1.6v-6.2zM1118.5 1053.5v2.1h1.6v-2.1zM1120.1 973.5v2.1h1.6v-2.1zM1120.1 1001.5v2.1h1.6v-2.1zM1120.1 1021.5v2.1h1.6v-2.1zM1121.6 1025.5v2.1h1.6v-2.1zM1127.6 1071.5v5.2h1.6v-5.2zM1129.1 1029.5v2.1h1.6v-2.1zM1129.1 1061.5v4.2h1.6v-4.2zM1130.6 985.5v2.1h1.6v-2.1zM1132.1 1059.5v2.1h1.6v-2.1zM1132.1 1074v5.7h1.6v-5.7zM1133.6 1087v34.5h1.6v-34.5zM1135.1 1083v9.2h1.6v-9.2zM1138.1 1005.5v2.1h1.6v-2.1zM1138.1 1023.5v2.1h1.6v-2.1zM1138.1 1039.5v2.1h1.6v-2.1zM1138.1 1049.5v4.2h1.6v-4.2zM1138.1 1057.5v2.1h1.6v-2.1zM1139.6 1009.5v2.1h1.6v-2.1zM1139.6 1027.5v2.1h1.6v-2.1zM1139.6 1033.5v2.1h1.6v-2.1zM1139.6 1037.5v2.1h1.6v-2.1zM1141.1 971.5v2.1h1.6v-2.1zM1141.1 985.5v2.1h1.6v-2.1zM1141.1 997.5v4.2h1.6v-4.2zM1141.1 1005.5v2.1h1.6v-2.1zM1141.1 1021.5v2.1h1.6v-2.1zM1141.1 1041.5v2.1h1.6v-2.1zM1142.6 977.5v2.1h1.6v-2.1zM1142.6 987.5v2.1h1.6v-2.1zM1142.6 1003.5v2.1h1.6v-2.1zM1142.6 1011.5v2.1h1.6v-2.1zM1142.6 1017.5v2.1h1.6v-2.1zM1144.1 1007.5v2.1h1.6v-2.1zM1144.1 1021.5v2.1h1.6v-2.1zM1144.1 1025.5v2.1h1.6v-2.1zM1144.1 1037.5v2.1h1.6v-2.1zM1144.1 1041.5v2.1h1.6v-2.1zM1145.6 971.5v2.1h1.6v-2.1zM1145.6 1009.5v2.1h1.6v-2.1zM1145.6 1021.5v2.1h1.6v-2.1zM1147.1 977.5v2.1h1.6v-2.1zM1147.1 981.5v2.1h1.6v-2.1zM1147.1 999.5v2.1h1.6v-2.1zM1150.1 1019.5v2.1h1.6v-2.1zM1150.1 1025.5v2.1h1.6v-2.1zM1150.1 1043.5v2.1h1.6v-2.1zM1150.1 1053.5v4.2h1.6v-4.2zM1151.6 985.5v2.1h1.6v-2.1zM1151.6 993.5v2.1h1.6v-2.1zM1151.6 1023.5v4.2h1.6v-4.2zM1151.6 1029.5v2.1h1.6v-2.1zM1153.1 1049.5v2.1h1.6v-2.1zM1153.1 1067.5v6.7h1.6v-6.7zM1154.6 1055.5v2.1h1.6v-2.1zM1156.1 995.5v4.2h1.6v-4.2zM1156.1 1019.5v2.1h1.6v-2.1zM1156.1 1037.5v2.1h1.6v-2.1zM1163.6 1079.5v7.7h1.6v-7.7zM1165.1 1041.5v2.1h1.6v-2.1zM1165.1 1053.5v4.2h1.6v-4.2zM1165.1 1059.5v4.2h1.6v-4.2zM1165.1 1065.5v2.1h1.6v-2.1zM1166.6 1037.5v2.1h1.6v-2.1zM1166.6 1045.5v2.1h1.6v-2.1zM1166.6 1053.5v2.1h1.6v-2.1zM1166.6 1057.5v2.1h1.6v-2.1zM1168.1 1057.5v2.1h1.6v-2.1zM1168.1 1071.5v5.2h1.6v-5.2zM1169.6 1029.5v2.1h1.6v-2.1zM1169.6 1071.5v5.2h1.6v-5.2zM1171.1 1031.5v2.1h1.6v-2.1zM1171.1 1037.5v2.1h1.6v-2.1zM1171.1 1057.5v4.2h1.6v-4.2zM1171.1 1063.5v8.2h1.6v-8.2zM1195.2 1108v13.5h1.6v-13.5zM1211.7 1097.5v10.7h1.6v-10.7zM1219.2 1097.5v24h1.6v-24zM1225.2 1097.5v10.7h1.6v-10.7zM1226.7 1097.5v10.7h1.6v-10.7zM1228.2 1108v13.5h1.6v-13.5zM1234.2 1108v13.5h1.6v-13.5zM1238.7 1108v13.5h1.6v-13.5zM1240.3 1097.5v10.7h1.6v-10.7zM1244.8 1108v13.5h1.6v-13.5zM1247.8 1108v13.5h1.6v-13.5zM1250.8 1092v5.7h1.6v-5.7zM1253.8 1097.5v24h1.6v-24zM1255.3 1087v5.2h1.6v-5.2zM1255.3 1097.5v10.7h1.6v-10.7zM1261.3 1076.5v3.1h1.6v-3.1zM1261.3 1108v13.5h1.6v-13.5zM1267.3 1069.5v7.2h1.6v-7.2zM1268.8 1071.5v5.2h1.6v-5.2zM1268.8 1097.5v10.7h1.6v-10.7zM1271.8 1067.5v4.2h1.6v-4.2zM1271.8 1074v2.6h1.6v-2.6zM1273.3 1087v5.2h1.6v-5.2zM1273.3 1097.5v24h1.6v-24zM1274.8 1092v5.7h1.6v-5.7zM1276.3 1083v4.2h1.6v-4.2zM1279.3 1097.5v24h1.6v-24zM1280.8 1108v13.5h1.6v-13.5zM1283.8 1097.5v10.7h1.6v-10.7zM1285.3 1087v5.2h1.6v-5.2zM1285.3 1108v13.5h1.6v-13.5zM1286.8 1092v5.7h1.6v-5.7zM1288.3 1087v5.2h1.6v-5.2zM1288.3 1108v13.5h1.6v-13.5zM1289.8 1097.5v10.7h1.6v-10.7zM1291.3 1092v5.7h1.6v-5.7zM1298.8 1097.5v10.7h1.6v-10.7zM1301.9 1097.5v10.7h1.6v-10.7zM1303.4 1097.5v24h1.6v-24zM1307.9 1108v13.5h1.6v-13.5zM1309.4 1108v13.5h1.6v-13.5zM1310.9 1097.5v10.7h1.6v-10.7zM1312.4 1108v13.5h1.6v-13.5zM1315.4 1108v13.5h1.6v-13.5zM1316.9 1108v13.5h1.6v-13.5zM1325.9 1097.5v10.7h1.6v-10.7zM1327.4 1097.5v24h1.6v-24z"/>
<path fill="rgb(0,212,255)" d="M918.7 1097.5v10.7h1.6v-10.7zM1017.9 1001.5v2.1h1.6v-2.1zM1017.9 1009.5v2.1h1.6v-2.1zM1019.4 1005.5v4.2h1.6v-4.2zM1019.4 1023.5v2.1h1.6v-2.1zM1019.4 1031.5v2.1h1.6v-2.1zM1019.4 1041.5v4.2h1.6v-4.2zM1020.9 971.5v2.1h1.6v-2.1zM1020.9 983.5v2.1h1.6v-2.1zM1020.9 991.5v2.1h1.6v-2.1zM1020.9 997.5v2.1h1.6v-2.1zM1022.4 995.5v2.1h1.6v-2.1zM1022.4 1025.5v2.1h1.6v-2.1zM1023.9 973.5v2.1h1.6v-2.1zM1023.9 1017.5v2.1h1.6v-2.1zM1023.9 1025.5v2.1h1.6v-2.1zM1034.4 997.5v2.1h1.6v-2.1zM1034.4 1017.5v2.1h1.6v-2.1zM1034.4 1027.5v2.1h1.6v-2.1zM1035.9 1003.5v2.1h1.6v-2.1zM1035.9 1035.5v2.1h1.6v-2.1zM1037.4 973.5v2.1h1.6v-2.1zM1037.4 997.5v2.1h1.6v-2.1zM1038.9 981.5v2.1h1.6v-2.1zM1038.9 985.5v2.1h1.6v-2.1zM1038.9 1009.5v4.2h1.6v-4.2zM1038.9 1023.5v2.1h1.6v-2.1zM1038.9 1041.5v4.2h1.6v-4.2zM1038.9 1055.5v2.1h1.6v-2.1zM1041.9 1005.5v2.1h1.6v-2.1zM1041.9 1009.5v2.1h1.6v-2.1zM1041.9 1013.5v2.1h1.6v-2.1zM1041.9 1017.5v2.1h1.6v-2.1zM1041.9 1029.5v2.1h1.6v-2.1zM1041.9 1033.5v2.1h1.6v-2.1zM1043.4 1001.5v2.1h1.6v-2.1zM1043.4 1021.5v2.1h1.6v-2.1zM1043.4 1047.5v2.1h1.6v-2.1zM1044.9 1001.5v2.1h1.6v-2.1zM1046.4 985.5v2.1h1.6v-2.1zM1046.4 999.5v2.1h1.6v-2.1zM1046.4 1021.5v2.1h1.6v-2.1zM1047.9 1001.5v2.1h1.6v-2.1zM1047.9 1013.5v2.1h1.6v-2.1zM1047.9 1017.5v2.1h1.6v-2.1zM1047.9 1033.5v2.1h1.6v-2.1zM1049.4 1017.5v2.1h1.6v-2.1zM1050.9 1009.5v2.1h1.6v-2.1zM1050.9 1015.5v2.1h1.6v-2.1zM1050.9 1019.5v2.1h1.6v-2.1zM1050.9 1027.5v2.1h1.6v-2.1zM1055.4 997.5v2.1h1.6v-2.1zM1055.4 1003.5v2.1h1.6v-2.1zM1055.4 1023.5v4.2h1.6v-4.2zM1056.9 981.5v2.1h1.6v-2.1zM1058.4 995.5v2.1h1.6v-2.1zM1058.4 999.5v2.1h1.6v-2.1zM1058.4 1011.5v2.1h1.6v-2.1zM1058.4 1021.5v2.1h1.6v-2.1zM1058.4 1031.5v2.1h1.6v-2.1zM1058.4 1035.5v2.1h1.6v-2.1zM1058.4 1049.5v2.1h1.6v-2.1zM1059.9 1013.5v4.2h1.6v-4.2zM1061.5 979.5v2.1h1.6v-2.1zM1061.5 1003.5v2.1h1.6v-2.1zM1063 989.5v2.1h1.6v-2.1zM1063 1015.5v4.2h1.6v-4.2zM1063 1023.5v4.2h1.6v-4.2zM1064.5 1011.5v2.1h1.6v-2.1zM1064.5 1039.5v6.2h1.6v-6.2zM1066 1007.5v2.1h1.6v-2.1zM1067.5 999.5v2.1h1.6v-2.1zM1067.5 1011.5v4.2h1.6v-4.2zM1067.5 1027.5v2.1h1.6v-2.1zM1067.5 1033.5v2.1h1.6v-2.1zM1069 1079.5v3.6h1.6v-3.6zM1070.5 995.5v2.1h1.6v-2.1zM1070.5 1005.5v4.2h1.6v-4.2zM1072 1033.5v4.2h1.6v-4.2zM1073.5 1009.5v2.1h1.6v-2.1zM1073.5 1017.5v2.1h1.6v-2.1zM1073.5 1023.5v6.2h1.6v-6.2zM1073.5 1041.5v4.2h1.6v-4.2zM1075 1035.5v4.2h1.6v-4.2zM1076.5 1003.5v2.1h1.6v-2.1zM1076.5 1007.5v2.1h1.6v-2.1zM1078 1013.5v2.1h1.6v-2.1zM1078 1021.5v2.1h1.6v-2.1zM1078 1027.5v2.1h1.6v-2.1zM1079.5 977.5v2.1h1.6v-2.1zM1079.5 995.5v2.1h1.6v-2.1zM1079.5 999.5v2.1h1.6v-2.1zM1079.5 1017.5v2.1h1.6v-2.1zM1079.5 1031.5v4.2h1.6v-4.2zM1081 1005.5v2.1h1.6v-2.1zM1081 1031.5v6.2h1.6v-6.2zM1084 1031.5v2.1h1.6v-2.1zM1085.5 975.5v2.1h1.6v-2.1zM1085.5 979.5v2.1h1.6v-2.1zM1085.5 1003.5v4.2h1.6v-4.2zM1085.5 1015.5v2.1h1.6v-2.1zM1085.5 1027.5v4.2h1.6v-4.2zM1085.5 1039.5v2.1h1.6v-2.1zM1087 1005.5v2.1h1.6v-2.1zM1087 1037.5v2.1h1.6v-2.1zM1088.5 977.5v2.1h1.6v-2.1zM1088.5 1011.5v2.1h1.6v-2.1zM1088.5 1021.5v2.1h1.6v-2.1zM1088.5 1025.5v2.1h1.6v-2.1zM1090 1087v34.5h1.6v-34.5zM1093 1011.5v2.1h1.6v-2.1zM1093 1023.5v2.1h1.6v-2.1zM1093 1037.5v8.2h1.6v-8.2zM1093 1047.5v2.1h1.6v-2.1zM1094.5 1007.5v2.1h1.6v-2.1zM1094.5 1025.5v6.2h1.6v-6.2zM1094.5 1033.5v4.2h1.6v-4.2zM1096 1087v34.5h1.6v-34.5zM1097.5 970.2v1.4h1.6v-1.4zM1097.5 1003.5v2.1h1.6v-2.1zM1099 971.5v2.1h1.6v-2.1zM1099 1009.5v4.2h1.6v-4.2zM1099 1039.5v2.1h1.6v-2.1zM1099 1043.5v2.1h1.6v-2.1zM1100.5 1049.5v2.1h1.6v-2.1zM1100.5 1053.5v2.1h1.6v-2.1zM1100.5 1061.5v2.1h1.6v-2.1zM1102 1031.5v2.1h1.6v-2.1zM1102 1047.5v4.2h1.6v-4.2zM1102 1053.5v6.2h1.6v-6.2zM1103.5 1021.5v2.1h1.6v-2.1zM1103.5 1033.5v2.1h1.6v-2.1zM1103.5 1039.5v4.2h1.6v-4.2zM1106.5 999.5v2.1h1.6v-2.1zM1106.5 1009.5v2.1h1.6v-2.1zM1106.5 1027.5v2.1h1.6v-2.1zM1106.5 1033.5v8.2h1.6v-8.2zM1106.5 1045.5v2.1h1.6v-2.1zM1106.5 1051.5v4.2h1.6v-4.2zM1108 971.5v2.1h1.6v-2.1zM1108 1001.5v2.1h1.6v-2.1zM1109.5 1023.5v2.1h1.6v-2.1zM1111 1039.5v2.1h1.6v-2.1zM1111 1053.5v2.1h1.6v-2.1zM1111 1059.5v6.2h1.6v-6.2zM1112.5 1021.5v2.1h1.6v-2.1zM1112.5 1035.5v2.1h1.6v-2.1zM1112.5 1051.5v2.1h1.6v-2.1zM1114 973.5v2.1h1.6v-2.1zM1114 1009.5v2.1h1.6v-2.1zM1115.5 973.5v2.1h1.6v-2.1zM1115.5 997.5v2.1h1.6v-2.1zM1117 999.5v2.1h1.6v-2.1zM1117 1003.5v2.1h1.6v-2.1zM1117 1025.5v2.1h1.6v-2.1zM1117 1033.5v2.1h1.6v-2.1zM1118.5 1035.5v2.1h1.6v-2.1zM1118.5 1043.5v2.1h1.6v-2.1zM1118.5 1061.5v2.1h1.6v-2.1zM1127.6 1076.5v3.1h1.6v-3.1zM1129.1 1057.5v4.2h1.6v-4.2zM1129.1 1065.5v6.2h1.6v-6.2zM1130.6 979.5v4.2h1.6v-4.2zM1132.1 1079.5v3.6h1.6v-3.6zM1135.1 1092v29.5h1.6v-29.5zM1138.1 1041.5v2.1h1.6v-2.1zM1138.1 1047.5v2.1h1.6v-2.1zM1139.6 985.5v4.2h1.6v-4.2zM1139.6 1003.5v2.1h1.6v-2.1zM1139.6 1029.5v2.1h1.6v-2.1zM1139.6 1045.5v2.1h1.6v-2.1zM1141.1 993.5v2.1h1.6v-2.1zM1141.1 1029.5v2.1h1.6v-2.1zM1141.1 1035.5v2.1h1.6v-2.1zM1141.1 1039.5v2.1h1.6v-2.1zM1142.6 1033.5v2.1h1.6v-2.1zM1142.6 1041.5v2.1h1.6v-2.1zM1144.1 995.5v2.1h1.6v-2.1zM1144.1 1009.5v2.1h1.6v-2.1zM1144.1 1045.5v2.1h1.6v-2.1zM1144.1 1049.5v4.2h1.6v-4.2zM1145.6 981.5v2.1h1.6v-2.1zM1145.6 1005.5v2.1h1.6v-2.1zM1150.1 1009.5v2.1h1.6v-2.1zM1150.1 1013.5v2.1h1.6v-2.1zM1151.6 995.5v2.1h1.6v-2.1zM1151.6 999.5v2.1h1.6v-2.1zM1151.6 1003.5v2.1h1.6v-2.1zM1151.6 1037.5v2.1h1.6v-2.1zM1153.1 1074v2.6h1.6v-2.6zM1154.6 1023.5v2.1h1.6v-2.1zM1154.6 1029.5v2.1h1.6v-2.1zM1154.6 1047.5v2.1h1.6v-2.1zM1154.6 1051.5v2.1h1.6v-2.1zM1154.6 1057.5v4.2h1.6v-4.2zM1156.1 1007.5v4.2h1.6v-4.2zM1156.1 1013.5v2.1h1.6v-2.1zM1156.1 1035.5v2.1h1.6v-2.1zM1156.1 1043.5v2.1h1.6v-2.1zM1163.6 1087v34.5h1.6v-34.5zM1165.1 1047.5v2.1h1.6v-2.1zM1165.1 1063.5v2.1h1.6v-2.1zM1165.1 1067.5v6.7h1.6v-6.7zM1166.6 1041.5v2.1h1.6v-2.1zM1166.6 1051.5v2.1h1.6v-2.1zM1166.6 1055.5v2.1h1.6v-2.1zM1166.6 1059.5v2.1h1.6v-2.1zM1168.1 1076.5v6.7h1.6v-6.7zM1169.6 1076.5v3.1h1.6v-3.1zM1171.1 1061.5v2.1h1.6v-2.1zM1171.1 1071.5v2.6h1.6v-2.6zM1181.7 1097.5v10.7h1.6v-10.7zM1186.2 1097.5v10.7h1.6v-10.7zM1190.7 1097.5v24h1.6v-24zM1201.2 1108v13.5h1.6v-13.5zM1204.2 1097.5v10.7h1.6v-10.7zM1211.7 1108v13.5h1.6v-13.5zM1225.2 1108v13.5h1.6v-13.5zM1226.7 1108v13.5h1.6v-13.5zM1229.7 1097.5v24h1.6v-24zM1232.7 1097.5v10.7h1.6v-10.7zM1234.2 1097.5v10.7h1.6v-10.7zM1237.2 1108v13.5h1.6v-13.5zM1238.7 1097.5v10.7h1.6v-10.7zM1255.3 1092v5.7h1.6v-5.7zM1259.8 1108v13.5h1.6v-13.5zM1261.3 1097.5v10.7h1.6v-10.7zM1262.8 1108v13.5h1.6v-13.5zM1264.3 1097.5v24h1.6v-24zM1265.8 1108v13.5h1.6v-13.5zM1267.3 1076.5v10.7h1.6v-10.7zM1268.8 1079.5v3.6h1.6v-3.6zM1268.8 1108v13.5h1.6v-13.5zM1270.3 1092v5.7h1.6v-5.7zM1271.8 1071.5v2.6h1.6v-2.6zM1276.3 1074v2.6h1.6v-2.6zM1276.3 1108v13.5h1.6v-13.5zM1277.8 1087v5.2h1.6v-5.2zM1279.3 1087v5.2h1.6v-5.2zM1280.8 1097.5v10.7h1.6v-10.7zM1282.3 1092v5.7h1.6v-5.7zM1283.8 1108v13.5h1.6v-13.5zM1285.3 1097.5v10.7h1.6v-10.7zM1286.8 1097.5v24h1.6v-24zM1294.3 1097.5v24h1.6v-24zM1298.8 1108v13.5h1.6v-13.5zM1301.9 1108v13.5h1.6v-13.5zM1307.9 1097.5v10.7h1.6v-10.7zM1310.9 1108v13.5h1.6v-13.5zM1312.4 1097.5v10.7h1.6v-10.7zM1315.4 1097.5v10.7h1.6v-10.7zM1319.9 1108v13.5h1.6v-13.5zM1321.4 1108v13.5h1.6v-13.5zM1325.9 1108v13.5h1.6v-13.5z"/>
<path fill="rgb(0,250,255)" d="M1017.9 991.5v2.1h1.6v-2.1zM1017.9 1019.5v2.1h1.6v-2.1zM1017.9 1033.5v2.1h1.6v-2.1zM1019.4 993.5v2.1h1.6v-2.1zM1019.4 997.5v2.1h1.6v-2.1zM1019.4 1033.5v2.1h1.6v-2.1zM1019.4 1047.5v2.1h1.6v-2.1zM1022.4 1021.5v2.1h1.6v-2.1zM1022.4 1029.5v2.1h1.6v-2.1zM1023.9 975.5v2.1h1.6v-2.1zM1034.4 985.5v2.1h1.6v-2.1zM1034.4 1007.5v2.1h1.6v-2.1zM1034.4 1031.5v2.1h1.6v-2.1zM1034.4 1035.5v2.1h1.6v-2.1zM1035.9 981.5v2.1h1.6v-2.1zM1035.9 1015.5v2.1h1.6v-2.1zM1035.9 1031.5v2.1h1.6v-2.1zM1035.9 1043.5v2.1h1.6v-2.1zM1037.4 975.5v2.1h1.6v-2.1zM1037.4 1021.5v2.1h1.6v-2.1zM1038.9 1015.5v2.1h1.6v-2.1zM1038.9 1031.5v2.1h1.6v-2.1zM1038.9 1037.5v2.1h1.6v-2.1zM1038.9 1045.5v4.2h1.6v-4.2zM1038.9 1051.5v4.2h1.6v-4.2zM1041.9 975.5v2.1h1.6v-2.1zM1041.9 1035.5v4.2h1.6v-4.2zM1041.9 1043.5v2.1h1.6v-2.1zM1041.9 1051.5v2.1h1.6v-2.1zM1043.4 1035.5v4.2h1.6v-4.2zM1043.4 1043.5v4.2h1.6v-4.2zM1043.4 1049.5v2.1h1.6v-2.1zM1043.4 1053.5v2.1h1.6v-2.1zM1043.4 1059.5v2.1h1.6v-2.1zM1044.9 973.5v2.1h1.6v-2.1zM1044.9 1011.5v2.1h1.6v-2.1zM1044.9 1031.5v2.1h1.6v-2.1zM1046.4 1019.5v2.1h1.6v-2.1zM1046.4 1035.5v2.1h1.6v-2.1zM1046.4 1039.5v2.1h1.6v-2.1zM1046.4 1043.5v2.1h1.6v-2.1zM1047.9 989.5v2.1h1.6v-2.1zM1047.9 1005.5v2.1h1.6v-2.1zM1047.9 1011.5v2.1h1.6v-2.1zM1047.9 1019.5v4.2h1.6v-4.2zM1047.9 1039.5v2.1h1.6v-2.1zM1049.4 991.5v2.1h1.6v-2.1zM1049.4 1011.5v2.1h1.6v-2.1zM1049.4 1027.5v2.1h1.6v-2.1zM1050.9 991.5v2.1h1.6v-2.1zM1050.9 1005.5v2.1h1.6v-2.1zM1050.9 1013.5v2.1h1.6v-2.1zM1050.9 1021.5v2.1h1.6v-2.1zM1052.4 1003.5v2.1h1.6v-2.1zM1052.4 1019.5v2.1h1.6v-2.1zM1053.9 973.5v2.1h1.6v-2.1zM1053.9 991.5v2.1h1.6v-2.1zM1053.9 999.5v2.1h1.6v-2.1zM1053.9 1005.5v2.1h1.6v-2.1zM1053.9 1013.5v2.1h1.6v-2.1zM1053.9 1021.5v2.1h1.6v-2.1zM1055.4 1001.5v2.1h1.6v-2.1zM1055.4 1041.5v2.1h1.6v-2.1zM1058.4 1023.5v2.1h1.6v-2.1zM1058.4 1037.5v2.1h1.6v-2.1zM1058.4 1051.5v2.1h1.6v-2.1zM1061.5 1005.5v2.1h1.6v-2.1zM1063 995.5v2.1h1.6v-2.1zM1063 1029.5v4.2h1.6v-4.2zM1063 1037.5v8.2h1.6v-8.2zM1063 1049.5v2.1h1.6v-2.1zM1064.5 1047.5v2.1h1.6v-2.1zM1064.5 1051.5v2.1h1.6v-2.1zM1064.5 1055.5v2.1h1.6v-2.1zM1067.5 979.5v2.1h1.6v-2.1zM1067.5 983.5v2.1h1.6v-2.1zM1067.5 995.5v2.1h1.6v-2.1zM1067.5 1009.5v2.1h1.6v-2.1zM1067.5 1017.5v2.1h1.6v-2.1zM1069 1083v25.1h1.6v-25.1zM1070.5 1029.5v4.2h1.6v-4.2zM1070.5 1039.5v2.1h1.6v-2.1zM1072 1029.5v2.1h1.6v-2.1zM1073.5 999.5v2.1h1.6v-2.1zM1073.5 1013.5v2.1h1.6v-2.1zM1073.5 1031.5v2.1h1.6v-2.1zM1073.5 1045.5v2.1h1.6v-2.1zM1075 993.5v2.1h1.6v-2.1zM1075 1027.5v2.1h1.6v-2.1zM1075 1041.5v2.1h1.6v-2.1zM1075 1049.5v2.1h1.6v-2.1zM1076.5 989.5v2.1h1.6v-2.1zM1076.5 1009.5v2.1h1.6v-2.1zM1078 991.5v2.1h1.6v-2.1zM1078 1017.5v2.1h1.6v-2.1zM1078 1023.5v2.1h1.6v-2.1zM1079.5 1003.5v2.1h1.6v-2.1zM1079.5 1009.5v2.1h1.6v-2.1zM1079.5 1015.5v2.1h1.6v-2.1zM1079.5 1023.5v2.1h1.6v-2.1zM1081 993.5v2.1h1.6v-2.1zM1081 1019.5v2.1h1.6v-2.1zM1084 979.5v2.1h1.6v-2.1zM1085.5 995.5v2.1h1.6v-2.1zM1085.5 1019.5v4.2h1.6v-4.2zM1085.5 1037.5v2.1h1.6v-2.1zM1085.5 1043.5v2.1h1.6v-2.1zM1087 1019.5v2.1h1.6v-2.1zM1087 1027.5v2.1h1.6v-2.1zM1087 1031.5v2.1h1.6v-2.1zM1087 1039.5v2.1h1.6v-2.1zM1087 1047.5v2.1h1.6v-2.1zM1088.5 1009.5v2.1h1.6v-2.1zM1088.5 1033.5v2.1h1.6v-2.1zM1088.5 1047.5v2.1h1.6v-2.1zM1091.5 973.5v2.1h1.6v-2.1zM1091.5 977.5v2.1h1.6v-2.1zM1093 1021.5v2.1h1.6v-2.1zM1093 1025.5v4.2h1.6v-4.2zM1093 1033.5v2.1h1.6v-2.1zM1093 1053.5v2.1h1.6v-2.1zM1094.5 1031.5v2.1h1.6v-2.1zM1094.5 1041.5v2.1h1.6v-2.1zM1099 1027.5v2.1h1.6v-2.1zM1099 1033.5v2.1h1.6v-2.1zM1099 1041.5v2.1h1.6v-2.1zM1099 1045.5v2.1h1.6v-2.1zM1099 1049.5v6.2h1.6v-6.2zM1100.5 1055.5v6.2h1.6v-6.2zM1100.5 1063.5v2.1h1.6v-2.1zM1102 1059.5v10.2h1.6v-10.2zM1103.5 1025.5v2.1h1.6v-2.1zM1103.5 1047.5v2.1h1.6v-2.1zM1103.5 1053.5v2.1h1.6v-2.1zM1103.5 1059.5v2.1h1.6v-2.1zM1106.5 1047.5v2.1h1.6v-2.1zM1106.5 1061.5v2.1h1.6v-2.1zM1108 1017.5v2.1h1.6v-2.1zM1108 1023.5v2.1h1.6v-2.1zM1108 1031.5v4.2h1.6v-4.2zM1108 1037.5v2.1h1.6v-2.1zM1109.5 985.5v2.1h1.6v-2.1zM1111 1035.5v2.1h1.6v-2.1zM1111 1051.5v2.1h1.6v-2.1zM1111 1057.5v2.1h1.6v-2.1zM1111 1067.5v4.2h1.6v-4.2zM1112.5 1039.5v2.1h1.6v-2.1zM1112.5 1043.5v2.1h1.6v-2.1zM1112.5 1049.5v2.1h1.6v-2.1zM1112.5 1053.5v2.1h1.6v-2.1zM1112.5 1057.5v2.1h1.6v-2.1zM1114 987.5v2.1h1.6v-2.1zM1115.5 970.2v1.4h1.6v-1.4zM1115.5 985.5v2.1h1.6v-2.1zM1117 1013.5v2.1h1.6v-2.1zM1117 1023.5v2.1h1.6v-2.1zM1117 1031.5v2.1h1.6v-2.1zM1117 1037.5v2.1h1.6v-2.1zM1117 1041.5v2.1h1.6v-2.1zM1117 1049.5v2.1h1.6v-2.1zM1118.5 1051.5v2.1h1.6v-2.1zM1118.5 1055.5v2.1h1.6v-2.1zM1118.5 1059.5v2.1h1.6v-2.1zM1118.5 1063.5v2.1h1.6v-2.1zM1120.1 979.5v2.1h1.6v-2.1zM1120.1 1019.5v2.1h1.6v-2.1zM1120.1 1023.5v2.1h1.6v-2.1zM1120.1 1033.5v2.1h1.6v-2.1zM1121.6 1013.5v2.1h1.6v-2.1zM1121.6 1031.5v2.1h1.6v-2.1zM1121.6 1035.5v2.1h1.6v-2.1zM1127.6 1079.5v7.7h1.6v-7.7zM1129.1 1071.5v5.2h1.6v-5.2zM1132.1 1083v25.1h1.6v-25.1zM1138.1 1001.5v2.1h1.6v-2.1zM1138.1 1035.5v2.1h1.6v-2.1zM1138.1 1053.5v4.2h1.6v-4.2zM1138.1 1059.5v4.2h1.6v-4.2zM1139.6 1001.5v2.1h1.6v-2.1zM1139.6 1013.5v2.1h1.6v-2.1zM1139.6 1035.5v2.1h1.6v-2.1zM1141.1 1003.5v2.1h1.6v-2.1zM1141.1 1027.5v2.1h1.6v-2.1zM1141.1 1031.5v2.1h1.6v-2.1zM1142.6 1023.5v2.1h1.6v-2.1zM1142.6 1037.5v2.1h1.6v-2.1zM1142.6 1045.5v2.1h1.6v-2.1zM1142.6 1051.5v2.1h1.6v-2.1zM1144.1 1043.5v2.1h1.6v-2.1zM1144.1 1047.5v2.1h1.6v-2.1zM1144.1 1053.5v8.2h1.6v-8.2zM1145.6 1025.5v2.1h1.6v-2.1zM1145.6 1031.5v4.2h1.6v-4.2zM1147.1 970.2v1.4h1.6v-1.4zM1147.1 987.5v2.1h1.6v-2.1zM1150.1 1057.5v6.2h1.6v-6.2zM1151.6 1015.5v2.1h1.6v-2.1zM1151.6 1021.5v2.1h1.6v-2.1zM1151.6 1027.5v2.1h1.6v-2.1zM1151.6 1031.5v2.1h1.6v-2.1zM1151.6 1039.5v2.1h1.6v-2.1zM1153.1 1076.5v3.1h1.6v-3.1zM1154.6 1045.5v2.1h1.6v-2.1zM1154.6 1049.5v2.1h1.6v-2.1zM1154.6 1053.5v2.1h1.6v-2.1zM1154.6 1061.5v4.2h1.6v-4.2zM1156.1 991.5v2.1h1.6v-2.1zM1156.1 1021.5v2.1h1.6v-2.1zM1156.1 1027.5v2.1h1.6v-2.1zM1156.1 1031.5v2.1h1.6v-2.1zM1156.1 1045.5v2.1h1.6v-2.1zM1165.1 1074v2.6h1.6v-2.6zM1166.6 1039.5v2.1h1.6v-2.1zM1166.6 1049.5v2.1h1.6v-2.1zM1166.6 1061.5v8.2h1.6v-8.2zM1168.1 1083v4.2h1.6v-4.2zM1169.6 1079.5v7.7h1.6v-7.7zM1171.1 1074v2.6h1.6v-2.6zM1177.1 1108v13.5h1.6v-13.5zM1178.6 1097.5v10.7h1.6v-10.7zM1180.2 1097.5v24h1.6v-24zM1181.7 1108v13.5h1.6v-13.5zM1186.2 1108v13.5h1.6v-13.5zM1199.7 1097.5v24h1.6v-24zM1201.2 1097.5v10.7h1.6v-10.7zM1202.7 1097.5v24h1.6v-24zM1231.2 1108v13.5h1.6v-13.5zM1232.7 1108v13.5h1.6v-13.5zM1237.2 1097.5v10.7h1.6v-10.7zM1247.8 1097.5v10.7h1.6v-10.7zM1250.8 1097.5v10.7h1.6v-10.7zM1252.3 1092v5.7h1.6v-5.7zM1256.8 1092v5.7h1.6v-5.7zM1256.8 1108v13.5h1.6v-13.5zM1259.8 1097.5v10.7h1.6v-10.7zM1265.8 1087v5.2h1.6v-5.2zM1267.3 1087v5.2h1.6v-5.2zM1268.8 1092v5.7h1.6v-5.7zM1270.3 1097.5v24h1.6v-24zM1271.8 1087v5.2h1.6v-5.2zM1276.3 1079.5v3.6h1.6v-3.6zM1276.3 1087v5.2h1.6v-5.2zM1276.3 1097.5v10.7h1.6v-10.7zM1277.8 1092v5.7h1.6v-5.7zM1282.3 1097.5v24h1.6v-24zM1288.3 1092v16.1h1.6v-16.1z"/>
<path fill="rgb(33,255,222)" d="M1017.9 1007.5v2.1h1.6v-2.1zM1017.9 1011.5v2.1h1.6v-2.1zM1017.9 1023.5v2.1h1.6v-2.1zM1017.9 1027.5v2.1h1.6v-2.1zM1017.9 1049.5v2.1h1.6v-2.1zM1019.4 987.5v2.1h1.6v-2.1zM1019.4 1009.5v2.1h1.6v-2.1zM1019.4 1025.5v2.1h1.6v-2.1zM1019.4 1035.5v2.1h1.6v-2.1zM1019.4 1045.5v2.1h1.6v-2.1zM1019.4 1049.5v2.1h1.6v-2.1zM1020.9 970.2v1.4h1.6v-1.4zM1022.4 987.5v2.1h1.6v-2.1zM1022.4 1019.5v2.1h1.6v-2.1zM1022.4 1033.5v2.1h1.6v-2.1zM1022.4 1039.5v2.1h1.6v-2.1zM1023.9 1037.5v4.2h1.6v-4.2zM1034.4 1019.5v2.1h1.6v-2.1zM1034.4 1023.5v2.1h1.6v-2.1zM1034.4 1029.5v2.1h1.6v-2.1zM1035.9 1011.5v2.1h1.6v-2.1zM1035.9 1023.5v4.2h1.6v-4.2zM1035.9 1033.5v2.1h1.6v-2.1zM1035.9 1037.5v2.1h1.6v-2.1zM1038.9 1001.5v2.1h1.6v-2.1zM1038.9 1017.5v2.1h1.6v-2.1zM1038.9 1049.5v2.1h1.6v-2.1zM1041.9 987.5v2.1h1.6v-2.1zM1041.9 991.5v2.1h1.6v-2.1zM1041.9 1025.5v2.1h1.6v-2.1zM1041.9 1047.5v2.1h1.6v-2.1zM1043.4 1031.5v2.1h1.6v-2.1zM1043.4 1041.5v2.1h1.6v-2.1zM1043.4 1057.5v2.1h1.6v-2.1zM1044.9 1035.5v2.1h1.6v-2.1zM1046.4 987.5v2.1h1.6v-2.1zM1046.4 997.5v2.1h1.6v-2.1zM1046.4 1003.5v2.1h1.6v-2.1zM1046.4 1013.5v2.1h1.6v-2.1zM1046.4 1029.5v2.1h1.6v-2.1zM1046.4 1037.5v2.1h1.6v-2.1zM1046.4 1045.5v2.1h1.6v-2.1zM1046.4 1057.5v2.1h1.6v-2.1zM1047.9 1015.5v2.1h1.6v-2.1zM1047.9 1031.5v2.1h1.6v-2.1zM1049.4 1019.5v2.1h1.6v-2.1zM1049.4 1025.5v2.1h1.6v-2.1zM1050.9 1011.5v2.1h1.6v-2.1zM1050.9 1035.5v2.1h1.6v-2.1zM1050.9 1041.5v2.1h1.6v-2.1zM1050.9 1051.5v2.1h1.6v-2.1zM1052.4 1021.5v2.1h1.6v-2.1zM1053.9 1007.5v2.1h1.6v-2.1zM1053.9 1037.5v2.1h1.6v-2.1zM1055.4 975.5v2.1h1.6v-2.1zM1055.4 1007.5v2.1h1.6v-2.1zM1055.4 1013.5v4.2h1.6v-4.2zM1055.4 1031.5v4.2h1.6v-4.2zM1056.9 979.5v2.1h1.6v-2.1zM1056.9 991.5v2.1h1.6v-2.1zM1058.4 1027.5v2.1h1.6v-2.1zM1058.4 1039.5v4.2h1.6v-4.2zM1058.4 1045.5v4.2h1.6v-4.2zM1059.9 1001.5v2.1h1.6v-2.1zM1059.9 1017.5v2.1h1.6v-2.1zM1059.9 1023.5v4.2h1.6v-4.2zM1059.9 1029.5v2.1h1.6v-2.1zM1059.9 1033.5v2.1h1.6v-2.1zM1063 1045.5v4.2h1.6v-4.2zM1063 1051.5v4.2h1.6v-4.2zM1063 1057.5v2.1h1.6v-2.1zM1064.5 1049.5v2.1h1.6v-2.1zM1064.5 1057.5v8.2h1.6v-8.2zM1067.5 1015.5v2.1h1.6v-2.1zM1067.5 1019.5v2.1h1.6v-2.1zM1067.5 1039.5v2.1h1.6v-2.1zM1069 1108v13.5h1.6v-13.5zM1070.5 991.5v2.1h1.6v-2.1zM1070.5 1043.5v6.2h1.6v-6.2zM1070.5 1051.5v2.1h1.6v-2.1zM1072 1031.5v2.1h1.6v-2.1zM1072 1041.5v2.1h1.6v-2.1zM1072 1045.5v2.1h1.6v-2.1zM1072 1049.5v2.1h1.6v-2.1zM1072 1053.5v2.1h1.6v-2.1zM1072 1057.5v4.2h1.6v-4.2zM1073.5 1035.5v4.2h1.6v-4.2zM1073.5 1059.5v2.1h1.6v-2.1zM1075 1001.5v2.1h1.6v-2.1zM1075 1047.5v2.1h1.6v-2.1zM1075 1053.5v4.2h1.6v-4.2zM1075 1061.5v2.1h1.6v-2.1zM1076.5 1023.5v2.1h1.6v-2.1zM1078 1005.5v2.1h1.6v-2.1zM1078 1009.5v2.1h1.6v-2.1zM1078 1033.5v6.2h1.6v-6.2zM1079.5 1027.5v2.1h1.6v-2.1zM1079.5 1035.5v4.2h1.6v-4.2zM1079.5 1045.5v4.2h1.6v-4.2zM1079.5 1051.5v2.1h1.6v-2.1zM1079.5 1055.5v2.1h1.6v-2.1zM1081 1015.5v2.1h1.6v-2.1zM1081 1037.5v2.1h1.6v-2.1zM1081 1041.5v4.2h1.6v-4.2zM1081 1053.5v2.1h1.6v-2.1zM1081 1057.5v2.1h1.6v-2.1zM1084 970.2v1.4h1.6v-1.4zM1084 981.5v2.1h1.6v-2.1zM1085.5 1017.5v2.1h1.6v-2.1zM1085.5 1035.5v2.1h1.6v-2.1zM1087 1029.5v2.1h1.6v-2.1zM1087 1033.5v2.1h1.6v-2.1zM1087 1049.5v2.1h1.6v-2.1zM1088.5 995.5v2.1h1.6v-2.1zM1088.5 1019.5v2.1h1.6v-2.1zM1093 1045.5v2.1h1.6v-2.1zM1093 1051.5v2.1h1.6v-2.1zM1093 1057.5v2.1h1.6v-2.1zM1094.5 1017.5v2.1h1.6v-2.1zM1094.5 1037.5v4.2h1.6v-4.2zM1094.5 1047.5v2.1h1.6v-2.1zM1097.5 979.5v4.2h1.6v-4.2zM1097.5 985.5v2.1h1.6v-2.1zM1099 1055.5v4.2h1.6v-4.2zM1099 1061.5v2.1h1.6v-2.1zM1100.5 1051.5v2.1h1.6v-2.1zM1100.5 1065.5v6.2h1.6v-6.2zM1102 1041.5v2.1h1.6v-2.1zM1102 1069.5v4.7h1.6v-4.7zM1103.5 1037.5v2.1h1.6v-2.1zM1103.5 1049.5v2.1h1.6v-2.1zM1103.5 1055.5v4.2h1.6v-4.2zM1103.5 1061.5v4.2h1.6v-4.2zM1106.5 1043.5v2.1h1.6v-2.1zM1106.5 1049.5v2.1h1.6v-2.1zM1106.5 1055.5v4.2h1.6v-4.2zM1106.5 1063.5v2.1h1.6v-2.1zM1108 1019.5v2.1h1.6v-2.1zM1108 1035.5v2.1h1.6v-2.1zM1108 1039.5v2.1h1.6v-2.1zM1108 1043.5v2.1h1.6v-2.1zM1108 1049.5v2.1h1.6v-2.1zM1108 1055.5v4.2h1.6v-4.2zM1109.5 983.5v2.1h1.6v-2.1zM1109.5 991.5v2.1h1.6v-2.1zM1109.5 997.5v2.1h1.6v-2.1zM1109.5 1003.5v2.1h1.6v-2.1zM1111 1065.5v2.1h1.6v-2.1zM1111 1071.5v2.6h1.6v-2.6zM1112.5 1059.5v4.2h1.6v-4.2zM1112.5 1067.5v2.1h1.6v-2.1zM1114 999.5v2.1h1.6v-2.1zM1114 1021.5v2.1h1.6v-2.1zM1114 1037.5v2.1h1.6v-2.1zM1115.5 975.5v2.1h1.6v-2.1zM1115.5 987.5v4.2h1.6v-4.2zM1115.5 993.5v2.1h1.6v-2.1zM1115.5 1003.5v2.1h1.6v-2.1zM1117 1017.5v2.1h1.6v-2.1zM1117 1029.5v2.1h1.6v-2.1zM1117 1035.5v2.1h1.6v-2.1zM1117 1045.5v4.2h1.6v-4.2zM1118.5 1057.5v2.1h1.6v-2.1zM1118.5 1065.5v4.2h1.6v-4.2zM1120.1 1003.5v2.1h1.6v-2.1zM1120.1 1007.5v2.1h1.6v-2.1zM1120.1 1017.5v2.1h1.6v-2.1zM1120.1 1027.5v2.1h1.6v-2.1zM1120.1 1031.5v2.1h1.6v-2.1zM1120.1 1037.5v2.1h1.6v-2.1zM1121.6 1019.5v2.1h1.6v-2.1zM1127.6 1087v34.5h1.6v-34.5zM1129.1 1076.5v3.1h1.6v-3.1zM1130.6 995.5v2.1h1.6v-2.1zM1130.6 1025.5v2.1h1.6v-2.1zM1132.1 1108v13.5h1.6v-13.5zM1138.1 1063.5v6.2h1.6v-6.2zM1139.6 1023.5v4.2h1.6v-4.2zM1139.6 1043.5v2.1h1.6v-2.1zM1139.6 1051.5v2.1h1.6v-2.1zM1141.1 973.5v2.1h1.6v-2.1zM1141.1 1017.5v4.2h1.6v-4.2zM1141.1 1033.5v2.1h1.6v-2.1zM1141.1 1043.5v6.2h1.6v-6.2zM1142.6 993.5v2.1h1.6v-2.1zM1142.6 1019.5v2.1h1.6v-2.1zM1142.6 1027.5v2.1h1.6v-2.1zM1142.6 1031.5v2.1h1.6v-2.1zM1142.6 1049.5v2.1h1.6v-2.1zM1144.1 1063.5v2.1h1.6v-2.1zM1145.6 1011.5v2.1h1.6v-2.1zM1145.6 1037.5v4.2h1.6v-4.2zM1145.6 1043.5v2.1h1.6v-2.1zM1147.1 1021.5v2.1h1.6v-2.1zM1150.1 1049.5v2.1h1.6v-2.1zM1150.1 1063.5v8.2h1.6v-8.2zM1151.6 1033.5v4.2h1.6v-4.2zM1151.6 1043.5v2.1h1.6v-2.1zM1153.1 1079.5v7.7h1.6v-7.7zM1154.6 1065.5v6.2h1.6v-6.2zM1156.1 999.5v2.1h1.6v-2.1zM1156.1 1011.5v2.1h1.6v-2.1zM1156.1 1047.5v2.1h1.6v-2.1zM1165.1 1076.5v3.1h1.6v-3.1zM1166.6 1069.5v2.1h1.6v-2.1zM1168.1 1087v34.5h1.6v-34.5zM1169.6 1087v34.5h1.6v-34.5zM1171.1 1076.5v6.7h1.6v-6.7zM1177.1 1097.5v10.7h1.6v-10.7zM1204.2 1108v13.5h1.6v-13.5zM1220.7 1097.5v10.7h1.6v-10.7zM1231.2 1097.5v10.7h1.6v-10.7zM1235.7 1097.5v10.7h1.6v-10.7zM1250.8 1108v13.5h1.6v-13.5zM1252.3 1097.5v10.7h1.6v-10.7zM1256.8 1097.5v10.7h1.6v-10.7zM1258.3 1092v5.7h1.6v-5.7zM1258.3 1108v13.5h1.6v-13.5zM1261.3 1092v5.7h1.6v-5.7zM1262.8 1092v5.7h1.6v-5.7zM1267.3 1092v5.7h1.6v-5.7zM1279.3 1092v5.7h1.6v-5.7zM1321.4 1097.5v10.7h1.6v-10.7z"/>
<path fill="rgb(71,255,184)" d="M1017.9 979.5v2.1h1.6v-2.1zM1017.9 995.5v2.1h1.6v-2.1zM1017.9 1025.5v2.1h1.6v-2.1zM1017.9 1037.5v4.2h1.6v-4.2zM1017.9 1047.5v2.1h1.6v-2.1zM1017.9 1051.5v2.1h1.6v-2.1zM1019.4 1053.5v2.1h1.6v-2.1zM1019.4 1057.5v2.1h1.6v-2.1zM1020.9 995.5v2.1h1.6v-2.1zM1020.9 1027.5v2.1h1.6v-2.1zM1022.4 1007.5v2.1h1.6v-2.1zM1022.4 1049.5v2.1h1.6v-2.1zM1022.4 1053.5v2.1h1.6v-2.1zM1023.9 1005.5v2.1h1.6v-2.1zM1023.9 1019.5v2.1h1.6v-2.1zM1023.9 1027.5v2.1h1.6v-2.1zM1023.9 1033.5v2.1h1.6v-2.1zM1035.9 1001.5v2.1h1.6v-2.1zM1035.9 1013.5v2.1h1.6v-2.1zM1035.9 1027.5v2.1h1.6v-2.1zM1035.9 1047.5v2.1h1.6v-2.1zM1037.4 970.2v1.4h1.6v-1.4zM1038.9 1039.5v2.1h1.6v-2.1zM1038.9 1057.5v4.2h1.6v-4.2zM1038.9 1063.5v2.1h1.6v-2.1zM1041.9 1001.5v2.1h1.6v-2.1zM1041.9 1045.5v2.1h1.6v-2.1zM1043.4 1033.5v2.1h1.6v-2.1zM1043.4 1051.5v2.1h1.6v-2.1zM1043.4 1061.5v6.2h1.6v-6.2zM1044.9 1003.5v2.1h1.6v-2.1zM1046.4 1005.5v2.1h1.6v-2.1zM1046.4 1049.5v2.1h1.6v-2.1zM1046.4 1055.5v2.1h1.6v-2.1zM1046.4 1059.5v2.1h1.6v-2.1zM1047.9 995.5v2.1h1.6v-2.1zM1047.9 1037.5v2.1h1.6v-2.1zM1047.9 1043.5v2.1h1.6v-2.1zM1049.4 985.5v2.1h1.6v-2.1zM1049.4 1031.5v2.1h1.6v-2.1zM1050.9 1001.5v2.1h1.6v-2.1zM1050.9 1033.5v2.1h1.6v-2.1zM1050.9 1047.5v2.1h1.6v-2.1zM1052.4 975.5v2.1h1.6v-2.1zM1052.4 981.5v2.1h1.6v-2.1zM1053.9 1015.5v4.2h1.6v-4.2zM1053.9 1023.5v2.1h1.6v-2.1zM1053.9 1029.5v2.1h1.6v-2.1zM1053.9 1045.5v2.1h1.6v-2.1zM1055.4 995.5v2.1h1.6v-2.1zM1055.4 1017.5v6.2h1.6v-6.2zM1055.4 1043.5v2.1h1.6v-2.1zM1056.9 1005.5v2.1h1.6v-2.1zM1058.4 1019.5v2.1h1.6v-2.1zM1058.4 1043.5v2.1h1.6v-2.1zM1058.4 1053.5v8.2h1.6v-8.2zM1059.9 1021.5v2.1h1.6v-2.1zM1059.9 1027.5v2.1h1.6v-2.1zM1059.9 1039.5v2.1h1.6v-2.1zM1059.9 1053.5v2.1h1.6v-2.1zM1061.5 971.5v2.1h1.6v-2.1zM1061.5 985.5v2.1h1.6v-2.1zM1063 1055.5v2.1h1.6v-2.1zM1064.5 1065.5v2.1h1.6v-2.1zM1064.5 1069.5v2.1h1.6v-2.1zM1066 989.5v2.1h1.6v-2.1zM1066 1011.5v2.1h1.6v-2.1zM1067.5 993.5v2.1h1.6v-2.1zM1067.5 1025.5v2.1h1.6v-2.1zM1067.5 1037.5v2.1h1.6v-2.1zM1070.5 1003.5v2.1h1.6v-2.1zM1070.5 1015.5v2.1h1.6v-2.1zM1070.5 1037.5v2.1h1.6v-2.1zM1072 1047.5v2.1h1.6v-2.1zM1072 1063.5v2.1h1.6v-2.1zM1073.5 1003.5v2.1h1.6v-2.1zM1073.5 1047.5v12.2h1.6v-12.2zM1073.5 1061.5v2.1h1.6v-2.1zM1075 1045.5v2.1h1.6v-2.1zM1075 1051.5v2.1h1.6v-2.1zM1075 1057.5v4.2h1.6v-4.2zM1075 1063.5v2.1h1.6v-2.1zM1076.5 1001.5v2.1h1.6v-2.1zM1076.5 1051.5v2.1h1.6v-2.1zM1078 1015.5v2.1h1.6v-2.1zM1078 1025.5v2.1h1.6v-2.1zM1078 1029.5v4.2h1.6v-4.2zM1079.5 1011.5v2.1h1.6v-2.1zM1079.5 1039.5v2.1h1.6v-2.1zM1079.5 1049.5v2.1h1.6v-2.1zM1079.5 1053.5v2.1h1.6v-2.1zM1081 1045.5v2.1h1.6v-2.1zM1081 1049.5v4.2h1.6v-4.2zM1081 1055.5v2.1h1.6v-2.1zM1081 1059.5v2.1h1.6v-2.1zM1084 993.5v2.1h1.6v-2.1zM1085.5 993.5v2.1h1.6v-2.1zM1085.5 1001.5v2.1h1.6v-2.1zM1085.5 1007.5v2.1h1.6v-2.1zM1085.5 1033.5v2.1h1.6v-2.1zM1085.5 1041.5v2.1h1.6v-2.1zM1085.5 1045.5v6.2h1.6v-6.2zM1087 1011.5v2.1h1.6v-2.1zM1087 1035.5v2.1h1.6v-2.1zM1087 1041.5v2.1h1.6v-2.1zM1087 1045.5v2.1h1.6v-2.1zM1087 1051.5v2.1h1.6v-2.1zM1087 1057.5v2.1h1.6v-2.1zM1088.5 987.5v2.1h1.6v-2.1zM1088.5 1023.5v2.1h1.6v-2.1zM1088.5 1029.5v2.1h1.6v-2.1zM1088.5 1039.5v6.2h1.6v-6.2zM1091.5 1019.5v2.1h1.6v-2.1zM1093 1029.5v2.1h1.6v-2.1zM1093 1049.5v2.1h1.6v-2.1zM1093 1059.5v4.2h1.6v-4.2zM1094.5 1019.5v2.1h1.6v-2.1zM1094.5 1043.5v2.1h1.6v-2.1zM1094.5 1049.5v4.2h1.6v-4.2zM1097.5 989.5v2.1h1.6v-2.1zM1099 1059.5v2.1h1.6v-2.1zM1099 1063.5v2.1h1.6v-2.1zM1100.5 1071.5v2.6h1.6v-2.6zM1102 1074v2.6h1.6v-2.6zM1103.5 1065.5v6.2h1.6v-6.2zM1105 975.5v2.1h1.6v-2.1zM1105 1001.5v2.1h1.6v-2.1zM1106.5 1059.5v2.1h1.6v-2.1zM1106.5 1065.5v4.2h1.6v-4.2zM1108 1013.5v2.1h1.6v-2.1zM1108 1051.5v4.2h1.6v-4.2zM1108 1059.5v2.1h1.6v-2.1zM1109.5 1005.5v2.1h1.6v-2.1zM1111 1074v2.6h1.6v-2.6zM1112.5 1055.5v2.1h1.6v-2.1zM1112.5 1063.5v4.2h1.6v-4.2zM1114 1025.5v2.1h1.6v-2.1zM1114 1035.5v2.1h1.6v-2.1zM1114 1039.5v2.1h1.6v-2.1zM1115.5 1001.5v2.1h1.6v-2.1zM1117 993.5v2.1h1.6v-2.1zM1117 1027.5v2.1h1.6v-2.1zM1117 1051.5v8.2h1.6v-8.2zM1117 1063.5v2.1h1.6v-2.1zM1118.5 1069.5v4.7h1.6v-4.7zM1120.1 999.5v2.1h1.6v-2.1zM1120.1 1005.5v2.1h1.6v-2.1zM1120.1 1011.5v4.2h1.6v-4.2zM1120.1 1035.5v2.1h1.6v-2.1zM1120.1 1043.5v6.2h1.6v-6.2zM1120.1 1053.5v2.1h1.6v-2.1zM1121.6 1021.5v4.2h1.6v-4.2zM1121.6 1027.5v2.1h1.6v-2.1zM1121.6 1039.5v4.2h1.6v-4.2zM1129.1 1079.5v3.6h1.6v-3.6zM1130.6 1001.5v2.1h1.6v-2.1zM1138.1 1069.5v4.7h1.6v-4.7zM1139.6 1041.5v2.1h1.6v-2.1zM1139.6 1047.5v4.2h1.6v-4.2zM1139.6 1053.5v8.2h1.6v-8.2zM1141.1 989.5v2.1h1.6v-2.1zM1141.1 1007.5v2.1h1.6v-2.1zM1141.1 1013.5v2.1h1.6v-2.1zM1141.1 1049.5v2.1h1.6v-2.1zM1141.1 1053.5v2.1h1.6v-2.1zM1142.6 1025.5v2.1h1.6v-2.1zM1142.6 1029.5v2.1h1.6v-2.1zM1142.6 1035.5v2.1h1.6v-2.1zM1142.6 1047.5v2.1h1.6v-2.1zM1142.6 1053.5v4.2h1.6v-4.2zM1144.1 1061.5v2.1h1.6v-2.1zM1144.1 1065.5v6.2h1.6v-6.2zM1145.6 1029.5v2.1h1.6v-2.1zM1145.6 1041.5v2.1h1.6v-2.1zM1145.6 1045.5v2.1h1.6v-2.1zM1145.6 1049.5v2.1h1.6v-2.1zM1145.6 1053.5v2.1h1.6v-2.1zM1147.1 989.5v2.1h1.6v-2.1zM1147.1 1011.5v2.1h1.6v-2.1zM1150.1 1071.5v2.6h1.6v-2.6zM1151.6 1007.5v2.1h1.6v-2.1zM1151.6 1013.5v2.1h1.6v-2.1zM1151.6 1017.5v2.1h1.6v-2.1zM1151.6 1041.5v2.1h1.6v-2.1zM1151.6 1049.5v4.2h1.6v-4.2zM1153.1 1087v34.5h1.6v-34.5zM1154.6 1071.5v2.6h1.6v-2.6zM1156.1 1003.5v2.1h1.6v-2.1zM1156.1 1049.5v4.2h1.6v-4.2zM1156.1 1057.5v2.1h1.6v-2.1zM1165.1 1079.5v7.7h1.6v-7.7zM1166.6 1071.5v5.2h1.6v-5.2zM1171.1 1083v4.2h1.6v-4.2zM1174.1 1097.5v24h1.6v-24zM1178.6 1108v13.5h1.6v-13.5zM1220.7 1108v13.5h1.6v-13.5zM1235.7 1108v13.5h1.6v-13.5zM1252.3 1108v13.5h1.6v-13.5zM1258.3 1097.5v10.7h1.6v-10.7zM1276.3 1092v5.7h1.6v-5.7z"/>
<path fill="rgb(109,255,146)" d="M1017.9 1031.5v2.1h1.6v-2.1zM1017.9 1035.5v2.1h1.6v-2.1zM1017.9 1041.5v6.2h1.6v-6.2zM1017.9 1053.5v2.1h1.6v-2.1zM1017.9 1057.5v2.1h1.6v-2.1zM1019.4 1039.5v2.1h1.6v-2.1zM1019.4 1051.5v2.1h1.6v-2.1zM1019.4 1055.5v2.1h1.6v-2.1zM1020.9 993.5v2.1h1.6v-2.1zM1020.9 999.5v2.1h1.6v-2.1zM1020.9 1029.5v2.1h1.6v-2.1zM1022.4 1015.5v2.1h1.6v-2.1zM1022.4 1023.5v2.1h1.6v-2.1zM1022.4 1037.5v2.1h1.6v-2.1zM1022.4 1041.5v4.2h1.6v-4.2zM1022.4 1047.5v2.1h1.6v-2.1zM1022.4 1057.5v2.1h1.6v-2.1zM1023.9 1011.5v2.1h1.6v-2.1zM1023.9 1031.5v2.1h1.6v-2.1zM1023.9 1045.5v2.1h1.6v-2.1zM1023.9 1053.5v4.2h1.6v-4.2zM1034.4 1013.5v2.1h1.6v-2.1zM1034.4 1033.5v2.1h1.6v-2.1zM1034.4 1037.5v8.2h1.6v-8.2zM1034.4 1049.5v6.2h1.6v-6.2zM1035.9 1045.5v2.1h1.6v-2.1zM1035.9 1049.5v2.1h1.6v-2.1zM1035.9 1053.5v2.1h1.6v-2.1zM1037.4 981.5v2.1h1.6v-2.1zM1037.4 1011.5v2.1h1.6v-2.1zM1037.4 1039.5v2.1h1.6v-2.1zM1038.9 1061.5v2.1h1.6v-2.1zM1038.9 1065.5v4.2h1.6v-4.2zM1041.9 1031.5v2.1h1.6v-2.1zM1041.9 1039.5v2.1h1.6v-2.1zM1041.9 1053.5v4.2h1.6v-4.2zM1043.4 1067.5v6.7h1.6v-6.7zM1044.9 989.5v2.1h1.6v-2.1zM1044.9 995.5v2.1h1.6v-2.1zM1044.9 1015.5v2.1h1.6v-2.1zM1046.4 1041.5v2.1h1.6v-2.1zM1046.4 1047.5v2.1h1.6v-2.1zM1046.4 1053.5v2.1h1.6v-2.1zM1047.9 1025.5v4.2h1.6v-4.2zM1047.9 1035.5v2.1h1.6v-2.1zM1047.9 1041.5v2.1h1.6v-2.1zM1047.9 1045.5v4.2h1.6v-4.2zM1047.9 1055.5v2.1h1.6v-2.1zM1049.4 987.5v2.1h1.6v-2.1zM1049.4 1021.5v2.1h1.6v-2.1zM1049.4 1029.5v2.1h1.6v-2.1zM1049.4 1033.5v4.2h1.6v-4.2zM1049.4 1039.5v2.1h1.6v-2.1zM1049.4 1043.5v2.1h1.6v-2.1zM1049.4 1049.5v2.1h1.6v-2.1zM1049.4 1057.5v2.1h1.6v-2.1zM1050.9 1003.5v2.1h1.6v-2.1zM1050.9 1007.5v2.1h1.6v-2.1zM1050.9 1045.5v2.1h1.6v-2.1zM1052.4 979.5v2.1h1.6v-2.1zM1052.4 985.5v2.1h1.6v-2.1zM1052.4 993.5v2.1h1.6v-2.1zM1053.9 1011.5v2.1h1.6v-2.1zM1053.9 1027.5v2.1h1.6v-2.1zM1053.9 1031.5v2.1h1.6v-2.1zM1053.9 1059.5v2.1h1.6v-2.1zM1055.4 999.5v2.1h1.6v-2.1zM1055.4 1047.5v2.1h1.6v-2.1zM1055.4 1055.5v2.1h1.6v-2.1zM1056.9 975.5v2.1h1.6v-2.1zM1056.9 985.5v2.1h1.6v-2.1zM1056.9 1007.5v2.1h1.6v-2.1zM1058.4 1061.5v6.2h1.6v-6.2zM1059.9 977.5v2.1h1.6v-2.1zM1059.9 1003.5v2.1h1.6v-2.1zM1059.9 1009.5v2.1h1.6v-2.1zM1059.9 1031.5v2.1h1.6v-2.1zM1059.9 1035.5v2.1h1.6v-2.1zM1059.9 1041.5v2.1h1.6v-2.1zM1059.9 1045.5v2.1h1.6v-2.1zM1061.5 995.5v2.1h1.6v-2.1zM1061.5 1001.5v2.1h1.6v-2.1zM1063 1019.5v2.1h1.6v-2.1zM1063 1059.5v2.1h1.6v-2.1zM1063 1063.5v4.2h1.6v-4.2zM1064.5 1067.5v2.1h1.6v-2.1zM1064.5 1071.5v2.6h1.6v-2.6zM1066 975.5v2.1h1.6v-2.1zM1066 983.5v4.2h1.6v-4.2zM1066 1003.5v2.1h1.6v-2.1zM1066 1021.5v2.1h1.6v-2.1zM1067.5 1023.5v2.1h1.6v-2.1zM1067.5 1029.5v4.2h1.6v-4.2zM1067.5 1049.5v2.1h1.6v-2.1zM1067.5 1059.5v2.1h1.6v-2.1zM1070.5 1049.5v2.1h1.6v-2.1zM1070.5 1059.5v2.1h1.6v-2.1zM1072 1061.5v2.1h1.6v-2.1zM1072 1065.5v6.2h1.6v-6.2zM1073.5 1063.5v6.2h1.6v-6.2zM1075 1011.5v2.1h1.6v-2.1zM1075 1065.5v6.2h1.6v-6.2zM1076.5 985.5v2.1h1.6v-2.1zM1076.5 1041.5v2.1h1.6v-2.1zM1078 1047.5v4.2h1.6v-4.2zM1079.5 1043.5v2.1h1.6v-2.1zM1079.5 1057.5v6.2h1.6v-6.2zM1081 1061.5v6.2h1.6v-6.2zM1084 987.5v2.1h1.6v-2.1zM1085.5 1053.5v10.2h1.6v-10.2zM1085.5 1065.5v2.1h1.6v-2.1zM1087 1053.5v4.2h1.6v-4.2zM1087 1061.5v4.2h1.6v-4.2zM1088.5 1045.5v2.1h1.6v-2.1zM1088.5 1049.5v14.2h1.6v-14.2zM1091.5 975.5v2.1h1.6v-2.1zM1091.5 997.5v2.1h1.6v-2.1zM1091.5 1007.5v2.1h1.6v-2.1zM1093 1055.5v2.1h1.6v-2.1zM1093 1063.5v6.2h1.6v-6.2zM1094.5 1011.5v2.1h1.6v-2.1zM1094.5 1053.5v2.1h1.6v-2.1zM1094.5 1057.5v2.1h1.6v-2.1zM1097.5 1043.5v2.1h1.6v-2.1zM1099 1065.5v6.2h1.6v-6.2zM1100.5 1074v2.6h1.6v-2.6zM1102 1076.5v3.1h1.6v-3.1zM1103.5 1071.5v2.6h1.6v-2.6zM1105 973.5v2.1h1.6v-2.1zM1105 983.5v2.1h1.6v-2.1zM1105 993.5v2.1h1.6v-2.1zM1105 1017.5v2.1h1.6v-2.1zM1106.5 1069.5v4.7h1.6v-4.7zM1108 1061.5v6.2h1.6v-6.2zM1109.5 987.5v2.1h1.6v-2.1zM1109.5 1013.5v2.1h1.6v-2.1zM1109.5 1021.5v2.1h1.6v-2.1zM1109.5 1027.5v2.1h1.6v-2.1zM1111 1076.5v3.1h1.6v-3.1zM1112.5 1069.5v4.7h1.6v-4.7zM1114 1015.5v2.1h1.6v-2.1zM1114 1023.5v2.1h1.6v-2.1zM1114 1027.5v2.1h1.6v-2.1zM1114 1041.5v2.1h1.6v-2.1zM1114 1049.5v2.1h1.6v-2.1zM1114 1057.5v2.1h1.6v-2.1zM1115.5 1015.5v2.1h1.6v-2.1zM1117 1059.5v4.2h1.6v-4.2zM1117 1065.5v2.1h1.6v-2.1zM1118.5 1074v2.6h1.6v-2.6zM1120.1 1039.5v4.2h1.6v-4.2zM1120.1 1051.5v2.1h1.6v-2.1zM1120.1 1055.5v4.2h1.6v-4.2zM1120.1 1061.5v2.1h1.6v-2.1zM1121.6 1015.5v4.2h1.6v-4.2zM1121.6 1043.5v2.1h1.6v-2.1zM1121.6 1047.5v2.1h1.6v-2.1zM1121.6 1051.5v2.1h1.6v-2.1zM1121.6 1059.5v2.1h1.6v-2.1zM1129.1 1083v4.2h1.6v-4.2zM1130.6 1003.5v2.1h1.6v-2.1zM1130.6 1015.5v2.1h1.6v-2.1zM1138.1 1074v2.6h1.6v-2.6zM1139.6 1061.5v2.1h1.6v-2.1zM1139.6 1065.5v4.2h1.6v-4.2zM1141.1 1009.5v2.1h1.6v-2.1zM1141.1 1023.5v2.1h1.6v-2.1zM1141.1 1037.5v2.1h1.6v-2.1zM1141.1 1057.5v2.1h1.6v-2.1zM1142.6 1057.5v8.2h1.6v-8.2zM1144.1 1071.5v2.6h1.6v-2.6zM1145.6 1047.5v2.1h1.6v-2.1zM1145.6 1051.5v2.1h1.6v-2.1zM1147.1 979.5v2.1h1.6v-2.1zM1147.1 991.5v2.1h1.6v-2.1zM1150.1 1074v2.6h1.6v-2.6zM1151.6 1045.5v2.1h1.6v-2.1zM1151.6 1053.5v6.2h1.6v-6.2zM1154.6 1074v2.6h1.6v-2.6zM1156.1 1053.5v2.1h1.6v-2.1zM1156.1 1061.5v2.1h1.6v-2.1zM1165.1 1087v21.1h1.6v-21.1zM1166.6 1076.5v3.1h1.6v-3.1zM1171.1 1087v34.5h1.6v-34.5z"/>
<path fill="rgb(146,255,109)" d="M1017.9 1055.5v2.1h1.6v-2.1zM1017.9 1059.5v2.1h1.6v-2.1zM1019.4 1037.5v2.1h1.6v-2.1zM1019.4 1059.5v10.2h1.6v-10.2zM1022.4 1027.5v2.1h1.6v-2.1zM1022.4 1035.5v2.1h1.6v-2.1zM1022.4 1055.5v2.1h1.6v-2.1zM1022.4 1061.5v2.1h1.6v-2.1zM1023.9 1049.5v4.2h1.6v-4.2zM1023.9 1057.5v2.1h1.6v-2.1zM1023.9 1061.5v2.1h1.6v-2.1zM1035.9 1039.5v4.2h1.6v-4.2zM1035.9 1051.5v2.1h1.6v-2.1zM1035.9 1057.5v2.1h1.6v-2.1zM1037.4 993.5v2.1h1.6v-2.1zM1037.4 1005.5v2.1h1.6v-2.1zM1037.4 1009.5v2.1h1.6v-2.1zM1038.9 1069.5v4.7h1.6v-4.7zM1041.9 1057.5v2.1h1.6v-2.1zM1041.9 1061.5v2.1h1.6v-2.1zM1043.4 1074v2.6h1.6v-2.6zM1044.9 983.5v2.1h1.6v-2.1zM1044.9 991.5v2.1h1.6v-2.1zM1046.4 1033.5v2.1h1.6v-2.1zM1046.4 1061.5v8.2h1.6v-8.2zM1047.9 973.5v2.1h1.6v-2.1zM1047.9 1023.5v2.1h1.6v-2.1zM1047.9 1049.5v6.2h1.6v-6.2zM1047.9 1057.5v2.1h1.6v-2.1zM1049.4 1037.5v2.1h1.6v-2.1zM1049.4 1045.5v2.1h1.6v-2.1zM1049.4 1055.5v2.1h1.6v-2.1zM1050.9 975.5v2.1h1.6v-2.1zM1050.9 1017.5v2.1h1.6v-2.1zM1050.9 1029.5v2.1h1.6v-2.1zM1050.9 1037.5v2.1h1.6v-2.1zM1050.9 1053.5v2.1h1.6v-2.1zM1050.9 1059.5v2.1h1.6v-2.1zM1052.4 989.5v2.1h1.6v-2.1zM1052.4 1001.5v2.1h1.6v-2.1zM1052.4 1013.5v2.1h1.6v-2.1zM1052.4 1035.5v4.2h1.6v-4.2zM1053.9 1009.5v2.1h1.6v-2.1zM1053.9 1025.5v2.1h1.6v-2.1zM1053.9 1035.5v2.1h1.6v-2.1zM1053.9 1047.5v4.2h1.6v-4.2zM1053.9 1053.5v6.2h1.6v-6.2zM1055.4 1027.5v2.1h1.6v-2.1zM1055.4 1035.5v4.2h1.6v-4.2zM1055.4 1049.5v2.1h1.6v-2.1zM1055.4 1053.5v2.1h1.6v-2.1zM1055.4 1059.5v2.1h1.6v-2.1zM1056.9 989.5v2.1h1.6v-2.1zM1056.9 1013.5v2.1h1.6v-2.1zM1058.4 1067.5v4.2h1.6v-4.2zM1059.9 1037.5v2.1h1.6v-2.1zM1059.9 1047.5v2.1h1.6v-2.1zM1059.9 1051.5v2.1h1.6v-2.1zM1059.9 1055.5v2.1h1.6v-2.1zM1061.5 989.5v4.2h1.6v-4.2zM1063 1061.5v2.1h1.6v-2.1zM1063 1067.5v4.2h1.6v-4.2zM1064.5 1074v2.6h1.6v-2.6zM1066 995.5v4.2h1.6v-4.2zM1066 1013.5v2.1h1.6v-2.1zM1066 1039.5v2.1h1.6v-2.1zM1067.5 1035.5v2.1h1.6v-2.1zM1067.5 1041.5v2.1h1.6v-2.1zM1070.5 1035.5v2.1h1.6v-2.1zM1070.5 1053.5v6.2h1.6v-6.2zM1070.5 1063.5v4.2h1.6v-4.2zM1072 1071.5v2.6h1.6v-2.6zM1073.5 1069.5v2.1h1.6v-2.1zM1075 1071.5v2.6h1.6v-2.6zM1076.5 971.5v2.1h1.6v-2.1zM1076.5 983.5v2.1h1.6v-2.1zM1076.5 1005.5v2.1h1.6v-2.1zM1076.5 1015.5v2.1h1.6v-2.1zM1076.5 1025.5v2.1h1.6v-2.1zM1076.5 1029.5v2.1h1.6v-2.1zM1078 1039.5v2.1h1.6v-2.1zM1078 1045.5v2.1h1.6v-2.1zM1078 1051.5v2.1h1.6v-2.1zM1078 1055.5v4.2h1.6v-4.2zM1079.5 1005.5v2.1h1.6v-2.1zM1079.5 1025.5v2.1h1.6v-2.1zM1079.5 1063.5v4.2h1.6v-4.2zM1081 991.5v2.1h1.6v-2.1zM1081 1067.5v4.2h1.6v-4.2zM1084 971.5v4.2h1.6v-4.2zM1084 995.5v4.2h1.6v-4.2zM1084 1003.5v2.1h1.6v-2.1zM1084 1025.5v2.1h1.6v-2.1zM1085.5 1025.5v2.1h1.6v-2.1zM1085.5 1051.5v2.1h1.6v-2.1zM1085.5 1063.5v2.1h1.6v-2.1zM1087 1043.5v2.1h1.6v-2.1zM1087 1059.5v2.1h1.6v-2.1zM1091.5 983.5v2.1h1.6v-2.1zM1091.5 1001.5v2.1h1.6v-2.1zM1093 1069.5v4.7h1.6v-4.7zM1094.5 1045.5v2.1h1.6v-2.1zM1094.5 1055.5v2.1h1.6v-2.1zM1094.5 1059.5v4.2h1.6v-4.2zM1094.5 1065.5v2.1h1.6v-2.1zM1097.5 1005.5v2.1h1.6v-2.1zM1097.5 1037.5v2.1h1.6v-2.1zM1099 1071.5v2.6h1.6v-2.6zM1100.5 1076.5v6.7h1.6v-6.7zM1102 1079.5v3.6h1.6v-3.6zM1103.5 1074v2.6h1.6v-2.6zM1105 985.5v2.1h1.6v-2.1zM1105 999.5v2.1h1.6v-2.1zM1105 1019.5v2.1h1.6v-2.1zM1106.5 1074v2.6h1.6v-2.6zM1108 1067.5v2.1h1.6v-2.1zM1109.5 970.2v1.4h1.6v-1.4zM1109.5 977.5v2.1h1.6v-2.1zM1111 1079.5v3.6h1.6v-3.6zM1112.5 1074v2.6h1.6v-2.6zM1114 1011.5v2.1h1.6v-2.1zM1114 1043.5v2.1h1.6v-2.1zM1114 1051.5v2.1h1.6v-2.1zM1114 1055.5v2.1h1.6v-2.1zM1115.5 971.5v2.1h1.6v-2.1zM1115.5 977.5v2.1h1.6v-2.1zM1115.5 991.5v2.1h1.6v-2.1zM1115.5 999.5v2.1h1.6v-2.1zM1115.5 1013.5v2.1h1.6v-2.1zM1115.5 1021.5v2.1h1.6v-2.1zM1117 1067.5v4.2h1.6v-4.2zM1118.5 1076.5v3.1h1.6v-3.1zM1120.1 1025.5v2.1h1.6v-2.1zM1120.1 1029.5v2.1h1.6v-2.1zM1120.1 1049.5v2.1h1.6v-2.1zM1120.1 1059.5v2.1h1.6v-2.1zM1121.6 1037.5v2.1h1.6v-2.1zM1121.6 1045.5v2.1h1.6v-2.1zM1121.6 1053.5v4.2h1.6v-4.2zM1121.6 1061.5v2.1h1.6v-2.1zM1129.1 1087v34.5h1.6v-34.5zM1130.6 989.5v2.1h1.6v-2.1zM1130.6 1005.5v2.1h1.6v-2.1zM1130.6 1013.5v2.1h1.6v-2.1zM1138.1 1076.5v3.1h1.6v-3.1zM1139.6 1063.5v2.1h1.6v-2.1zM1139.6 1069.5v2.1h1.6v-2.1zM1141.1 1051.5v2.1h1.6v-2.1zM1141.1 1055.5v2.1h1.6v-2.1zM1141.1 1059.5v2.1h1.6v-2.1zM1141.1 1063.5v2.1h1.6v-2.1zM1142.6 1039.5v2.1h1.6v-2.1zM1142.6 1065.5v2.1h1.6v-2.1zM1144.1 1074v2.6h1.6v-2.6zM1145.6 999.5v2.1h1.6v-2.1zM1145.6 1055.5v2.1h1.6v-2.1zM1145.6 1059.5v6.2h1.6v-6.2zM1147.1 971.5v2.1h1.6v-2.1zM1147.1 995.5v4.2h1.6v-4.2zM1147.1 1013.5v2.1h1.6v-2.1zM1150.1 1076.5v3.1h1.6v-3.1zM1151.6 1047.5v2.1h1.6v-2.1zM1151.6 1061.5v4.2h1.6v-4.2zM1154.6 1076.5v3.1h1.6v-3.1zM1156.1 1025.5v2.1h1.6v-2.1zM1156.1 1041.5v2.1h1.6v-2.1zM1156.1 1059.5v2.1h1.6v-2.1zM1156.1 1063.5v2.1h1.6v-2.1zM1165.1 1108v13.5h1.6v-13.5zM1166.6 1079.5v3.6h1.6v-3.6z"/>
<path fill="rgb(184,255,71)" d="M1017.9 1061.5v6.2h1.6v-6.2zM1019.4 1069.5v2.1h1.6v-2.1zM1020.9 989.5v2.1h1.6v-2.1zM1020.9 1025.5v2.1h1.6v-2.1zM1022.4 1045.5v2.1h1.6v-2.1zM1022.4 1051.5v2.1h1.6v-2.1zM1022.4 1059.5v2.1h1.6v-2.1zM1022.4 1065.5v2.1h1.6v-2.1zM1023.9 1043.5v2.1h1.6v-2.1zM1023.9 1059.5v2.1h1.6v-2.1zM1023.9 1063.5v2.1h1.6v-2.1zM1034.4 1047.5v2.1h1.6v-2.1zM1034.4 1059.5v4.2h1.6v-4.2zM1035.9 1029.5v2.1h1.6v-2.1zM1035.9 1055.5v2.1h1.6v-2.1zM1035.9 1063.5v2.1h1.6v-2.1zM1037.4 971.5v2.1h1.6v-2.1zM1037.4 989.5v2.1h1.6v-2.1zM1037.4 1019.5v2.1h1.6v-2.1zM1037.4 1025.5v4.2h1.6v-4.2zM1038.9 1074v2.6h1.6v-2.6zM1041.9 1027.5v2.1h1.6v-2.1zM1041.9 1041.5v2.1h1.6v-2.1zM1041.9 1049.5v2.1h1.6v-2.1zM1041.9 1059.5v2.1h1.6v-2.1zM1041.9 1063.5v4.2h1.6v-4.2zM1043.4 1076.5v3.1h1.6v-3.1zM1044.9 971.5v2.1h1.6v-2.1zM1044.9 977.5v2.1h1.6v-2.1zM1044.9 1023.5v2.1h1.6v-2.1zM1046.4 1069.5v4.7h1.6v-4.7zM1047.9 1059.5v2.1h1.6v-2.1zM1047.9 1063.5v2.1h1.6v-2.1zM1049.4 1041.5v2.1h1.6v-2.1zM1049.4 1047.5v2.1h1.6v-2.1zM1049.4 1051.5v4.2h1.6v-4.2zM1049.4 1059.5v4.2h1.6v-4.2zM1050.9 1031.5v2.1h1.6v-2.1zM1050.9 1039.5v2.1h1.6v-2.1zM1050.9 1049.5v2.1h1.6v-2.1zM1050.9 1055.5v4.2h1.6v-4.2zM1052.4 977.5v2.1h1.6v-2.1zM1052.4 1011.5v2.1h1.6v-2.1zM1052.4 1033.5v2.1h1.6v-2.1zM1053.9 997.5v2.1h1.6v-2.1zM1053.9 1039.5v4.2h1.6v-4.2zM1053.9 1051.5v2.1h1.6v-2.1zM1053.9 1061.5v2.1h1.6v-2.1zM1055.4 1051.5v2.1h1.6v-2.1zM1055.4 1057.5v2.1h1.6v-2.1zM1056.9 987.5v2.1h1.6v-2.1zM1056.9 1023.5v2.1h1.6v-2.1zM1058.4 1071.5v2.6h1.6v-2.6zM1059.9 1043.5v2.1h1.6v-2.1zM1059.9 1057.5v2.1h1.6v-2.1zM1059.9 1061.5v4.2h1.6v-4.2zM1061.5 977.5v2.1h1.6v-2.1zM1061.5 981.5v2.1h1.6v-2.1zM1061.5 997.5v2.1h1.6v-2.1zM1061.5 1009.5v2.1h1.6v-2.1zM1063 1071.5v2.6h1.6v-2.6zM1064.5 1076.5v3.1h1.6v-3.1zM1066 987.5v2.1h1.6v-2.1zM1066 1023.5v2.1h1.6v-2.1zM1066 1035.5v2.1h1.6v-2.1zM1067.5 1043.5v2.1h1.6v-2.1zM1067.5 1047.5v2.1h1.6v-2.1zM1067.5 1051.5v8.2h1.6v-8.2zM1067.5 1061.5v2.1h1.6v-2.1zM1070.5 1033.5v2.1h1.6v-2.1zM1070.5 1061.5v2.1h1.6v-2.1zM1070.5 1067.5v2.1h1.6v-2.1zM1072 1074v2.6h1.6v-2.6zM1073.5 979.5v2.1h1.6v-2.1zM1073.5 1071.5v2.6h1.6v-2.6zM1075 1074v2.6h1.6v-2.6zM1076.5 977.5v2.1h1.6v-2.1zM1076.5 1013.5v2.1h1.6v-2.1zM1076.5 1027.5v2.1h1.6v-2.1zM1078 1041.5v4.2h1.6v-4.2zM1078 1053.5v2.1h1.6v-2.1zM1078 1059.5v6.2h1.6v-6.2zM1079.5 1067.5v6.7h1.6v-6.7zM1081 1071.5v2.6h1.6v-2.6zM1084 983.5v2.1h1.6v-2.1zM1084 1011.5v2.1h1.6v-2.1zM1084 1023.5v2.1h1.6v-2.1zM1085.5 1067.5v4.2h1.6v-4.2zM1087 1065.5v6.2h1.6v-6.2zM1088.5 1063.5v6.2h1.6v-6.2zM1094.5 1063.5v2.1h1.6v-2.1zM1094.5 1067.5v4.2h1.6v-4.2zM1097.5 1009.5v2.1h1.6v-2.1zM1097.5 1029.5v2.1h1.6v-2.1zM1099 1074v2.6h1.6v-2.6zM1100.5 1083v4.2h1.6v-4.2zM1102 1083v4.2h1.6v-4.2zM1103.5 1076.5v3.1h1.6v-3.1zM1105 1003.5v2.1h1.6v-2.1zM1105 1011.5v2.1h1.6v-2.1zM1105 1033.5v2.1h1.6v-2.1zM1106.5 1076.5v3.1h1.6v-3.1zM1108 1069.5v4.7h1.6v-4.7zM1109.5 979.5v2.1h1.6v-2.1zM1109.5 989.5v2.1h1.6v-2.1zM1109.5 1025.5v2.1h1.6v-2.1zM1111 1083v4.2h1.6v-4.2zM1112.5 1076.5v3.1h1.6v-3.1zM1114 1017.5v2.1h1.6v-2.1zM1114 1045.5v4.2h1.6v-4.2zM1114 1053.5v2.1h1.6v-2.1zM1114 1061.5v2.1h1.6v-2.1zM1115.5 1005.5v2.1h1.6v-2.1zM1115.5 1009.5v2.1h1.6v-2.1zM1117 1071.5v2.6h1.6v-2.6zM1118.5 1079.5v3.6h1.6v-3.6zM1120.1 1063.5v6.2h1.6v-6.2zM1121.6 1033.5v2.1h1.6v-2.1zM1121.6 1049.5v2.1h1.6v-2.1zM1121.6 1057.5v2.1h1.6v-2.1zM1121.6 1063.5v4.2h1.6v-4.2zM1130.6 971.5v2.1h1.6v-2.1zM1130.6 997.5v2.1h1.6v-2.1zM1130.6 1007.5v2.1h1.6v-2.1zM1130.6 1021.5v2.1h1.6v-2.1zM1138.1 1079.5v3.6h1.6v-3.6zM1139.6 1071.5v2.6h1.6v-2.6zM1141.1 1061.5v2.1h1.6v-2.1zM1141.1 1065.5v4.2h1.6v-4.2zM1142.6 1067.5v4.2h1.6v-4.2zM1144.1 1076.5v3.1h1.6v-3.1zM1145.6 1057.5v2.1h1.6v-2.1zM1145.6 1065.5v4.2h1.6v-4.2zM1147.1 985.5v2.1h1.6v-2.1zM1147.1 1017.5v2.1h1.6v-2.1zM1147.1 1033.5v2.1h1.6v-2.1zM1150.1 1079.5v3.6h1.6v-3.6zM1151.6 1059.5v2.1h1.6v-2.1zM1151.6 1065.5v6.2h1.6v-6.2zM1154.6 1079.5v3.6h1.6v-3.6zM1156.1 1029.5v2.1h1.6v-2.1zM1156.1 1055.5v2.1h1.6v-2.1zM1156.1 1065.5v6.2h1.6v-6.2zM1166.6 1083v4.2h1.6v-4.2z"/>
<path fill="rgb(222,255,33)" d="M1017.9 1067.5v2.1h1.6v-2.1zM1019.4 1071.5v2.6h1.6v-2.6zM1020.9 1003.5v2.1h1.6v-2.1zM1020.9 1033.5v2.1h1.6v-2.1zM1022.4 1063.5v2.1h1.6v-2.1zM1022.4 1067.5v4.2h1.6v-4.2zM1023.9 1065.5v4.2h1.6v-4.2zM1034.4 1025.5v2.1h1.6v-2.1zM1034.4 1055.5v4.2h1.6v-4.2zM1034.4 1063.5v2.1h1.6v-2.1zM1035.9 1009.5v2.1h1.6v-2.1zM1035.9 1059.5v4.2h1.6v-4.2zM1037.4 1013.5v2.1h1.6v-2.1zM1041.9 1067.5v2.1h1.6v-2.1zM1043.4 1079.5v3.6h1.6v-3.6zM1044.9 970.2v1.4h1.6v-1.4zM1044.9 979.5v2.1h1.6v-2.1zM1044.9 1021.5v2.1h1.6v-2.1zM1047.9 1061.5v2.1h1.6v-2.1zM1047.9 1065.5v4.2h1.6v-4.2zM1049.4 1023.5v2.1h1.6v-2.1zM1049.4 1065.5v2.1h1.6v-2.1zM1050.9 1043.5v2.1h1.6v-2.1zM1050.9 1061.5v4.2h1.6v-4.2zM1052.4 991.5v2.1h1.6v-2.1zM1052.4 1023.5v4.2h1.6v-4.2zM1053.9 1033.5v2.1h1.6v-2.1zM1053.9 1063.5v2.1h1.6v-2.1zM1055.4 1045.5v2.1h1.6v-2.1zM1055.4 1061.5v4.2h1.6v-4.2zM1056.9 971.5v2.1h1.6v-2.1zM1056.9 997.5v2.1h1.6v-2.1zM1056.9 1001.5v2.1h1.6v-2.1zM1056.9 1015.5v2.1h1.6v-2.1zM1056.9 1021.5v2.1h1.6v-2.1zM1056.9 1031.5v2.1h1.6v-2.1zM1058.4 1074v2.6h1.6v-2.6zM1059.9 1049.5v2.1h1.6v-2.1zM1059.9 1059.5v2.1h1.6v-2.1zM1059.9 1065.5v2.1h1.6v-2.1zM1061.5 999.5v2.1h1.6v-2.1zM1061.5 1011.5v2.1h1.6v-2.1zM1061.5 1023.5v2.1h1.6v-2.1zM1061.5 1027.5v6.2h1.6v-6.2zM1061.5 1041.5v2.1h1.6v-2.1zM1063 1074v2.6h1.6v-2.6zM1064.5 1079.5v3.6h1.6v-3.6zM1066 999.5v2.1h1.6v-2.1zM1066 1033.5v2.1h1.6v-2.1zM1067.5 1063.5v4.2h1.6v-4.2zM1070.5 1069.5v2.1h1.6v-2.1zM1072 1076.5v3.1h1.6v-3.1zM1073.5 1074v2.6h1.6v-2.6zM1075 1076.5v3.1h1.6v-3.1zM1076.5 973.5v2.1h1.6v-2.1zM1076.5 991.5v2.1h1.6v-2.1zM1076.5 995.5v4.2h1.6v-4.2zM1076.5 1031.5v2.1h1.6v-2.1zM1078 1065.5v4.2h1.6v-4.2zM1081 1074v2.6h1.6v-2.6zM1084 975.5v2.1h1.6v-2.1zM1084 991.5v2.1h1.6v-2.1zM1084 1027.5v4.2h1.6v-4.2zM1085.5 1071.5v2.6h1.6v-2.6zM1087 1071.5v2.6h1.6v-2.6zM1088.5 1027.5v2.1h1.6v-2.1zM1088.5 1069.5v4.7h1.6v-4.7zM1091.5 979.5v2.1h1.6v-2.1zM1091.5 1009.5v2.1h1.6v-2.1zM1091.5 1013.5v2.1h1.6v-2.1zM1091.5 1017.5v2.1h1.6v-2.1zM1093 1074v2.6h1.6v-2.6zM1094.5 1071.5v2.6h1.6v-2.6zM1097.5 975.5v4.2h1.6v-4.2zM1097.5 993.5v2.1h1.6v-2.1zM1097.5 997.5v6.2h1.6v-6.2zM1097.5 1007.5v2.1h1.6v-2.1zM1097.5 1015.5v4.2h1.6v-4.2zM1097.5 1039.5v4.2h1.6v-4.2zM1099 1076.5v3.1h1.6v-3.1zM1100.5 1087v5.2h1.6v-5.2zM1102 1087v34.5h1.6v-34.5zM1103.5 1079.5v3.6h1.6v-3.6zM1105 987.5v2.1h1.6v-2.1zM1105 997.5v2.1h1.6v-2.1zM1105 1041.5v2.1h1.6v-2.1zM1106.5 1079.5v3.6h1.6v-3.6zM1108 1074v2.6h1.6v-2.6zM1109.5 971.5v2.1h1.6v-2.1zM1109.5 1011.5v2.1h1.6v-2.1zM1109.5 1017.5v4.2h1.6v-4.2zM1109.5 1033.5v2.1h1.6v-2.1zM1109.5 1041.5v2.1h1.6v-2.1zM1111 1087v34.5h1.6v-34.5zM1112.5 1079.5v3.6h1.6v-3.6zM1114 1059.5v2.1h1.6v-2.1zM1114 1063.5v2.1h1.6v-2.1zM1115.5 1023.5v2.1h1.6v-2.1zM1115.5 1043.5v2.1h1.6v-2.1zM1117 1074v2.6h1.6v-2.6zM1118.5 1083v4.2h1.6v-4.2zM1120.1 1069.5v2.1h1.6v-2.1zM1121.6 1067.5v4.2h1.6v-4.2zM1130.6 977.5v2.1h1.6v-2.1zM1130.6 987.5v2.1h1.6v-2.1zM1130.6 993.5v2.1h1.6v-2.1zM1130.6 1017.5v2.1h1.6v-2.1zM1130.6 1035.5v2.1h1.6v-2.1zM1138.1 1083v4.2h1.6v-4.2zM1139.6 1074v2.6h1.6v-2.6zM1141.1 1069.5v4.7h1.6v-4.7zM1142.6 1071.5v2.6h1.6v-2.6zM1144.1 1079.5v3.6h1.6v-3.6zM1145.6 1035.5v2.1h1.6v-2.1zM1145.6 1069.5v4.7h1.6v-4.7zM1147.1 973.5v2.1h1.6v-2.1zM1147.1 1003.5v2.1h1.6v-2.1zM1147.1 1007.5v2.1h1.6v-2.1zM1147.1 1027.5v2.1h1.6v-2.1zM1147.1 1039.5v2.1h1.6v-2.1zM1147.1 1043.5v2.1h1.6v-2.1zM1150.1 1083v4.2h1.6v-4.2zM1151.6 1071.5v2.6h1.6v-2.6zM1154.6 1083v4.2h1.6v-4.2zM1156.1 1071.5v2.6h1.6v-2.6zM1166.6 1087v21.1h1.6v-21.1z"/>
<path fill="rgb(255,250,0)" d="M1017.9 1069.5v4.7h1.6v-4.7zM1019.4 1074v2.6h1.6v-2.6zM1020.9 977.5v2.1h1.6v-2.1zM1020.9 987.5v2.1h1.6v-2.1zM1020.9 1045.5v2.1h1.6v-2.1zM1022.4 1071.5v2.6h1.6v-2.6zM1023.9 1069.5v4.7h1.6v-4.7zM1034.4 1065.5v4.2h1.6v-4.2zM1035.9 1065.5v6.2h1.6v-6.2zM1037.4 987.5v2.1h1.6v-2.1zM1037.4 995.5v2.1h1.6v-2.1zM1037.4 1007.5v2.1h1.6v-2.1zM1037.4 1023.5v2.1h1.6v-2.1zM1037.4 1035.5v2.1h1.6v-2.1zM1037.4 1041.5v2.1h1.6v-2.1zM1038.9 1076.5v3.1h1.6v-3.1zM1041.9 1069.5v4.7h1.6v-4.7zM1043.4 1083v4.2h1.6v-4.2zM1044.9 985.5v2.1h1.6v-2.1zM1044.9 993.5v2.1h1.6v-2.1zM1044.9 1027.5v2.1h1.6v-2.1zM1046.4 1074v2.6h1.6v-2.6zM1047.9 1069.5v2.1h1.6v-2.1zM1049.4 1063.5v2.1h1.6v-2.1zM1049.4 1067.5v4.2h1.6v-4.2zM1050.9 1065.5v6.2h1.6v-6.2zM1052.4 987.5v2.1h1.6v-2.1zM1052.4 997.5v4.2h1.6v-4.2zM1052.4 1007.5v4.2h1.6v-4.2zM1052.4 1027.5v2.1h1.6v-2.1zM1053.9 1065.5v4.2h1.6v-4.2zM1055.4 1065.5v4.2h1.6v-4.2zM1056.9 995.5v2.1h1.6v-2.1zM1056.9 1029.5v2.1h1.6v-2.1zM1058.4 1076.5v3.1h1.6v-3.1zM1059.9 997.5v2.1h1.6v-2.1zM1059.9 1067.5v4.2h1.6v-4.2zM1061.5 973.5v2.1h1.6v-2.1zM1061.5 1007.5v2.1h1.6v-2.1zM1061.5 1015.5v2.1h1.6v-2.1zM1061.5 1019.5v4.2h1.6v-4.2zM1061.5 1035.5v2.1h1.6v-2.1zM1063 1076.5v3.1h1.6v-3.1zM1064.5 1083v4.2h1.6v-4.2zM1066 1009.5v2.1h1.6v-2.1zM1066 1015.5v2.1h1.6v-2.1zM1066 1027.5v4.2h1.6v-4.2zM1066 1041.5v2.1h1.6v-2.1zM1067.5 1067.5v4.2h1.6v-4.2zM1070.5 1071.5v2.6h1.6v-2.6zM1072 1079.5v3.6h1.6v-3.6zM1073.5 1076.5v3.1h1.6v-3.1zM1075 1079.5v3.6h1.6v-3.6zM1076.5 979.5v2.1h1.6v-2.1zM1076.5 993.5v2.1h1.6v-2.1zM1076.5 1011.5v2.1h1.6v-2.1zM1076.5 1019.5v2.1h1.6v-2.1zM1078 1069.5v2.1h1.6v-2.1zM1079.5 1074v2.6h1.6v-2.6zM1081 1076.5v3.1h1.6v-3.1zM1084 1013.5v2.1h1.6v-2.1zM1084 1035.5v4.2h1.6v-4.2zM1085.5 1074v2.6h1.6v-2.6zM1087 1074v2.6h1.6v-2.6zM1091.5 970.2v1.4h1.6v-1.4zM1091.5 989.5v8.2h1.6v-8.2zM1091.5 999.5v2.1h1.6v-2.1zM1091.5 1011.5v2.1h1.6v-2.1zM1091.5 1021.5v2.1h1.6v-2.1zM1091.5 1025.5v2.1h1.6v-2.1zM1091.5 1035.5v4.2h1.6v-4.2zM1091.5 1043.5v2.1h1.6v-2.1zM1093 1076.5v3.1h1.6v-3.1zM1094.5 1013.5v2.1h1.6v-2.1zM1097.5 971.5v4.2h1.6v-4.2zM1097.5 991.5v2.1h1.6v-2.1zM1097.5 995.5v2.1h1.6v-2.1zM1097.5 1011.5v2.1h1.6v-2.1zM1097.5 1021.5v2.1h1.6v-2.1zM1097.5 1031.5v2.1h1.6v-2.1zM1099 1079.5v3.6h1.6v-3.6zM1100.5 1092v29.5h1.6v-29.5zM1103.5 1083v4.2h1.6v-4.2zM1105 971.5v2.1h1.6v-2.1zM1105 1007.5v2.1h1.6v-2.1zM1105 1027.5v2.1h1.6v-2.1zM1105 1031.5v2.1h1.6v-2.1zM1105 1035.5v2.1h1.6v-2.1zM1106.5 1083v4.2h1.6v-4.2zM1109.5 975.5v2.1h1.6v-2.1zM1109.5 1001.5v2.1h1.6v-2.1zM1109.5 1007.5v2.1h1.6v-2.1zM1109.5 1035.5v4.2h1.6v-4.2zM1112.5 1083v4.2h1.6v-4.2zM1114 1065.5v6.2h1.6v-6.2zM1115.5 979.5v2.1h1.6v-2.1zM1115.5 995.5v2.1h1.6v-2.1zM1115.5 1007.5v2.1h1.6v-2.1zM1115.5 1033.5v2.1h1.6v-2.1zM1115.5 1037.5v4.2h1.6v-4.2zM1117 1076.5v3.1h1.6v-3.1zM1118.5 1087v21.1h1.6v-21.1zM1120.1 1071.5v2.6h1.6v-2.6zM1121.6 1071.5v2.6h1.6v-2.6zM1130.6 983.5v2.1h1.6v-2.1zM1130.6 1019.5v2.1h1.6v-2.1zM1130.6 1027.5v2.1h1.6v-2.1zM1139.6 1076.5v3.1h1.6v-3.1zM1142.6 1074v2.6h1.6v-2.6zM1144.1 1083v4.2h1.6v-4.2zM1147.1 975.5v2.1h1.6v-2.1zM1147.1 983.5v2.1h1.6v-2.1zM1147.1 1009.5v2.1h1.6v-2.1zM1147.1 1023.5v4.2h1.6v-4.2zM1147.1 1029.5v4.2h1.6v-4.2zM1147.1 1037.5v2.1h1.6v-2.1zM1150.1 1087v34.5h1.6v-34.5zM1151.6 1074v2.6h1.6v-2.6zM1154.6 1087v34.5h1.6v-34.5zM1156.1 1074v2.6h1.6v-2.6zM1166.6 1108v13.5h1.6v-13.5z"/>
<path fill="rgb(255,213,0)" d="M1017.9 1074v2.6h1.6v-2.6zM1019.4 1076.5v3.1h1.6v-3.1zM1020.9 973.5v2.1h1.6v-2.1zM1020.9 985.5v2.1h1.6v-2.1zM1020.9 1017.5v2.1h1.6v-2.1zM1020.9 1023.5v2.1h1.6v-2.1zM1020.9 1041.5v2.1h1.6v-2.1zM1034.4 1069.5v4.7h1.6v-4.7zM1035.9 1071.5v2.6h1.6v-2.6zM1037.4 999.5v2.1h1.6v-2.1zM1037.4 1003.5v2.1h1.6v-2.1zM1037.4 1015.5v2.1h1.6v-2.1zM1037.4 1045.5v2.1h1.6v-2.1zM1037.4 1055.5v2.1h1.6v-2.1zM1038.9 1079.5v3.6h1.6v-3.6zM1041.9 1074v2.6h1.6v-2.6zM1044.9 981.5v2.1h1.6v-2.1zM1044.9 987.5v2.1h1.6v-2.1zM1044.9 1009.5v2.1h1.6v-2.1zM1044.9 1013.5v2.1h1.6v-2.1zM1044.9 1037.5v2.1h1.6v-2.1zM1044.9 1051.5v2.1h1.6v-2.1zM1044.9 1057.5v2.1h1.6v-2.1zM1046.4 1076.5v3.1h1.6v-3.1zM1047.9 1071.5v2.6h1.6v-2.6zM1049.4 1007.5v2.1h1.6v-2.1zM1049.4 1071.5v2.6h1.6v-2.6zM1050.9 1071.5v2.6h1.6v-2.6zM1052.4 1017.5v2.1h1.6v-2.1zM1052.4 1045.5v2.1h1.6v-2.1zM1053.9 1069.5v4.7h1.6v-4.7zM1055.4 1069.5v4.7h1.6v-4.7zM1056.9 977.5v2.1h1.6v-2.1zM1056.9 993.5v2.1h1.6v-2.1zM1056.9 999.5v2.1h1.6v-2.1zM1056.9 1003.5v2.1h1.6v-2.1zM1056.9 1017.5v4.2h1.6v-4.2zM1056.9 1033.5v4.2h1.6v-4.2zM1056.9 1045.5v4.2h1.6v-4.2zM1058.4 1079.5v3.6h1.6v-3.6zM1059.9 1071.5v2.6h1.6v-2.6zM1061.5 1013.5v2.1h1.6v-2.1zM1061.5 1033.5v2.1h1.6v-2.1zM1061.5 1039.5v2.1h1.6v-2.1zM1063 1079.5v3.6h1.6v-3.6zM1064.5 1087v5.2h1.6v-5.2zM1066 1025.5v2.1h1.6v-2.1zM1066 1055.5v2.1h1.6v-2.1zM1067.5 1071.5v2.6h1.6v-2.6zM1070.5 1074v2.6h1.6v-2.6zM1072 1083v4.2h1.6v-4.2zM1073.5 1079.5v3.6h1.6v-3.6zM1076.5 1021.5v2.1h1.6v-2.1zM1076.5 1035.5v4.2h1.6v-4.2zM1076.5 1043.5v4.2h1.6v-4.2zM1076.5 1053.5v2.1h1.6v-2.1zM1078 1071.5v2.6h1.6v-2.6zM1079.5 1076.5v3.1h1.6v-3.1zM1081 1079.5v3.6h1.6v-3.6zM1084 989.5v2.1h1.6v-2.1zM1084 1005.5v4.2h1.6v-4.2zM1084 1039.5v2.1h1.6v-2.1zM1084 1045.5v2.1h1.6v-2.1zM1084 1051.5v2.1h1.6v-2.1zM1085.5 1076.5v3.1h1.6v-3.1zM1088.5 1074v2.6h1.6v-2.6zM1091.5 985.5v4.2h1.6v-4.2zM1091.5 1015.5v2.1h1.6v-2.1zM1091.5 1029.5v6.2h1.6v-6.2zM1093 1079.5v3.6h1.6v-3.6zM1094.5 1074v2.6h1.6v-2.6zM1097.5 983.5v2.1h1.6v-2.1zM1097.5 1023.5v6.2h1.6v-6.2zM1097.5 1047.5v2.1h1.6v-2.1zM1097.5 1053.5v4.2h1.6v-4.2zM1099 1083v4.2h1.6v-4.2zM1105 1013.5v2.1h1.6v-2.1zM1105 1029.5v2.1h1.6v-2.1zM1105 1045.5v6.2h1.6v-6.2zM1106.5 1087v5.2h1.6v-5.2zM1108 1076.5v3.1h1.6v-3.1zM1109.5 999.5v2.1h1.6v-2.1zM1109.5 1009.5v2.1h1.6v-2.1zM1109.5 1015.5v2.1h1.6v-2.1zM1109.5 1029.5v2.1h1.6v-2.1zM1109.5 1039.5v2.1h1.6v-2.1zM1109.5 1047.5v2.1h1.6v-2.1zM1109.5 1051.5v2.1h1.6v-2.1zM1112.5 1087v5.2h1.6v-5.2zM1114 1071.5v2.6h1.6v-2.6zM1115.5 1019.5v2.1h1.6v-2.1zM1115.5 1025.5v4.2h1.6v-4.2zM1115.5 1031.5v2.1h1.6v-2.1zM1115.5 1041.5v2.1h1.6v-2.1zM1115.5 1045.5v4.2h1.6v-4.2zM1117 1079.5v3.6h1.6v-3.6zM1118.5 1108v13.5h1.6v-13.5zM1120.1 1074v2.6h1.6v-2.6zM1121.6 1074v2.6h1.6v-2.6zM1130.6 1011.5v2.1h1.6v-2.1zM1130.6 1047.5v2.1h1.6v-2.1zM1130.6 1051.5v2.1h1.6v-2.1zM1138.1 1087v34.5h1.6v-34.5zM1139.6 1079.5v3.6h1.6v-3.6zM1141.1 1074v2.6h1.6v-2.6zM1142.6 1076.5v3.1h1.6v-3.1zM1144.1 1087v21.1h1.6v-21.1zM1145.6 1074v2.6h1.6v-2.6zM1147.1 1001.5v2.1h1.6v-2.1zM1147.1 1005.5v2.1h1.6v-2.1zM1147.1 1015.5v2.1h1.6v-2.1zM1147.1 1045.5v2.1h1.6v-2.1zM1147.1 1057.5v4.2h1.6v-4.2z"/>
<path fill="rgb(255,175,0)" d="M1019.4 1079.5v3.6h1.6v-3.6zM1020.9 975.5v2.1h1.6v-2.1zM1020.9 981.5v2.1h1.6v-2.1zM1020.9 1005.5v2.1h1.6v-2.1zM1020.9 1011.5v4.2h1.6v-4.2zM1020.9 1039.5v2.1h1.6v-2.1zM1020.9 1043.5v2.1h1.6v-2.1zM1020.9 1047.5v6.2h1.6v-6.2zM1022.4 1074v2.6h1.6v-2.6zM1023.9 1074v2.6h1.6v-2.6zM1037.4 991.5v2.1h1.6v-2.1zM1037.4 1001.5v2.1h1.6v-2.1zM1037.4 1037.5v2.1h1.6v-2.1zM1037.4 1043.5v2.1h1.6v-2.1zM1037.4 1049.5v6.2h1.6v-6.2zM1037.4 1057.5v4.2h1.6v-4.2zM1038.9 1083v4.2h1.6v-4.2zM1043.4 1087v34.5h1.6v-34.5zM1044.9 1007.5v2.1h1.6v-2.1zM1044.9 1025.5v2.1h1.6v-2.1zM1044.9 1029.5v2.1h1.6v-2.1zM1044.9 1033.5v2.1h1.6v-2.1zM1044.9 1039.5v4.2h1.6v-4.2zM1044.9 1049.5v2.1h1.6v-2.1zM1044.9 1055.5v2.1h1.6v-2.1zM1046.4 1079.5v3.6h1.6v-3.6zM1047.9 1074v2.6h1.6v-2.6zM1050.9 1074v2.6h1.6v-2.6zM1052.4 973.5v2.1h1.6v-2.1zM1052.4 995.5v2.1h1.6v-2.1zM1052.4 1029.5v2.1h1.6v-2.1zM1052.4 1047.5v2.1h1.6v-2.1zM1052.4 1051.5v2.1h1.6v-2.1zM1056.9 970.2v1.4h1.6v-1.4zM1056.9 1011.5v2.1h1.6v-2.1zM1056.9 1027.5v2.1h1.6v-2.1zM1056.9 1041.5v2.1h1.6v-2.1zM1056.9 1049.5v2.1h1.6v-2.1zM1056.9 1057.5v2.1h1.6v-2.1zM1058.4 1083v4.2h1.6v-4.2zM1061.5 987.5v2.1h1.6v-2.1zM1061.5 1025.5v2.1h1.6v-2.1zM1061.5 1047.5v2.1h1.6v-2.1zM1061.5 1053.5v2.1h1.6v-2.1zM1064.5 1092v29.5h1.6v-29.5zM1066 971.5v2.1h1.6v-2.1zM1066 977.5v2.1h1.6v-2.1zM1066 1005.5v2.1h1.6v-2.1zM1066 1037.5v2.1h1.6v-2.1zM1066 1053.5v2.1h1.6v-2.1zM1066 1057.5v2.1h1.6v-2.1zM1070.5 1076.5v3.1h1.6v-3.1zM1073.5 1083v4.2h1.6v-4.2zM1075 1083v4.2h1.6v-4.2zM1076.5 1047.5v4.2h1.6v-4.2zM1076.5 1055.5v4.2h1.6v-4.2zM1079.5 1079.5v3.6h1.6v-3.6zM1081 1083v4.2h1.6v-4.2zM1084 985.5v2.1h1.6v-2.1zM1084 999.5v2.1h1.6v-2.1zM1084 1041.5v2.1h1.6v-2.1zM1084 1053.5v6.2h1.6v-6.2zM1085.5 1079.5v3.6h1.6v-3.6zM1087 1076.5v3.1h1.6v-3.1zM1088.5 1076.5v3.1h1.6v-3.1zM1091.5 1023.5v2.1h1.6v-2.1zM1091.5 1027.5v2.1h1.6v-2.1zM1091.5 1039.5v4.2h1.6v-4.2zM1091.5 1051.5v2.1h1.6v-2.1zM1091.5 1057.5v2.1h1.6v-2.1zM1093 1083v4.2h1.6v-4.2zM1094.5 1076.5v3.1h1.6v-3.1zM1097.5 1013.5v2.1h1.6v-2.1zM1097.5 1035.5v2.1h1.6v-2.1zM1097.5 1045.5v2.1h1.6v-2.1zM1097.5 1063.5v2.1h1.6v-2.1zM1099 1087v10.7h1.6v-10.7zM1103.5 1087v34.5h1.6v-34.5zM1105 1015.5v2.1h1.6v-2.1zM1105 1025.5v2.1h1.6v-2.1zM1105 1043.5v2.1h1.6v-2.1zM1105 1051.5v2.1h1.6v-2.1zM1105 1055.5v2.1h1.6v-2.1zM1106.5 1092v29.5h1.6v-29.5zM1108 1079.5v3.6h1.6v-3.6zM1109.5 1031.5v2.1h1.6v-2.1zM1109.5 1049.5v2.1h1.6v-2.1zM1109.5 1053.5v4.2h1.6v-4.2zM1112.5 1092v29.5h1.6v-29.5zM1115.5 1011.5v2.1h1.6v-2.1zM1115.5 1017.5v2.1h1.6v-2.1zM1115.5 1049.5v2.1h1.6v-2.1zM1115.5 1059.5v4.2h1.6v-4.2zM1117 1083v4.2h1.6v-4.2zM1120.1 1076.5v3.1h1.6v-3.1zM1130.6 973.5v2.1h1.6v-2.1zM1130.6 1023.5v2.1h1.6v-2.1zM1130.6 1029.5v6.2h1.6v-6.2zM1130.6 1037.5v2.1h1.6v-2.1zM1130.6 1043.5v2.1h1.6v-2.1zM1130.6 1053.5v6.2h1.6v-6.2zM1139.6 1083v4.2h1.6v-4.2zM1141.1 1076.5v3.1h1.6v-3.1zM1142.6 1079.5v3.6h1.6v-3.6zM1144.1 1108v13.5h1.6v-13.5zM1145.6 1076.5v3.1h1.6v-3.1zM1147.1 1019.5v2.1h1.6v-2.1zM1147.1 1035.5v2.1h1.6v-2.1zM1147.1 1047.5v6.2h1.6v-6.2zM1151.6 1076.5v3.1h1.6v-3.1zM1156.1 1076.5v3.1h1.6v-3.1z"/>
<path fill="rgb(255,137,0)" d="M1017.9 1076.5v3.1h1.6v-3.1zM1019.4 1083v4.2h1.6v-4.2zM1020.9 1007.5v4.2h1.6v-4.2zM1020.9 1019.5v4.2h1.6v-4.2zM1020.9 1037.5v2.1h1.6v-2.1zM1020.9 1053.5v6.2h1.6v-6.2zM1020.9 1061.5v2.1h1.6v-2.1zM1020.9 1065.5v2.1h1.6v-2.1zM1022.4 1076.5v3.1h1.6v-3.1zM1023.9 1076.5v3.1h1.6v-3.1zM1034.4 1074v2.6h1.6v-2.6zM1035.9 1074v2.6h1.6v-2.6zM1037.4 977.5v2.1h1.6v-2.1zM1037.4 1031.5v4.2h1.6v-4.2zM1037.4 1047.5v2.1h1.6v-2.1zM1037.4 1061.5v6.2h1.6v-6.2zM1038.9 1087v10.7h1.6v-10.7zM1041.9 1076.5v3.1h1.6v-3.1zM1044.9 1043.5v6.2h1.6v-6.2zM1044.9 1061.5v2.1h1.6v-2.1zM1044.9 1065.5v2.1h1.6v-2.1zM1046.4 1083v4.2h1.6v-4.2zM1049.4 1074v2.6h1.6v-2.6zM1052.4 971.5v2.1h1.6v-2.1zM1052.4 1005.5v2.1h1.6v-2.1zM1052.4 1031.5v2.1h1.6v-2.1zM1052.4 1039.5v6.2h1.6v-6.2zM1052.4 1049.5v2.1h1.6v-2.1zM1052.4 1053.5v2.1h1.6v-2.1zM1052.4 1057.5v2.1h1.6v-2.1zM1052.4 1063.5v2.1h1.6v-2.1zM1053.9 1074v2.6h1.6v-2.6zM1055.4 1074v2.6h1.6v-2.6zM1056.9 1039.5v2.1h1.6v-2.1zM1056.9 1051.5v4.2h1.6v-4.2zM1056.9 1059.5v8.2h1.6v-8.2zM1059.9 1074v2.6h1.6v-2.6zM1061.5 983.5v2.1h1.6v-2.1zM1061.5 1037.5v2.1h1.6v-2.1zM1061.5 1043.5v4.2h1.6v-4.2zM1061.5 1049.5v4.2h1.6v-4.2zM1061.5 1059.5v6.2h1.6v-6.2zM1063 1083v4.2h1.6v-4.2zM1066 1031.5v2.1h1.6v-2.1zM1066 1043.5v4.2h1.6v-4.2zM1066 1049.5v4.2h1.6v-4.2zM1066 1059.5v10.2h1.6v-10.2zM1067.5 1074v2.6h1.6v-2.6zM1072 1087v34.5h1.6v-34.5zM1075 1087v21.1h1.6v-21.1zM1076.5 999.5v2.1h1.6v-2.1zM1076.5 1039.5v2.1h1.6v-2.1zM1076.5 1065.5v2.1h1.6v-2.1zM1078 1074v2.6h1.6v-2.6zM1079.5 1083v4.2h1.6v-4.2zM1084 1015.5v8.2h1.6v-8.2zM1084 1043.5v2.1h1.6v-2.1zM1084 1047.5v4.2h1.6v-4.2zM1084 1059.5v2.1h1.6v-2.1zM1084 1063.5v2.1h1.6v-2.1zM1087 1079.5v3.6h1.6v-3.6zM1088.5 1079.5v3.6h1.6v-3.6zM1091.5 1047.5v4.2h1.6v-4.2zM1091.5 1053.5v4.2h1.6v-4.2zM1091.5 1059.5v4.2h1.6v-4.2zM1091.5 1067.5v2.1h1.6v-2.1zM1093 1087v5.2h1.6v-5.2zM1094.5 1079.5v3.6h1.6v-3.6zM1097.5 1019.5v2.1h1.6v-2.1zM1097.5 1049.5v4.2h1.6v-4.2zM1097.5 1059.5v4.2h1.6v-4.2zM1099 1097.5v24h1.6v-24zM1105 977.5v2.1h1.6v-2.1zM1105 1039.5v2.1h1.6v-2.1zM1105 1057.5v10.2h1.6v-10.2zM1108 1083v4.2h1.6v-4.2zM1109.5 1043.5v4.2h1.6v-4.2zM1109.5 1057.5v2.1h1.6v-2.1zM1109.5 1061.5v4.2h1.6v-4.2zM1109.5 1067.5v2.1h1.6v-2.1zM1114 1074v2.6h1.6v-2.6zM1115.5 983.5v2.1h1.6v-2.1zM1115.5 1029.5v2.1h1.6v-2.1zM1115.5 1051.5v2.1h1.6v-2.1zM1115.5 1055.5v2.1h1.6v-2.1zM1115.5 1063.5v4.2h1.6v-4.2zM1121.6 1076.5v3.1h1.6v-3.1zM1130.6 999.5v2.1h1.6v-2.1zM1130.6 1039.5v4.2h1.6v-4.2zM1130.6 1045.5v2.1h1.6v-2.1zM1130.6 1049.5v2.1h1.6v-2.1zM1130.6 1059.5v2.1h1.6v-2.1zM1130.6 1067.5v2.1h1.6v-2.1zM1141.1 1079.5v3.6h1.6v-3.6zM1142.6 1083v4.2h1.6v-4.2zM1145.6 1079.5v3.6h1.6v-3.6zM1147.1 1041.5v2.1h1.6v-2.1zM1147.1 1053.5v4.2h1.6v-4.2zM1147.1 1061.5v4.2h1.6v-4.2zM1151.6 1079.5v3.6h1.6v-3.6zM1156.1 1079.5v3.6h1.6v-3.6z"/>
<path fill="rgb(255,99,0)" d="M1017.9 1079.5v3.6h1.6v-3.6zM1020.9 1015.5v2.1h1.6v-2.1zM1020.9 1035.5v2.1h1.6v-2.1zM1020.9 1059.5v2.1h1.6v-2.1zM1020.9 1063.5v2.1h1.6v-2.1zM1020.9 1067.5v9.2h1.6v-9.2zM1022.4 1079.5v3.6h1.6v-3.6zM1023.9 1079.5v3.6h1.6v-3.6zM1034.4 1076.5v3.1h1.6v-3.1zM1035.9 1076.5v3.1h1.6v-3.1zM1037.4 1017.5v2.1h1.6v-2.1zM1037.4 1029.5v2.1h1.6v-2.1zM1037.4 1067.5v9.2h1.6v-9.2zM1038.9 1097.5v24h1.6v-24zM1041.9 1079.5v3.6h1.6v-3.6zM1044.9 1017.5v2.1h1.6v-2.1zM1044.9 1053.5v2.1h1.6v-2.1zM1044.9 1059.5v2.1h1.6v-2.1zM1044.9 1063.5v2.1h1.6v-2.1zM1044.9 1067.5v9.2h1.6v-9.2zM1047.9 1076.5v3.1h1.6v-3.1zM1049.4 1076.5v3.1h1.6v-3.1zM1050.9 1076.5v3.1h1.6v-3.1zM1052.4 983.5v2.1h1.6v-2.1zM1052.4 1055.5v2.1h1.6v-2.1zM1052.4 1059.5v4.2h1.6v-4.2zM1052.4 1065.5v11.2h1.6v-11.2zM1053.9 1076.5v3.1h1.6v-3.1zM1055.4 1076.5v3.1h1.6v-3.1zM1056.9 1025.5v2.1h1.6v-2.1zM1056.9 1037.5v2.1h1.6v-2.1zM1056.9 1043.5v2.1h1.6v-2.1zM1056.9 1067.5v9.2h1.6v-9.2zM1058.4 1087v21.1h1.6v-21.1zM1059.9 1076.5v3.1h1.6v-3.1zM1061.5 1055.5v4.2h1.6v-4.2zM1061.5 1065.5v11.2h1.6v-11.2zM1063 1087v21.1h1.6v-21.1zM1066 1001.5v2.1h1.6v-2.1zM1066 1019.5v2.1h1.6v-2.1zM1066 1047.5v2.1h1.6v-2.1zM1066 1069.5v7.2h1.6v-7.2zM1067.5 1076.5v3.1h1.6v-3.1zM1070.5 1079.5v3.6h1.6v-3.6zM1073.5 1087v21.1h1.6v-21.1zM1075 1108v13.5h1.6v-13.5zM1076.5 1033.5v2.1h1.6v-2.1zM1076.5 1059.5v6.2h1.6v-6.2zM1076.5 1067.5v9.2h1.6v-9.2zM1078 1076.5v3.1h1.6v-3.1zM1081 1087v21.1h1.6v-21.1zM1084 1001.5v2.1h1.6v-2.1zM1084 1061.5v2.1h1.6v-2.1zM1084 1065.5v11.2h1.6v-11.2zM1085.5 1083v4.2h1.6v-4.2zM1087 1083v4.2h1.6v-4.2zM1091.5 1045.5v2.1h1.6v-2.1zM1091.5 1063.5v4.2h1.6v-4.2zM1091.5 1069.5v7.2h1.6v-7.2zM1093 1092v29.5h1.6v-29.5zM1094.5 1083v4.2h1.6v-4.2zM1097.5 1033.5v2.1h1.6v-2.1zM1097.5 1057.5v2.1h1.6v-2.1zM1097.5 1065.5v11.2h1.6v-11.2zM1105 1005.5v2.1h1.6v-2.1zM1105 1009.5v2.1h1.6v-2.1zM1105 1021.5v2.1h1.6v-2.1zM1105 1037.5v2.1h1.6v-2.1zM1105 1053.5v2.1h1.6v-2.1zM1105 1067.5v9.2h1.6v-9.2zM1108 1087v10.7h1.6v-10.7zM1109.5 1059.5v2.1h1.6v-2.1zM1109.5 1065.5v2.1h1.6v-2.1zM1109.5 1069.5v7.2h1.6v-7.2zM1114 1076.5v3.1h1.6v-3.1zM1115.5 1053.5v2.1h1.6v-2.1zM1115.5 1057.5v2.1h1.6v-2.1zM1115.5 1067.5v9.2h1.6v-9.2zM1117 1087v21.1h1.6v-21.1zM1120.1 1079.5v3.6h1.6v-3.6zM1121.6 1079.5v3.6h1.6v-3.6zM1130.6 975.5v2.1h1.6v-2.1zM1130.6 1061.5v6.2h1.6v-6.2zM1130.6 1069.5v7.2h1.6v-7.2zM1139.6 1087v21.1h1.6v-21.1zM1147.1 1065.5v11.2h1.6v-11.2zM1151.6 1083v4.2h1.6v-4.2zM1156.1 1083v4.2h1.6v-4.2z"/>
<path fill="rgb(255,61,0)" d="M1017.9 1083v4.2h1.6v-4.2zM1019.4 1087v21.1h1.6v-21.1zM1020.9 1031.5v2.1h1.6v-2.1zM1020.9 1076.5v15.7h1.6v-15.7zM1037.4 1076.5v15.7h1.6v-15.7zM1041.9 1083v4.2h1.6v-4.2zM1044.9 1076.5v15.7h1.6v-15.7zM1046.4 1087v21.1h1.6v-21.1zM1047.9 1079.5v3.6h1.6v-3.6zM1050.9 1079.5v3.6h1.6v-3.6zM1052.4 1015.5v2.1h1.6v-2.1zM1052.4 1076.5v15.7h1.6v-15.7zM1056.9 1055.5v2.1h1.6v-2.1zM1056.9 1076.5v15.7h1.6v-15.7zM1058.4 1108v13.5h1.6v-13.5zM1061.5 1076.5v15.7h1.6v-15.7zM1063 1108v13.5h1.6v-13.5zM1066 1017.5v2.1h1.6v-2.1zM1066 1076.5v15.7h1.6v-15.7zM1070.5 1083v4.2h1.6v-4.2zM1073.5 1108v13.5h1.6v-13.5zM1076.5 1076.5v15.7h1.6v-15.7zM1079.5 1087v21.1h1.6v-21.1zM1081 1108v13.5h1.6v-13.5zM1084 1076.5v15.7h1.6v-15.7zM1085.5 1087v10.7h1.6v-10.7zM1087 1087v5.2h1.6v-5.2zM1088.5 1083v4.2h1.6v-4.2zM1091.5 1003.5v2.1h1.6v-2.1zM1091.5 1076.5v15.7h1.6v-15.7zM1097.5 1076.5v15.7h1.6v-15.7zM1105 1023.5v2.1h1.6v-2.1zM1105 1076.5v15.7h1.6v-15.7zM1108 1097.5v24h1.6v-24zM1109.5 1076.5v15.7h1.6v-15.7zM1115.5 1035.5v2.1h1.6v-2.1zM1115.5 1076.5v15.7h1.6v-15.7zM1117 1108v13.5h1.6v-13.5zM1120.1 1083v4.2h1.6v-4.2zM1121.6 1083v4.2h1.6v-4.2zM1130.6 1076.5v15.7h1.6v-15.7zM1139.6 1108v13.5h1.6v-13.5zM1141.1 1083v4.2h1.6v-4.2zM1142.6 1087v21.1h1.6v-21.1zM1145.6 1083v4.2h1.6v-4.2zM1147.1 1076.5v15.7h1.6v-15.7zM1151.6 1087v5.2h1.6v-5.2zM1156.1 1087v5.2h1.6v-5.2z"/>
<path fill="rgb(255,24,0)" d="M1019.4 1108v13.5h1.6v-13.5zM1020.9 1092v16.1h1.6v-16.1zM1022.4 1083v4.2h1.6v-4.2zM1023.9 1083v4.2h1.6v-4.2zM1034.4 1079.5v3.6h1.6v-3.6zM1035.9 1079.5v3.6h1.6v-3.6zM1037.4 1092v16.1h1.6v-16.1zM1044.9 1092v16.1h1.6v-16.1zM1046.4 1108v13.5h1.6v-13.5zM1049.4 1079.5v3.6h1.6v-3.6zM1052.4 1092v16.1h1.6v-16.1zM1053.9 1079.5v3.6h1.6v-3.6zM1055.4 1079.5v3.6h1.6v-3.6zM1056.9 1092v16.1h1.6v-16.1zM1059.9 1079.5v3.6h1.6v-3.6zM1061.5 993.5v2.1h1.6v-2.1zM1061.5 1092v16.1h1.6v-16.1zM1066 1092v16.1h1.6v-16.1zM1067.5 1079.5v3.6h1.6v-3.6zM1070.5 1087v5.2h1.6v-5.2zM1076.5 1092v16.1h1.6v-16.1zM1078 1079.5v3.6h1.6v-3.6zM1079.5 1108v13.5h1.6v-13.5zM1084 1033.5v2.1h1.6v-2.1zM1084 1092v16.1h1.6v-16.1zM1085.5 1097.5v24h1.6v-24zM1087 1092v29.5h1.6v-29.5zM1088.5 1087v10.7h1.6v-10.7zM1091.5 1092v16.1h1.6v-16.1zM1094.5 1087v10.7h1.6v-10.7zM1097.5 1092v16.1h1.6v-16.1zM1105 1092v16.1h1.6v-16.1zM1109.5 1092v16.1h1.6v-16.1zM1114 1079.5v3.6h1.6v-3.6zM1115.5 1092v16.1h1.6v-16.1zM1120.1 1087v5.2h1.6v-5.2zM1130.6 1009.5v2.1h1.6v-2.1zM1130.6 1092v16.1h1.6v-16.1zM1141.1 1087v10.7h1.6v-10.7zM1142.6 1108v13.5h1.6v-13.5zM1145.6 1087v10.7h1.6v-10.7zM1147.1 1092v16.1h1.6v-16.1zM1151.6 1092v29.5h1.6v-29.5zM1156.1 1092v29.5h1.6v-29.5z"/>
<path fill="rgb(241,0,0)" d="M1017.9 1087v21.1h1.6v-21.1zM1020.9 1108v13.5h1.6v-13.5zM1022.4 1087v5.2h1.6v-5.2zM1023.9 1087v5.2h1.6v-5.2zM1034.4 1083v4.2h1.6v-4.2zM1035.9 1083v4.2h1.6v-4.2zM1037.4 1108v13.5h1.6v-13.5zM1041.9 1087v21.1h1.6v-21.1zM1044.9 1108v13.5h1.6v-13.5zM1047.9 1083v4.2h1.6v-4.2zM1049.4 1083v4.2h1.6v-4.2zM1050.9 1083v4.2h1.6v-4.2zM1052.4 1108v13.5h1.6v-13.5zM1053.9 1083v4.2h1.6v-4.2zM1055.4 1083v4.2h1.6v-4.2zM1056.9 1108v13.5h1.6v-13.5zM1059.9 1083v4.2h1.6v-4.2zM1061.5 1108v13.5h1.6v-13.5zM1066 1108v13.5h1.6v-13.5zM1067.5 1083v4.2h1.6v-4.2zM1070.5 1092v29.5h1.6v-29.5zM1076.5 1108v13.5h1.6v-13.5zM1078 1083v4.2h1.6v-4.2zM1084 1108v13.5h1.6v-13.5zM1088.5 1097.5v24h1.6v-24zM1091.5 1108v13.5h1.6v-13.5zM1094.5 1097.5v24h1.6v-24zM1097.5 1108v13.5h1.6v-13.5zM1105 1108v13.5h1.6v-13.5zM1109.5 1108v13.5h1.6v-13.5zM1114 1083v4.2h1.6v-4.2zM1115.5 1108v13.5h1.6v-13.5zM1120.1 1092v29.5h1.6v-29.5zM1121.6 1087v21.1h1.6v-21.1zM1130.6 991.5v2.1h1.6v-2.1zM1130.6 1108v13.5h1.6v-13.5zM1141.1 1097.5v24h1.6v-24zM1145.6 1097.5v24h1.6v-24zM1147.1 1108v13.5h1.6v-13.5z"/>
<path fill="rgb(203,0,0)" d="M1017.9 1108v13.5h1.6v-13.5zM1022.4 1092v29.5h1.6v-29.5zM1023.9 1092v29.5h1.6v-29.5zM1041.9 1108v13.5h1.6v-13.5zM1047.9 1087v5.2h1.6v-5.2zM1050.9 1087v5.2h1.6v-5.2zM1121.6 1108v13.5h1.6v-13.5z"/>
<path fill="rgb(165,0,0)" d="M1034.4 1087v21.1h1.6v-21.1zM1035.9 1087v21.1h1.6v-21.1zM1047.9 1092v29.5h1.6v-29.5zM1049.4 1087v21.1h1.6v-21.1zM1050.9 1092v29.5h1.6v-29.5zM1053.9 1087v21.1h1.6v-21.1zM1055.4 1087v21.1h1.6v-21.1zM1059.9 1087v21.1h1.6v-21.1zM1067.5 1087v21.1h1.6v-21.1zM1078 1087v21.1h1.6v-21.1zM1114 1087v21.1h1.6v-21.1z"/>
<path fill="rgb(128,0,0)" d="M1034.4 1108v13.5h1.6v-13.5zM1035.9 1108v13.5h1.6v-13.5zM1049.4 1108v13.5h1.6v-13.5zM1053.9 1108v13.5h1.6v-13.5zM1055.4 1108v13.5h1.6v-13.5zM1059.9 1108v13.5h1.6v-13.5zM1067.5 1108v13.5h1.6v-13.5zM1078 1108v13.5h1.6v-13.5zM1114 1108v13.5h1.6v-13.5z"/>
</g>
<path d="M260.8 613.8L263.3 610L265.8 607.7L268.3 606.1L270.8 604.1L273.3 603.1L275.8 603.1L278.3 602.1L280.8 601.7L283.3 600.5L285.8 599.5L288.3 598.4L290.8 596L293.3 596.1L295.8 595.7L298.3 595.1L300.8 592.8L303.3 591.2L305.8 590.8L308.3 590.9L310.8 591.4L313.3 591.4L315.8 591.7L318.3 590.8L320.8 590.9L323.3 590.7L325.8 589.4L328.3 589L330.8 586.4L333.3 584.1L335.8 580.7L338.3 578.7L340.8 577.6L343.3 577.1L345.8 577.1L348.3 576.5L350.8 575.3L353.3 573.6L355.8 572.2L358.3 572L360.8 569.8L363.3 569.1L365.8 569L368.3 567.4L370.8 567.6L373.3 568.6L375.8 566.4L378.3 566.1L380.8 565.9L383.3 564.9L385.8 565L388.3 564.3L390.8 562.6L393.3 563.1L395.8 563L398.3 562.7L400.8 562.6L403.3 561.6L405.8 560.9L408.3 559.5L410.8 560.2L413.3 559.6L415.8 559.4L418.3 558.7L420.8 558.2L423.3 556.7L425.8 555.8L428.3 551.9L430.8 550.3L433.3 550.8L435.8 552.1L438.3 552L440.8 549.7L443.3 546.6L445.8 543.2L448.3 538.8L450.8 535.6L453.3 534.6L455.8 533.3L458.3 531L460.8 528.5L463.3 525.8L465.8 522.8L468.3 518.8L470.8 516.1L473.3 514.3L475.8 511.1L478.3 510.6L480.8 508.9L483.3 505.4L485.8 498.7L488.3 493.4L490.8 489.5L493.3 483.1L495.8 478.4L498.3 474.4L500.8 468.4L503.3 465.2L505.8 460.5L508.3 455.2L510.8 450.9L513.3 447.6L515.8 444.7L518.3 443.1L520.8 440.1L523.3 437.9L525.8 437.1L528.3 435.3L530.8 432.9L533.3 432.1L535.8 431.5L538.3 429.1L540.8 426.3L543.3 425.1L545.8 423.8L548.3 422.4L550.8 422.4L553.3 420L555.8 420L558.3 417.5L560.8 415.8L563.3 415.1L565.8 414.2L568.3 412.6L570.8 410.4L573.3 408.2L575.8 406L578.3 403.9L580.8 401.3L583.3 400.1L585.8 400.2L588.3 399.9L590.8 400.3L593.3 400.4L595.8 401.6L598.3 401L600.8 400.1L603.3 399.6L605.8 399.5L608.3 400.2L610.8 399.7L613.3 399.9L615.8 401.2L618.3 398.5L620.8 398L623.3 398.8L625.8 399.6L628.3 400.2L630.8 400.3L633.3 401.3L635.8 401.7L638.3 401.4L640.8 403.4L643.3 402.7L645.8 401.3L648.3 400.5L650.8 399.7L653.3 399.1L655.8 396.3L658.3 396L660.8 396.6L663.3 395L665.8 394.8L668.3 395.4L670.8 395.9L673.3 397L675.8 395.7L678.3 396.5L680.8 397.5L683.3 399.5L685.8 402.3L688.3 402.4L690.8 406.7L693.3 409L695.8 414.2L698.3 417.1L700.8 420.6L703.3 423.7L705.8 424.8L708.3 426.4L710.8 429L713.3 432.1L715.8 437.5L718.3 445.2L720.8 453.8L723.3 461.8L725.8 470.2L728.3 472.4L730.8 476.1L733.3 478.3L735.8 480.7L738.3 483.2L740.8 485.1L743.3 487.4L745.8 488.1L748.3 489.2L750.8 492.4L753.3 494.2L755.8 496.8L758.3 500.7L760.8 510.1L763.3 519.5L765.8 530.7L768.3 540.7L770.8 550.5L773.3 556.2L775.8 561.8L778.3 567.1L780.8 570.2L783.3 576.6L785.8 582.4L788.3 586.6L790.8 588.5L793.3 593.4L795.8 595.6L798.3 595.6L800.8 595.6L803.3 594.2L803.5 593.6" stroke="#00e400" stroke-width="1.2" fill="none" stroke-linejoin="round"/>
<path d="M911.2 520.3L913.7 517.5L916.2 518.1L918.7 519.1L921.2 520.5L923.7 520.7L926.2 520.8L928.7 522.8L931.2 521.3L933.7 517.8L936.2 514.5L938.7 507L941.2 497.9L943.7 494L946.2 489.4L948.7 488.7L951.2 486.8L953.7 483.3L956.2 480.3L958.7 477.6L961.2 473.5L963.7 470.9L966.2 466.7L968.7 464.6L971.2 463.4L973.7 462.3L976.2 458.7L978.7 457.7L981.2 453.4L983.7 450.8L986.2 447L988.7 446.1L991.2 441L993.7 437.2L996.2 433L998.7 429.3L1001.2 425.5L1003.7 423.1L1006.2 422.3L1008.7 419L1011.2 416.7L1012 414.8L1016.9 409.6L1018.6 413.9L1019.8 418.1L1020.6 450.6L1021.2 495.8L1022 436.5L1022.6 419.5L1023.7 428L1024.3 464.7L1024.8 425.2L1026.8 422.4L1029.6 426.6L1032.5 432.2L1035.3 436.5" stroke="#00e400" stroke-width="1.2" fill="none" stroke-linejoin="round"/>
<path d="M1033.9 533.9L1035.3 543.8L1036.1 560.7L1036.7 518.4L1037.6 634.1L1038.1 690.6L1039 779.5L1039.8 690.6L1040.4 605.9L1040.9 549.4L1041.8 577.6L1042.4 512.7L1043.5 526.8L1044.6 492.9L1045.5 507.1L1046.6 460.5L1047.4 487.3L1048 473.2L1048.8 504.2L1049.4 498.6L1050.3 481.6L1050.8 473.2L1051.7 512.7L1052.2 504.2L1052.8 668L1053.6 704.7L1054.2 577.6L1055.1 484.5L1055.6 560.7L1056.2 634.1L1057 732.9L1057.9 795.1L1058.7 704.7L1059.3 673.6L1060.1 747.1L1060.7 718.8L1061.6 789.4L1062.7 828.9L1063.5 803.5L1064.4 837.4L1064.9 747.1L1065.5 690.6L1066.1 577.6L1066.6 509.9L1067.2 555.1L1067.8 577.6L1068.6 670.8L1069.2 634.1L1069.7 665.2L1070.6 583.3L1071.4 605.9L1072 572L1072.8 622.8L1073.4 651.1L1074.3 577.6L1074.8 536.7L1075.7 577.6L1076.2 605.9L1077.1 690.6L1077.6 752.7L1078.5 662.4L1079.1 634.1L1079.9 577.6L1080.5 563.5L1081.3 648.2L1081.9 701.9L1082.7 634.1L1083.3 605.9L1084.1 577.6L1084.7 555.1L1085.6 600.2L1086.1 628.5L1087 560.7L1087.5 526.8L1088.4 549.4L1088.9 495.8L1089.5 538.1L1089.8 563.5L1090.4 532.5L1090.9 521.2L1091.5 560.7L1092 509.9L1092.6 662.4L1093.2 797.9L1093.7 690.6L1094.6 634.1L1095.4 577.6L1096 539.5L1096.8 594.6L1097.4 634.1L1098.3 747.1L1098.8 845.9L1099.4 761.2L1100.2 662.4L1101.1 611.5L1101.6 594.6L1102.5 577.6L1103.1 563.5L1103.9 583.3L1104.5 549.4L1105 634.1L1105.3 710.3L1105.9 605.9L1106.7 549.4L1107.3 500L1108.1 521.2L1108.7 526.8L1109.6 501.4L1110.1 577.6L1110.7 645.4L1111.2 549.4L1111.8 504.2L1112.4 526.8L1112.9 538.1L1113.8 512.7L1114.4 501.4L1115.2 563.5L1115.8 614.4L1116.6 549.4L1117.2 526.8L1118 512.7L1118.6 504.2L1120 518.4L1121.4 512.7L1122.8 504.2L1124.2 507.1L1126.5 509.9L1128.5 504.2L1129.3 549.4L1129.9 591.8L1130.4 549.4L1131.3 521.2L1132.7 512.7L1134.1 515.5L1136.4 518.4L1138.4 514.1L1139.5 526.8L1140.3 538.1L1140.9 591.8L1141.2 634.1L1142 656.7L1142.9 676.5L1143.4 620L1144 577.6L1144.6 538.1L1145.1 521.2L1146 538.1L1146.8 532.5L1147.7 577.6L1148.2 605.9L1148.8 563.5L1149.6 532.5L1151.1 538.1L1152.5 526.8L1153.3 549.4L1153.9 560.7L1154.7 552.2L1155.3 569.2L1156.1 549.4L1156.7 546.6L1158.1 549.4L1159.5 543.8L1161.5 552.2L1163.8 555.1L1166 566.4L1168 572L1168.8 594.6L1169.4 615.8L1170 594.6L1170.8 577.6L1172.2 574.8L1173.9 583.3L1175.2 592.8L1177.2 598L1179.2 601.9L1181.2 607.7L1183.2 616L1185.2 618.9L1187.2 624.7L1189.2 633L1191.2 639.7L1193.2 644.4L1195.2 650L1197.2 654.1L1199.2 655.8L1201.2 657.2L1203.2 660L1205.2 664.9L1207.2 666.3L1209.2 667.2L1211.2 668.5L1213.2 668.5L1215.2 671.1L1217.2 671.2L1219.2 673.7L1221.2 671.5L1223.2 674.9L1225.2 675.9L1227.2 675L1229.2 679.3L1231.2 681L1233.2 679.7L1235.2 681.9L1237.2 685.9L1239.2 688.3L1241.2 693.1L1243.2 697.5L1245.2 703.1L1247.2 709L1249.2 716.7L1251.2 722.4L1253.2 728.2L1255.2 729.2L1257.2 734.7L1259.2 739.4L1261.2 739.7L1263.2 738.6L1265.2 740.8L1267.2 735.5L1269.2 735.3L1271.2 738.1L1273.2 734.9L1275.2 735.6L1277.2 737.9L1279.2 736.2L1281.2 736.2L1283.2 737L1285.2 735.5L1287.2 736.7L1289.2 739.1L1291.2 742.2L1293.2 743.8L1295.2 746.4L1297.2 748.7L1299.2 752.9L1301.2 758.9L1303.2 763.3L1305.2 766.6L1307.2 770.3L1309.2 779.2L1311.2 782.9L1313.2 785.4L1315.2 782L1317.2 784.2L1319.2 785.2L1321.2 787.8L1323.2 787.4L1325.2 786.3L1327.2 786.6L1329.2 782.8L1331.2 784.3L1333.2 783.3L1335.2 780.5L1337.2 781.9L1339.2 783.9L1341.2 781L1343.2 781.1L1345.2 783.1L1347.2 784L1349.2 783.6L1351.2 782.6L1353.2 787.1L1355.2 789.6L1357.2 790.1L1359.2 791.5L1361.2 797.6L1363.2 801L1365.2 804.2L1367.2 803.8L1369.2 800.7L1371.2 800.5L1373.2 796.5L1375.2 796.2L1377.2 797.1L1379.2 798.5L1381.2 797.4L1383.2 797.6L1385.2 798.7L1387.2 799.2L1389.2 800L1391.2 800.1L1393.2 799.9L1395.2 801.9L1397.2 802.5L1399.2 803.2L1401.2 805.6L1403.2 808.1L1405.2 807.2L1407.2 804.5L1409.2 801.1L1411.2 798.1L1413.2 794.3L1415.2 788.7L1417.2 786.1L1418 785.9L1420.5 782.6L1423 778.4L1425.5 774.9L1428 769.8L1430.5 764.2L1433 760.4L1435.5 755.1L1438 751.4L1440.5 745.8L1443 739.9L1445.5 736.4L1448 735.5L1450.5 732.5L1453 729.4L1455.5 727.6L1458 727.1L1460.5 726.4L1463 725.3L1465.5 725.3L1468 724.2L1470.5 722.3L1473 721.2L1475.5 720.8L1478 719.3L1480.5 717.9L1483 714.5L1485.5 712.6L1488 711.6L1490.5 709.5L1493 708.8L1495.5 707.3L1498 706L1500.5 703.6L1503 703.9L1505.5 702.4L1508 699.5L1510.5 697.3L1513 697.7L1515.5 694.6L1518 693.1L1520.5 691.7L1523 689.3L1525.5 686.2L1528 684.8L1530.5 683.5L1533 682.8L1535.5 681.4L1538 679.3L1540.5 678.1L1543 676.5L1545.5 674.6L1548 672.8L1550.5 670.9L1553 669.9L1555.5 667.2L1558 665.3L1560.5 664.2L1563 661.6L1565.5 660.4L1568 657.8L1570.5 656.8L1573 656.9L1575.5 656.5L1578 655.3L1580.5 654.1L1583 651.9L1585.5 653.3L1588 652.7L1590.5 652.6L1593 650.5L1595.5 649.6L1598 647.3L1600.5 647.8L1603 647.9L1605.5 644.9L1608 644.1L1610.5 643.1L1613 639L1615.5 635.3L1618 632.9L1620.5 631.3L1623 629.6L1625.5 630.1L1628 630.6L1630.5 631.2L1633 631.6L1635.5 632.6L1638 632.9L1640.5 630.8L1643 630.2L1645.5 629.3L1648 628.5L1650.5 628.3L1653 627.7L1655.5 627.4L1658 625.3L1660.5 624.8L1663 626.5L1665.5 628.3L1668 629.7L1670.5 630.5L1673 630.1L1675.5 631.3L1678 631.6L1680.5 631.5L1683 630.9L1685.5 630.9L1688 628.6L1690.5 628.8L1693 629.7L1695.5 628.7L1698 629.6L1700.5 630L1703 628.7L1705.5 628.9L1708 628.7L1710.5 628.9L1713 628.8L1715.5 627.8L1718 626L1720.5 625.2L1723 624.5L1725.5 624.4L1728 623.5L1730.5 621.6L1733 619.4L1735.5 618.6L1738 617.5L1740.5 616.3L1743 616.5L1745.5 616.4L1748 617.2L1750.5 618.3L1753 618.3L1755.5 620.9L1758 620.2L1760.5 620.9L1763 620.4L1765.5 620.9L1768 618L1770.5 617.7L1773 618.3L1775.5 618.9L1778 620.9L1780.5 620.2L1783 620.6L1785.5 620.5L1788 620.8L1790.5 620.8L1793 620.3L1795.5 620.8L1798 619.6L1800.5 620.7L1803 618.6L1805.5 617.6L1808 617.8L1810.4 614" stroke="#00e400" stroke-width="1.2" fill="none" stroke-linejoin="round"/>
<path d="M260.8 614L262.8 610.2L264.8 608.4L266.8 607.2L268.8 606.1L270.8 605L272.8 604L274.8 603.1L276.8 602.2L278.8 601.3L280.8 600.5L282.8 599.7L284.8 599L286.8 598.3L288.8 597.6L290.8 596.9L292.8 596.2L294.8 595.5L296.8 594.9L298.8 594.3L300.8 593.7L302.8 593.3L304.8 592.8L306.8 592.5L308.8 592.3L310.8 592L312.8 591.8L314.8 591.6L316.8 591.4L318.8 591.2L320.8 590.9L322.8 590.5L324.8 590.1L326.8 589.1L328.8 587.4L330.8 585.3L332.8 583L334.8 581L336.8 579.6L338.8 578.8L340.8 578.1L342.8 577.5L344.8 577L346.8 576.6L348.8 576L350.8 575.4L352.8 574.7L354.8 573.6L356.8 572.5L358.8 571.3L360.8 570.2L362.8 569.3L364.8 568.8L366.8 568.5L368.8 568.3L370.8 568.1L372.8 567.9L374.8 567.7L376.8 567.4L378.8 567L380.8 566.5L382.8 566L384.8 565.5L386.8 565L388.8 564.4L390.8 563.8L392.8 563.3L394.8 562.8L396.8 562.2L398.8 561.5L400.8 560.9L402.8 560.4L404.8 560.1L406.8 560L408.8 560L410.8 560L412.8 560L414.8 560L416.8 560L418.8 560L420.8 559.7L422.8 558.4L424.8 556.6L426.8 554.6L428.8 553L430.8 552.3L432.8 551.9L434.8 551.7L436.8 551.5L438.8 551.2L440.8 550.8L442.8 549.8L444.8 546.6L446.8 542.5L448.8 539.5L450.8 537.3L452.8 535.3L454.8 533.5L456.8 531.8L458.8 530L460.8 528L462.8 525.7L464.8 522.9L466.8 519.5L468.8 516.7L470.8 514.9L472.8 513.4L474.8 512.2L476.8 511L478.8 509.5L480.8 507.7L482.8 505.1L484.8 501.6L486.8 497.5L488.8 493.4L490.8 489.5L492.8 485.5L494.8 481.4L496.8 477.3L498.8 473.2L500.8 469.3L502.8 465.5L504.8 461.6L506.8 457.6L508.8 453.8L510.8 450.4L512.8 447.4L514.8 445.2L516.8 443.2L518.8 441.5L520.8 439.9L522.8 438.4L524.8 437.1L526.8 435.8L528.8 434.5L530.8 433.3L532.8 432L534.8 430.7L536.8 429.5L538.8 428.3L540.8 427.1L542.8 426L544.8 424.8L546.8 423.7L548.8 422.6L550.8 421.6L552.8 420.6L554.8 419.7L556.8 418.7L558.8 417.7L560.8 416.7L562.8 415.5L564.8 414.1L566.8 412.6L568.8 411.1L570.8 409.5L572.8 407.9L574.8 406.4L576.8 404.6L578.8 402.7L580.8 401L582.8 399.9L584.8 399.5L586.8 399.5L588.8 399.5L590.8 399.5L592.8 399.5L594.8 399.5L596.8 399.5L598.8 399.5L600.8 399.5L602.8 399.5L604.8 399.5L606.8 399.5L608.8 399.5L610.8 399.5L612.8 399.5L614.8 399.5L616.8 399.5L618.8 399.5L620.8 399.5L622.8 399.5L624.8 399.6L626.8 399.9L628.8 400.2L630.8 400.5L632.8 400.9L634.8 401.2L636.8 401.4L638.8 401.6L640.8 401.6L642.8 401.4L644.8 401.1L646.8 400.7L648.8 400.2L650.8 399.8L652.8 399.3L654.8 398.8L656.8 398.2L658.8 397.5L660.8 396.9L662.8 396.2L664.8 395.7L666.8 395.3L668.8 395L670.8 395L672.8 395.3L674.8 395.7L676.8 396.4L678.8 397.2L680.8 398L682.8 399L684.8 400.5L686.8 402.3L688.8 404.5L690.8 406.8L692.8 409.4L694.8 412.7L696.8 416.1L698.8 419.1L700.8 421.3L702.8 422.8L704.8 424.1L706.8 425.2L708.8 426.5L710.8 428.2L712.8 430.6L714.8 434.7L716.8 439.8L718.8 445.3L720.8 452.1L722.8 459.4L724.8 465.4L726.8 469.4L728.8 472.4L730.8 475L732.8 477.3L734.8 479.3L736.8 481.2L738.8 482.8L740.8 484.4L742.8 486.1L744.8 487.8L746.8 489.6L748.8 491.2L750.8 492.8L752.8 494.7L754.8 496.9L756.8 499.7L758.8 504L760.8 510.3L762.8 517.3L764.8 524.9L766.8 533.8L768.8 542.7L770.8 550.5L772.8 555.9L774.8 560L776.8 563.4L778.8 566.6L780.8 570.1L782.8 574.2L784.8 578.6L786.8 582.9L788.8 586.7L790.8 589.6L792.8 592.3L794.8 594.6L796.8 595.9L798.8 595.9L800.8 595.5L802.8 594.2L803.5 593.6" stroke="#000" stroke-width="1.05" fill="none" stroke-linejoin="round"/>
<path d="M911.2 518.7L912.7 518L914.2 517.4L915.7 517.1L917.2 516.8L918.7 516.8L920.2 517.2L921.7 517.9L923.2 518.8L924.7 519.8L926.2 520.7L927.7 521.3L929.2 521.6L930.7 520.9L932.2 519.3L933.7 517.2L935.2 514.8L936.7 511.4L938.2 507.5L939.7 503.5L941.2 499.9L942.7 497.1L944.2 494.9L945.7 493L947.2 491.3L948.7 489.6L950.2 488L951.7 486.4L953.2 484.7L954.7 482.8L956.2 480.7L957.7 478.5L959.2 476.2L960.7 473.8L962.2 471.5L963.7 469.2L965.2 467.1L966.7 465.1L968.2 463.4L969.7 462L971.2 460.7L972.7 459.6L974.2 458.7L975.7 457.8L977.2 456.9L978.7 456L980.2 455.1L981.7 454.1L983.2 452.9L984.7 451.7L986.2 450.2L987.7 448.3L989.2 446.1L990.7 443.6L992.2 441L993.7 438.3L995.2 435.6L996.7 433L998.2 430.6L999.7 428.4L1001.2 426.4L1002.7 424.2L1004.2 422L1005.7 419.9L1007.2 418L1008.7 416.4L1010.2 415.3L1011.7 414.8L1013.2 414.9L1014.7 415.4L1016.2 416.1L1017.7 416.9L1019.2 417.9L1020.7 419.1L1022.2 420.7L1023.7 422.8L1025.2 425.5L1026.7 428.8L1028.2 435.4L1029.7 445.2L1031.2 456.1L1032.7 466.3L1034.2 474L1035.7 480.2L1037.2 485.9L1038.7 491.6L1040.2 498L1041.7 506.2L1043.2 513.3L1044.7 515.5L1046.2 512.2L1047.7 507.3L1049.2 504.8L1050.7 510.6L1052.2 524.2L1053.7 540.2L1055.2 557.6L1056.7 579.3L1058.2 598.1L1059.7 609.3L1061.2 618.9L1062.7 627L1064.2 632.8L1065.7 635.5L1067.2 628L1068.7 610.5L1070.2 605.3L1071.7 605L1073.2 604.8L1074.7 604.2L1076.2 601.8L1077.7 597.6L1079.2 592.8L1080.7 588.4L1082.2 585.3L1083.7 582.4L1085.2 579.5L1086.7 577.1L1088.2 575.3L1089.7 574.4L1091.2 575.3L1092.7 578.4L1094.2 582.4L1095.7 587L1097.2 593.3L1098.7 597.1L1100.2 594L1101.7 585L1103.2 574.3L1104.7 565.8L1106.2 559.1L1107.7 552.7L1109.2 547.1L1110.7 542.3L1112.2 538.1L1113.7 534.3L1115.2 531L1116.7 528L1118.2 525.4L1119.7 522.7L1121.2 520.2L1122.7 518L1124.2 516.4L1125.7 515.6L1127.2 515.8L1128.7 516.4L1130.2 517.5L1131.7 518.9L1133.2 522.5L1134.7 529.7L1136.2 535.3L1137.7 535.4L1139.2 533.3L1140.7 532.5L1142.2 534.2L1143.7 537.7L1145.2 541.9L1146.7 545.6L1148.2 547.8L1149.7 546.9L1151.2 542.7L1152.7 540.8L1154.2 541.3L1155.7 542.5L1157.2 544L1158.7 545.7L1160.2 547.6L1161.7 549.9L1163.2 552.9L1164.7 556.3L1166.2 560L1167.7 564L1169.2 568.5L1170.7 573.9L1172.2 579.9L1173.7 585.8L1175.2 591.2L1176.7 596.1L1178.2 600.7L1179.7 605.2L1181.2 609.6L1182.7 614L1184.2 618.3L1185.7 622.6L1187.2 627L1188.7 631.3L1190.2 635.6L1191.7 639.7L1193.2 643.5L1194.7 647.1L1196.2 650.5L1197.7 653.9L1199.2 656.9L1200.7 659.5L1202.2 661.6L1203.7 663.4L1205.2 665.2L1206.7 666.8L1208.2 668.3L1209.7 669.7L1211.2 670.9L1212.7 672L1214.2 673L1215.7 673.8L1217.2 674.5L1218.7 675L1220.2 675.6L1221.7 676.3L1223.2 677.1L1224.7 677.9L1226.2 678.8L1227.7 679.8L1229.2 680.9L1230.7 682L1232.2 683.2L1233.7 684.4L1235.2 685.8L1236.7 687.3L1238.2 689L1239.7 690.8L1241.2 692.9L1242.7 695.3L1244.2 698.6L1245.7 702.8L1247.2 707.4L1248.7 712.2L1250.2 716.6L1251.7 721.1L1253.2 725.8L1254.7 729.9L1256.2 732.8L1257.7 735.1L1259.2 737.2L1260.7 738.6L1262.2 739L1263.7 738.6L1265.2 737.9L1266.7 736.9L1268.2 735.8L1269.7 734.9L1271.2 734.2L1272.7 734L1274.2 734L1275.7 734L1277.2 734L1278.7 734L1280.2 734L1281.7 734L1283.2 734.3L1284.7 735L1286.2 736L1287.7 737.2L1289.2 738.6L1290.7 740.1L1292.2 741.7L1293.7 743.7L1295.2 746.2L1296.7 749.1L1298.2 752.2L1299.7 755.3L1301.2 758.4L1302.7 761.7L1304.2 765.2L1305.7 768.8L1307.2 772.2L1308.7 775.3L1310.2 777.8L1311.7 780.1L1313.2 782.2L1314.7 783.8L1316.2 784.4L1317.7 784.6L1319.2 784.7L1320.7 784.8L1322.2 784.9L1323.7 784.9L1325.2 785L1326.7 785L1328.2 785L1329.7 784.6L1331.2 783.9L1332.7 782.9L1334.2 781.8L1335.7 780.9L1337.2 780.2L1338.7 780L1340.2 780.4L1341.7 781.1L1343.2 782.1L1344.7 783L1346.2 783.6L1347.7 783.9L1349.2 784.1L1350.7 784.3L1352.2 784.6L1353.7 785.1L1355.2 786.7L1356.7 789.2L1358.2 792L1359.7 794.2L1361.2 796.2L1362.7 798.1L1364.2 799.5L1365.7 800L1367.2 799.9L1368.7 799.8L1370.2 799.6L1371.7 799.5L1373.2 799.3L1374.7 799.1L1376.2 799L1377.7 798.9L1379.2 798.8L1380.7 798.7L1382.2 798.7L1383.7 798.6L1385.2 798.5L1386.7 798.5L1388.2 798.5L1389.7 798.6L1391.2 799L1392.7 799.5L1394.2 800.1L1395.7 800.8L1397.2 801.6L1398.7 803.2L1400.2 805.5L1401.7 807.7L1403.2 808.9L1404.7 808.5L1406.2 806.5L1407.7 803.8L1409.2 801.2L1410.7 798.6L1412.2 795.9L1413.7 793L1415.2 790.1L1416.7 787.3L1418.2 784.7L1419.7 782.3L1421.2 780L1422.7 777.9L1424.2 775.7L1425.7 773.6L1427.2 771.4L1428.7 769.1L1430.2 766.7L1431.7 764L1433.2 761.2L1434.7 758.2L1436.2 755.2L1437.7 752.2L1439.2 749.3L1440.7 746.6L1442.2 744.2L1443.7 741.9L1445.2 739.6L1446.7 737.4L1448.2 735.5L1449.7 733.7L1451.2 732.3L1452.7 731.1L1454.2 730L1455.7 729L1457.2 728.1L1458.7 727.2L1460.2 726.4L1461.7 725.6L1463.2 724.9L1464.7 724.2L1466.2 723.5L1467.7 722.8L1469.2 722.1L1470.7 721.3L1472.2 720.6L1473.7 719.8L1475.2 718.9L1476.7 718L1478.2 717.1L1479.7 716.2L1481.2 715.2L1482.7 714.3L1484.2 713.3L1485.7 712.4L1487.2 711.4L1488.7 710.5L1490.2 709.5L1491.7 708.6L1493.2 707.6L1494.7 706.6L1496.2 705.6L1497.7 704.7L1499.2 703.7L1500.7 702.7L1502.2 701.7L1503.7 700.8L1505.2 699.8L1506.7 698.8L1508.2 697.9L1509.7 696.9L1511.2 695.9L1512.7 695L1514.2 694L1515.7 693L1517.2 692L1518.7 691L1520.2 690L1521.7 689.1L1523.2 688.1L1524.7 687.1L1526.2 686.1L1527.7 685.1L1529.2 684.1L1530.7 683.1L1532.2 682.1L1533.7 681.2L1535.2 680.2L1536.7 679.2L1538.2 678.3L1539.7 677.3L1541.2 676.4L1542.7 675.4L1544.2 674.5L1545.7 673.6L1547.2 672.7L1548.7 671.8L1550.2 670.9L1551.7 670L1553.2 669.1L1554.7 668.2L1556.2 667.3L1557.7 666.4L1559.2 665.5L1560.7 664.6L1562.2 663.7L1563.7 662.8L1565.2 662L1566.7 661.1L1568.2 660.3L1569.7 659.5L1571.2 658.7L1572.7 657.9L1574.2 657.1L1575.7 656.4L1577.2 655.7L1578.7 655.1L1580.2 654.4L1581.7 653.8L1583.2 653.3L1584.7 652.8L1586.2 652.3L1587.7 651.9L1589.2 651.4L1590.7 651L1592.2 650.6L1593.7 650.2L1595.2 649.8L1596.7 649.4L1598.2 648.9L1599.7 648.4L1601.2 647.9L1602.7 647.4L1604.2 646.8L1605.7 646.1L1607.2 645.4L1608.7 644.5L1610.2 643.3L1611.7 641.9L1613.2 640.3L1614.7 638.8L1616.2 637.2L1617.7 635.7L1619.2 634.4L1620.7 633.2L1622.2 632.4L1623.7 632L1625.2 631.7L1626.7 631.4L1628.2 631.2L1629.7 631.1L1631.2 631L1632.7 630.9L1634.2 630.9L1635.7 630.8L1637.2 630.8L1638.7 630.8L1640.2 630.7L1641.7 630.7L1643.2 630.6L1644.7 630.6L1646.2 630.5L1647.7 630.3L1649.2 629.8L1650.7 629.3L1652.2 628.7L1653.7 628.1L1655.2 627.5L1656.7 627L1658.2 626.7L1659.7 626.6L1661.2 626.9L1662.7 627.5L1664.2 628.4L1665.7 629.3L1667.2 630.1L1668.7 630.8L1670.2 631L1671.7 631.1L1673.2 631.2L1674.7 631.2L1676.2 631.3L1677.7 631.3L1679.2 631.3L1680.7 631.4L1682.2 631.4L1683.7 631.4L1685.2 631.4L1686.7 631.4L1688.2 631.4L1689.7 631.3L1691.2 631.2L1692.7 631.2L1694.2 631.1L1695.7 631L1697.2 630.9L1698.7 630.7L1700.2 630.6L1701.7 630.5L1703.2 630.3L1704.7 630.1L1706.2 630L1707.7 629.8L1709.2 629.4L1710.7 629.1L1712.2 628.6L1713.7 628.2L1715.2 627.6L1716.7 627.1L1718.2 626.5L1719.7 626L1721.2 625.4L1722.7 624.9L1724.2 624.4L1725.7 623.9L1727.2 623.3L1728.7 622.7L1730.2 622.1L1731.7 621.4L1733.2 620.8L1734.7 620.1L1736.2 619.5L1737.7 619L1739.2 618.5L1740.7 618.1L1742.2 617.8L1743.7 617.7L1745.2 617.6L1746.7 617.7L1748.2 617.8L1749.7 618L1751.2 618.3L1752.7 618.5L1754.2 618.8L1755.7 619L1757.2 619.2L1758.7 619.4L1760.2 619.4L1761.7 619.4L1763.2 619.4L1764.7 619.3L1766.2 619.3L1767.7 619.2L1769.2 619.1L1770.7 619L1772.2 618.9L1773.7 618.9L1775.2 618.8L1776.7 618.7L1778.2 618.6L1779.7 618.6L1781.2 618.5L1782.7 618.5L1784.2 618.5L1785.7 618.6L1787.2 618.7L1788.7 618.8L1790.2 619.1L1791.7 619.3L1793.2 619.5L1794.7 619.7L1796.2 619.9L1797.7 620L1799.2 620L1800.7 619.8L1802.2 619.4L1803.7 618.7L1805.2 617.8L1806.7 616.8L1808.2 615.7L1809.7 614.6L1810.4 614" stroke="#000" stroke-width="1.05" fill="none" stroke-linejoin="round"/>
<path d="M260.6 340.2L263.6 343.4L266.6 346.7L269.6 350L272.6 353.3L275.6 356.6L278.6 360L281.6 363.4L284.6 366.7L287.6 370.2L290.6 373.6L293.6 377L296.6 380.5L299.6 384L302.6 387.5L305.6 391.1L308.6 394.7L311.6 398.2L314.6 401.9L317.6 405.5L320.6 409.1L323.6 412.8L326.6 416.5L329.6 420.3L332.6 424L335.6 427.8L338.6 431.6L341.6 435.5L344.6 439.4L347.6 443.3L350.6 447.3L353.6 451.2L356.6 455.3L359.6 459.3L362.6 463.4L365.6 467.4L368.6 471.6L371.6 475.7L374.6 479.8L377.6 484L380.6 488.1L383.6 492.3L386.6 496.5L389.6 500.7L392.6 504.9L395.6 509.1L398.6 513.3L401.6 517.5L404.6 521.7L407.6 525.9L410.6 530.1L413.6 534.3L416.6 538.5L419.6 542.6L422.6 546.8L425.6 550.9L428.6 555.1L431.6 559.2L434.6 563.3L437.6 567.5L440.6 571.6L443.6 575.7L446.6 579.8L449.6 584L452.6 588.1L455.6 592.3L458.6 596.5L461.6 600.6L464.6 604.8L467.6 609L470.6 613.2L473.6 617.4L476.6 621.6L479.6 625.7L482.6 629.9L485.6 634.1L488.6 638.3L491.6 642.4L494.6 646.6L497.6 650.7L500.6 654.8L503.6 659L506.6 663.1L509.6 667.2L512.6 671.2L515.6 675.3L518.6 679.3L521.6 683.4L524.6 687.4L527.6 691.3L530.6 695.3L533.6 699.2L536.6 703.1L539.6 707L542.6 710.8L545.6 714.6L548.6 718.4L551.6 722.2L554.6 725.9L557.6 729.6L560.6 733.3L563.6 736.9L566.6 740.6L569.6 744.2L572.6 747.8L575.6 751.4L578.6 755L581.6 758.6L584.6 762.2L587.6 765.8L590.6 769.4L593.6 772.9L596.6 776.5L599.6 780L602.6 783.5L605.6 786.9L608.6 790.3L611.6 793.7L614.6 797.1L617.6 800.4L620.6 803.6L623.6 806.9L626.6 810.1L629.6 813.3L632.6 816.5L635.6 819.6L638.6 822.7L641.6 825.7L644.6 828.6L647.6 831.5L650.6 834.4L653.6 837.3L656.6 840.1L659.6 842.9L662.6 845.6L665.6 848.2L668.6 850.8L671.6 853.3L674.6 855.7L677.6 858L680.6 860.3L683.6 862.5L686.6 864.6L689.6 866.7L692.6 868.7L695.6 870.7L698.6 872.6L701.6 874.4L704.6 876.1L707.6 877.6L710.6 879.2L713.6 880.8L716.6 882.4L719.6 883.9L722.6 885.5L725.6 887L728.6 888.6L731.6 890.1L734.6 891.5L737.6 892.9L740.6 894.3L743.6 895.6L746.6 896.8L749.6 898.1L752.6 899.3L755.6 900.5L758.6 901.7L761.6 902.8L764.6 903.7L767.6 904.6L770.6 905.4L773.6 906.2L776.6 906.9L779.6 907.6L782.6 908.2L785.6 908.8L788.6 909.3L791.6 909.8L794.6 910.1L797.6 910.5L800.6 910.8L803.3 911M912 911.6L915 911.6L918 911.5L921 911.4L924 911.2L927 910.9L930 910.5L933 910.1L936 909.7L939 909.3L942 908.9L945 908.5L948 908L951 907.4L954 906.8L957 906.1L960 905.4L963 904.6L966 903.7L969 902.7L972 901.7L975 900.6L978 899.5L981 898.2L984 896.9L987 895.5L990 894.1L993 892.7L996 891.3L999 889.8L1002 888.3L1005 886.7L1008 885L1011 883.3L1014 881.5L1017 879.8L1020 878L1023 876.2L1026 874.4L1029 872.5L1032 870.6L1035 868.6L1038 866.6L1041 864.5L1044 862.3L1047 860L1050 857.6L1053 855.1L1056 852.5L1059 850L1062 847.5L1065 844.9L1068 842.4L1071 839.9L1074 837.3L1077 834.9L1080 832.4L1083 829.8L1086 827L1089 823.9L1092 820.7L1095 817.5L1098 814.4L1101 811.4L1104 808.4L1107 805.4L1110 802.4L1113 799.3L1116 796.2L1119 793.1L1122 790L1125 786.9L1128 783.8L1131 780.7L1134 777.4L1137 774L1140 770.6L1143 767.2L1146 763.7L1149 760.1L1152 756.6L1155 753L1158 749.3L1161 745.6L1164 741.9L1167 738.2L1170 734.5L1173 730.7L1176 726.9L1179 723L1182 719.2L1185 715.3L1188 711.4L1191 707.5L1194 703.6L1197 699.6L1200 695.7L1203 691.7L1206 687.6L1209 683.4L1212 679.3L1215 675.3L1218 671.3L1221 667.3L1224 663.1L1227 658.8L1230 654.6L1233 650.5L1236 646.4L1239 642.4L1242 638.3L1245 634.3L1248 630.2L1251 626.2L1254 622.1L1257 617.9L1260 613.7L1263 609.5L1266 605.1L1269 600.7L1272 596.5L1275 592.6L1278 588.7L1281 584.8L1284 580.6L1287 576.3L1290 572L1293 567.9L1296 564L1299 559.9L1302 555.5L1305 550.5L1308 545.6L1311 541.3L1314 537.4L1317 533.7L1320 529.8L1323 525.8L1326 521.6L1329 517.4L1332 513.1L1335 508.7L1338 504.3L1341 500L1344 495.8L1347 491.7L1350 487.7L1353 483.6L1356 479.4L1359 475.2L1362 470.9L1365 466.7L1368 462.4L1371 458.1L1374 453.9L1377 449.8L1380 445.7L1383 441.8L1386 437.9L1389 434.1L1392 430.3L1395 426.6L1398 422.9L1401 419.2L1404 415.5L1407 411.8L1410 408.1L1413 404.5L1416 400.8L1419 397.2L1422 393.5L1425 390L1428 386.4L1431 382.8L1434 379.4L1437 375.9L1440 372.5L1443 369.1L1446 365.8L1449 362.5L1452 359.3L1455 356.1L1458 352.9L1461 349.7L1464 346.6L1467 343.5L1470 340.5L1473 337.5L1476 334.5L1479 331.6L1482 328.7L1485 325.8L1488 323L1491 320.2L1494 317.4L1497 314.6L1500 311.9L1503 309.2L1506 306.5L1509 303.8L1512 301.2L1515 298.6L1518 296L1521 293.6L1524 291.2L1527 289L1530 286.8L1533 284.7L1536 282.6L1539 280.6L1542 278.7L1545 276.8L1548 275L1551 273.2L1554 271.5L1557 269.8L1560 268.1L1563 266.4L1566 264.8L1569 263.3L1572 261.7L1575 260.3L1578 258.9L1581 257.7L1584 256.5L1587 255.4L1590 254.3L1593 253.3L1596 252.2L1599 251.3L1602 250.5L1605 249.7L1608 249L1611 248.5L1614 248L1617 247.6L1620 247.1L1623 246.7L1626 246.3L1629 246L1632 245.7L1635 245.5L1638 245.4L1641 245.4L1644 245.5L1647 245.8L1650 246.1L1653 246.5L1656 247L1659 247.6L1662 248.1L1665 248.7L1668 249.3L1671 250.1L1674 251L1677 251.9L1680 252.9L1683 254L1686 255.1L1689 256.2L1692 257.4L1695 258.6L1698 259.9L1701 261.2L1704 262.6L1707 264.1L1710 265.6L1713 267.2L1716 268.8L1719 270.5L1722 272.2L1725 274L1728 275.9L1731 277.9L1734 279.9L1737 281.9L1740 284L1743 286.1L1746 288.1L1749 290.3L1752 292.4L1755 294.6L1758 296.8L1761 299.1L1764 301.4L1767 303.7L1770 306L1773 308.4L1776 310.8L1779 313.2L1782 315.6L1785 318.1L1788 320.6L1791 323.1L1794 325.6L1797 328.2L1800 330.7L1803 333.3L1806 336L1809 338.6L1810.4 339.9" stroke="#1a1aa8" stroke-width="1.4" fill="none"/>
<path d="M703.6 875.6L714.1 881M717.6 882.9L728.1 888.3M731.6 890.1L742.1 894.9M745.6 896.4L756.1 900.7M759.6 902.1L770.1 905.3M773.6 906.2L784.1 908.5M787.6 909.2L798.1 910.5M801.6 910.9L803.3 911M915 911.6L925.5 911M929 910.6L939.5 909.3M943 908.8L953.5 906.9M957 906.1L967.5 903.2M971 902.1L981.5 898M985 896.4L995.5 891.5M999 889.8L1009.5 884.2M1013 882.1L1023.5 875.9M1027 873.8L1037.5 866.9M1041 864.5L1051.5 856.4M1055 853.4L1065.5 844.5M1069 841.6L1079.5 832.8M1083 829.8L1093.2 819.4M1096.5 815.9L1107 805.4M1110.5 801.9L1120.5 791.6M1124 787.9L1134 777.4M1137.2 773.7L1146.2 763.4M1149.2 759.8L1158 749.3M1160.8 746L1169.2 735.5M1172 731.9L1180.2 721.5M1183 717.9L1191 707.5M1193.8 703.8L1201.6 693.6M1204.4 689.8L1211.8 679.6M1214.6 675.8L1222.4 665.3M1224.8 662L1232.2 651.6M1235 647.8L1242.6 637.5M1245.4 633.7L1253 623.4M1255.6 619.9L1263 609.5M1265.4 606L1272.8 595.4M1275.6 591.8L1283.4 581.4M1286 577.7L1293.4 567.4M1296 564L1303.2 553.6M1305.3 549.9L1312.4 539.4M1315.2 535.9L1323.2 525.5M1325.8 521.9L1330 516" stroke="#0404ee" stroke-width="12.4" fill="none"/>
<path d="M1612 834.4h10M1626 834.4h10M1640 834.4h10M1654 834.4h10M1668 834.4h10M1682 834.4h10M1696 834.4h10M1710 834.4h10M1724 834.4h10M1738 834.4h10M1752 834.4h10" stroke="#0404ee" stroke-width="12.8" fill="none"/>
<path d="M276 1149.2L280.8 1150.8L285.6 1154L286.4 1160.4L292 1158.8L288 1155.6L285.6 1154M474.4 1133.3L484 1143.6L487.2 1141.2L481.6 1134M490.4 1133.3L496.8 1138.8L501.6 1146L504.8 1150.8L502.4 1156.4L508 1160.4L516 1164.4L525.6 1169.2L535.2 1172.4L543.2 1175.6L549.6 1172.4L556 1176.4L562.4 1181.2L569.6 1185.2L580.8 1188.4L588 1195.6L589.6 1200.4L596 1204.4L602.4 1207.6L608 1211.6L611.2 1213.2L613.6 1208.4L616.8 1205.2L620 1206.8L624 1213.2L624.8 1226L621.6 1232.4L616.8 1240.4L611.2 1246.8L609.6 1253.2L613.6 1256.4L608.8 1262.8L607.2 1266L609.6 1272.4L613.6 1277.2L618.4 1283.6L621.6 1290L624.8 1296.4L628.8 1303.6L631.2 1308.4L635.2 1312.4L641.6 1315.6L648.8 1319.6L653.6 1324.4L656 1331.6L656 1342.8L654.4 1355.3M539.2 1133.3L536 1146L540.8 1154L546.4 1162L552.8 1164.4L562.4 1162L566.4 1161.2L568.8 1150.8L576 1148.9L584 1148.9L582.4 1155.6L579.2 1164.4L578.4 1170L575.2 1174L584 1174.8L593.6 1175.6L598.4 1178L599.2 1184.4L597.6 1192.4L600 1198.8L606.4 1203.6L612.8 1204.4L619.2 1203.3L623.2 1206L626.4 1209.2L628.8 1205.2L633.6 1198.8L638.4 1195.6L646.4 1193.2L649.6 1190.8L656 1193.2L662.4 1194L665.6 1198.8L672 1199.6L678.4 1200.4L684.8 1198L692.8 1197.2L696 1200.4L695.2 1206.8L700.8 1208.4L704.8 1211.6L708.8 1214.8L713.6 1218L720 1217.7L726.4 1219.6L732.8 1222.8L737.6 1226.8L740.8 1232.4L744 1238L742.4 1242L738.4 1245.2L736.8 1250L740.8 1245.2L748.8 1245.2L755.2 1246.8L760 1249.2L768 1251.6L776 1254.8L784 1256.4L790.4 1259.6L796.8 1264.4L803.2 1266L807.2 1269.2L808.8 1275.6L807.2 1283.6L803.2 1290L798.4 1296.4L793.6 1301.2L790.4 1304.4L791.2 1310.8L790.4 1318.8L788 1326.8L784.8 1334.8L781.6 1341.2L774.4 1344.4L765.6 1346L760 1350.8L754.4 1355.3M649.6 1190.8L648 1194L650.4 1198.8L649.6 1204.4L652 1202.8L652.8 1195.6L656 1192.4M592.8 1146.8L596.8 1143.6L606.4 1141.2L614.4 1144.4L622.4 1149.2L630.4 1152.4L638.4 1155.6L635.2 1157.2L627.2 1155.6L620.8 1152.4L612.8 1149.2L604.8 1146L598.4 1147.6ZM643.2 1158L649.6 1156.4L656 1158L659.2 1162L656 1164.4L652 1166L651.2 1168.4L647.2 1166L642.4 1164.4L636.8 1163.6L641.6 1162ZM893.6 1133.3L890.4 1139.6L886.4 1146L884.8 1151.6L888 1156.4L888.8 1165.2L887.2 1173.2L884 1180.4L885.6 1189.2L891.2 1195.6L898.4 1202L902.4 1210L911.2 1217.2L919.2 1223.6L925.6 1226.8L932 1223.6L940 1221.2L946.4 1222.8L952.8 1222L960.8 1218L968.8 1215.6L975.2 1216.4L980 1219.6L981.6 1224.4L988 1226L994.4 1225.2L996.8 1229.2L1000 1232.4L999.2 1238.8L996.8 1248.4L999.2 1254.8L1005.6 1261.2L1010.4 1269.2L1014.4 1277.2L1015.2 1286.8L1018.4 1296.4L1013.6 1301.2L1011.2 1306L1009.6 1314L1008 1320.4L1011.2 1326.8L1016 1336.4L1020 1344.4L1021.6 1355.3M1108.8 1133.3L1112.8 1139.6L1116.8 1146L1119.2 1155.6L1124 1165.2L1128.8 1173.2L1135.2 1181.2L1141.6 1187.6L1145.6 1193.2L1148 1190.8L1156 1187.6L1163.2 1184.4L1171.2 1179.6L1180.8 1175.6L1185.6 1171.6L1195.2 1168.4L1201.6 1162.8L1208 1156.4L1212.8 1150.8L1216 1146L1211.2 1141.2L1206.4 1138L1201.6 1133.3M1117.6 1133.3L1124 1141.2L1126.4 1150.8L1132 1157.2L1136.8 1165.2L1140.8 1171.6L1144 1181.2L1144.8 1191.6M1178.4 1135.6L1181.6 1137.2L1188 1136.4L1192 1133.3M1145.6 1193.2L1150 1195L1160 1194.8L1169.6 1194L1178.9 1193.2L1180 1195.6L1176.8 1202L1173.6 1208.4L1169.6 1216.4L1164.8 1222.8L1160 1229.2L1154.4 1235.6L1146.4 1243.6L1138.4 1251.6L1132 1258L1128.8 1264.4L1125.6 1270.8L1128.8 1275.6L1127.2 1280.4L1130.4 1288.4L1132 1296.4L1132.8 1304.4L1133.6 1309.2L1128.8 1314L1122.4 1318.8L1116 1325.2L1111.2 1330.8L1107.2 1334.8L1110.4 1341.2L1111.2 1347.6L1109.6 1355.3M1098.4 1242.8L1104 1243.6L1104.8 1248.4L1101.6 1254.8L1096 1255.6L1093.6 1251.6L1095.2 1245.2ZM1014.4 1182.8L1023.2 1186L1018.4 1190ZM1145.6 1355.3L1144.8 1347.6L1144 1341.2L1148 1334.8L1149.6 1328.4L1148 1322L1149.6 1315.6L1157.6 1310.8L1163.2 1306L1167.2 1299.6L1170.4 1296.4L1173.6 1299.6L1175.6 1306.5L1174 1313L1171.6 1320.5L1169.2 1330L1166 1339.5L1162.8 1350L1161.2 1355.3M1246.4 1133.3L1251.2 1138.8L1256 1144.4L1260.8 1143.6L1256 1146L1262.4 1151.6L1268.8 1149.2L1270.4 1155.6L1272 1165.2L1275.2 1173.2L1278.4 1181.2L1281.6 1189.2L1284.8 1197.2L1288 1203.6L1292 1209.2L1296 1206.8L1300.8 1200.4L1302.4 1194L1301.6 1186L1302.4 1178L1307.2 1174L1312 1169.2L1318.4 1164.4L1324.8 1158.8L1331.2 1154L1333.6 1149.2L1337.6 1146.8L1344 1147.6L1352 1144.4L1354.4 1149.2L1358.4 1155.6L1363.2 1160.4L1364.8 1168.4L1364 1174L1369.6 1174.8L1376 1170.8L1379.2 1176.4L1381.6 1184.4L1383.2 1192.4L1382.4 1198.8L1381.6 1206L1384 1210L1387.2 1216.4L1390.4 1224.4L1395.2 1232.4L1400 1237.2L1404.8 1240.4L1407.2 1235.6L1403.2 1229.2L1404 1221.2L1398.4 1216.4L1392 1211.6L1387.2 1205.2L1385.6 1198.8L1387.2 1190.8L1390.4 1186L1395.2 1189.2L1400 1194L1406.4 1197.2L1408.8 1205.2L1414.4 1203.6L1419.2 1198.8L1425.6 1194L1428.8 1184.4L1425.6 1176.4L1420.8 1170L1416 1165.2L1412.8 1160.4L1414.4 1154L1420.8 1149.2L1428.8 1147.6L1432 1150.8L1441.6 1146L1448 1144.4L1454.4 1141.2L1460.8 1138.8L1465.6 1135.6L1468.8 1133.3M1302.4 1205.2L1305.6 1202L1308.8 1208.4L1311.2 1214.8L1307.2 1218L1303.2 1218.8L1301.6 1213.2ZM1368 1221.2L1374.4 1220.4L1379.2 1222L1384 1229.2L1390.4 1237.2L1396.8 1245.2L1403.2 1251.6L1409.6 1258L1414.4 1266L1413.6 1272.4L1409.6 1269.2L1403.2 1262.8L1396.8 1256.4L1392 1248.4L1387.2 1240.4L1382.4 1234L1376 1227.6L1369.6 1223.6ZM1411.5 1269.5L1425 1271L1438.5 1273L1450 1275.5L1461 1278L1475 1279L1488 1279.5L1489 1282L1479 1286L1470 1285L1461 1283.5L1447 1281.5L1434 1279L1422 1276.5L1413.3 1273.8ZM1460.8 1215.6L1465.6 1219.6L1471.2 1222.8L1467.2 1229.2L1468.8 1235.6L1471.2 1240.4L1467.2 1245.2L1464 1251.6L1460.8 1258L1452.8 1262L1448 1258L1441.6 1256.4L1435.2 1254.8L1432 1250L1430.4 1243.6L1427.2 1238.8L1430.4 1234.8L1436.8 1234L1441.6 1229.2L1448 1224.4L1454.4 1219.6ZM1480 1134L1483.2 1137.2L1481.6 1142.8L1478.4 1146.8L1476 1142.8L1475.2 1138ZM1478.4 1162.8L1484.8 1163.6L1485.6 1169.2L1482.4 1176.4L1484 1182L1489.6 1182.8L1494.4 1187.6L1492.8 1191.6L1488 1190L1483.2 1190.8L1479.2 1187.6L1476.8 1182.8L1474.4 1176.4L1474.4 1170L1476 1165.2ZM1486.4 1192.4L1492.8 1190.8L1497.6 1192.4L1500 1197.2L1499.2 1202.8L1501.6 1205.2L1502.4 1211.6L1501.6 1217.2L1497.6 1218.8L1493.6 1216.4L1491.2 1213.2L1496 1210L1495.2 1206L1491.2 1205.2L1487.2 1203.6L1484.8 1198.8ZM1488 1195.6L1491.2 1198.8L1489.6 1203.6L1492.8 1202M1494.4 1194.8L1496.8 1199.6L1495.2 1203.6M1474.4 1242L1480 1238.8L1488 1240.4L1494.4 1237.2L1497.6 1238.8L1492.8 1242.8L1486.4 1244.4L1480 1245.2L1478.4 1249.2L1483.2 1248.4L1489.6 1247.6L1486.4 1250.8L1481.6 1252.4L1482.4 1258L1486.4 1262.8L1488 1267.6L1484 1265.2L1480 1259.6L1477.6 1254.8L1476 1259.6L1477.6 1266L1476 1269.2L1472 1267.6L1471.2 1261.2L1472 1253.2L1471.2 1246.8ZM1507.2 1234.8L1510.4 1237.2L1509.6 1243.6L1511.2 1248.4L1508 1249.2L1506.4 1243.6L1505.9 1238.8ZM1492 1280.5L1498 1279.2L1504 1277.6L1505 1279.4L1499 1281.6L1493 1283ZM1489.6 1288.4L1494.4 1284.4L1500.8 1281.2L1504.8 1278.8L1505.6 1281.2L1500.8 1284.4L1495.2 1287.6L1490.4 1290ZM1519.2 1245.2L1524.8 1246L1529.6 1246.8L1534.4 1249.2L1536 1253.2L1531.2 1256.4L1526.4 1254L1523.2 1250ZM1536 1253.2L1539.2 1256.4L1544 1254.8L1548.8 1251.6L1555.2 1250.8L1561.6 1253.2L1568 1255.6L1576 1258L1582.4 1261.2L1585.6 1266L1590.4 1268.4L1596.8 1267.6L1603.2 1266.8L1608 1266L1612 1261.2L1609.6 1258L1607.2 1256.4L1612.8 1258L1617.6 1261.2L1616 1264.4L1609.6 1267.6L1603.2 1270L1596.8 1270.8L1592 1274L1595.2 1278.8L1600 1283.6L1604.8 1287.6L1607.2 1290.8L1601.6 1289.2L1596 1285.2L1590.4 1280.4L1585.6 1277.2L1580.8 1275.6L1577.6 1278.8L1574.4 1283.6L1569.6 1284.4L1564.8 1282L1560 1278.8L1555.2 1279.6L1551.2 1280.4L1553.6 1275.6L1555.2 1271.6L1552 1267.6L1547.2 1265.2L1542.4 1263.6L1537.6 1261.2L1532.8 1259.6L1528.8 1258L1531.2 1256.4M1480 1330L1472 1332.4L1464 1334.8L1457.6 1338L1451.2 1341.2L1448 1346L1446.4 1350.8L1447 1355.3M1476.8 1330L1483.2 1326.8L1484.8 1320.4L1489.6 1315.6L1494.4 1310.8L1499.2 1306L1505.6 1304.4L1510.4 1309.2L1516 1307.6L1518.4 1299.6L1521.6 1294.8L1527.2 1294L1536 1295.6L1544 1297.2L1547.2 1299.6L1544 1304.4L1542.4 1309.2L1545.6 1314L1552 1317.2L1558.4 1321.2L1563.2 1322L1567.2 1315.6L1568 1306L1569.6 1296.4L1571.2 1290.8L1573.6 1293.2L1576 1301.2L1579.2 1307.6L1584 1310.8L1585.6 1317.2L1588.8 1324.4L1593.6 1330L1598.4 1334.8L1603.2 1341.2L1608 1347.6L1612 1352.4L1614.4 1355.3" stroke="#000" stroke-width="2.6" fill="none" stroke-linejoin="round" stroke-linecap="round"/>
<path d="M267.2 1147.6L273.6 1146" stroke="#000" stroke-width="3.5" fill="none" stroke-linejoin="round" stroke-linecap="round"/>
<path d="M1083.2 1258.8L1084 1266L1087.2 1274L1091.2 1282" stroke="#000" stroke-width="3.3" fill="none" stroke-linejoin="round" stroke-linecap="round"/>
<path d="M1104.8 1286.8L1106.4 1294.8L1108 1302.8L1109.6 1306.8" stroke="#000" stroke-width="3.3" fill="none" stroke-linejoin="round" stroke-linecap="round"/>
<path d="M1357.6 1186.8L1358.4 1193.2" stroke="#000" stroke-width="3.5" fill="none" stroke-linejoin="round" stroke-linecap="round"/>
<path d="M1464.8 1205.2L1473.6 1196.4" stroke="#000" stroke-width="3.7" fill="none" stroke-linejoin="round" stroke-linecap="round"/>
<path d="M1494.5 1252L1498 1252" stroke="#000" stroke-width="3.0" fill="none" stroke-linejoin="round" stroke-linecap="round"/>
<path d="M1536 1268.5L1535.5 1273" stroke="#000" stroke-width="3.1" fill="none" stroke-linejoin="round" stroke-linecap="round"/>
<path d="M1523.6 1274.5L1522.8 1278.4" stroke="#000" stroke-width="3.1" fill="none" stroke-linejoin="round" stroke-linecap="round"/>
<path d="M1624 1267.6L1627.2 1272.4L1632 1275.6" stroke="#000" stroke-width="3.3" fill="none" stroke-linejoin="round" stroke-linecap="round"/>
<path d="M1641.6 1277.2L1648 1281.2L1652.8 1285.2L1656.8 1290.8" stroke="#000" stroke-width="3.5" fill="none" stroke-linejoin="round" stroke-linecap="round"/>
<path d="M1644.8 1285.2L1649.6 1287.6" stroke="#000" stroke-width="3.1" fill="none" stroke-linejoin="round" stroke-linecap="round"/>
<path d="M1676 1309.2L1680 1317.2" stroke="#000" stroke-width="3.3" fill="none" stroke-linejoin="round" stroke-linecap="round"/>
<path d="M1762.5 1302L1767 1304" stroke="#000" stroke-width="2.9" fill="none" stroke-linejoin="round" stroke-linecap="round"/>
<ellipse cx="314.4" cy="1321.2" rx="1.6" ry="1.6" fill="#000"/>
<ellipse cx="564.8" cy="1246" rx="1.8" ry="2.6" fill="#000"/>
<ellipse cx="625.6" cy="1164.9" rx="4" ry="2" fill="none" stroke="#000" stroke-width="2.4"/>
<ellipse cx="671.2" cy="1164.4" rx="4.5" ry="2" fill="none" stroke="#000" stroke-width="2.4"/>
<ellipse cx="661.6" cy="1163.6" rx="1.8" ry="1.5" fill="#000"/>
<ellipse cx="621.6" cy="1136.4" rx="1.6" ry="1.6" fill="#000"/>
<ellipse cx="633.6" cy="1139.6" rx="1.6" ry="1.6" fill="#000"/>
<ellipse cx="638.4" cy="1144.4" rx="1.6" ry="1.6" fill="#000"/>
<ellipse cx="643.2" cy="1150.8" rx="1.6" ry="1.6" fill="#000"/>
<ellipse cx="648" cy="1147.6" rx="1.6" ry="1.6" fill="#000"/>
<ellipse cx="606.4" cy="1134.8" rx="1.6" ry="1.6" fill="#000"/>
<ellipse cx="627" cy="1138" rx="1.6" ry="1.6" fill="#000"/>
<ellipse cx="692.8" cy="1173.2" rx="1.6" ry="1.6" fill="#000"/>
<ellipse cx="695.2" cy="1180.4" rx="1.6" ry="1.6" fill="#000"/>
<ellipse cx="694" cy="1198.8" rx="1.6" ry="1.6" fill="#000"/>
<ellipse cx="1196.8" cy="1337.2" rx="2" ry="1.6" fill="#000"/>
<ellipse cx="1205.6" cy="1333.2" rx="2" ry="1.6" fill="#000"/>
<ellipse cx="1430.4" cy="1159.6" rx="5.5" ry="4.5" fill="none" stroke="#000" stroke-width="2.4"/>
<ellipse cx="1372" cy="1233.2" rx="2" ry="1.5" fill="#000" transform="rotate(30 1372 1233.2)"/>
<ellipse cx="1378.4" cy="1239.6" rx="2.2" ry="1.6" fill="#000" transform="rotate(40 1378.4 1239.6)"/>
<ellipse cx="1384" cy="1250" rx="2.2" ry="1.6" fill="#000" transform="rotate(50 1384 1250)"/>
<ellipse cx="1416" cy="1256.4" rx="2" ry="1.8" fill="#000"/>
<ellipse cx="1422.4" cy="1256.4" rx="2" ry="1.6" fill="#000"/>
<ellipse cx="1503.2" cy="1259.3" rx="2.5" ry="2" fill="#000"/>
<ellipse cx="1515.2" cy="1258" rx="5.5" ry="2" fill="none" stroke="#000" stroke-width="2.4"/>
<ellipse cx="1542.4" cy="1248.4" rx="2" ry="2" fill="#000"/>
<ellipse cx="1590.4" cy="1252.9" rx="1.8" ry="1.6" fill="#000"/>
<ellipse cx="1473.6" cy="1286" rx="4" ry="2" fill="none" stroke="#000" stroke-width="2.4"/>
<ellipse cx="1635.2" cy="1279.6" rx="1.6" ry="1.4" fill="#000"/>
<ellipse cx="1671.6" cy="1338.8" rx="9" ry="2.2" fill="none" stroke="#000" stroke-width="2.4" transform="rotate(35 1671.6 1338.8)"/>
<ellipse cx="1724" cy="1322" rx="3" ry="2.4" fill="none" stroke="#000" stroke-width="2.4"/>
<ellipse cx="1730" cy="1316.4" rx="2" ry="1.4" fill="#000"/>
<path d="M260.6 1285.2L263.6 1285.7L266.6 1286.2L269.6 1286.7L272.6 1287.2L275.6 1287.7L278.6 1288.2L281.6 1288.6L284.6 1289.1L287.6 1289.5L290.6 1290L293.6 1290.4L296.6 1290.9L299.6 1291.3L302.6 1291.7L305.6 1292.1L308.6 1292.5L311.6 1292.9L314.6 1293.3L317.6 1293.7L320.6 1294L323.6 1294.4L326.6 1294.7L329.6 1295.1L332.6 1295.4L335.6 1295.7L338.6 1296.1L341.6 1296.4L344.6 1296.7L347.6 1296.9L350.6 1297.2L353.6 1297.5L356.6 1297.8L359.6 1298L362.6 1298.2L365.6 1298.5L368.6 1298.7L371.6 1298.9L374.6 1299.1L377.6 1299.3L380.6 1299.5L383.6 1299.7L386.6 1299.8L389.6 1300L392.6 1300.1L395.6 1300.3L398.6 1300.4L401.6 1300.5L404.6 1300.6L407.6 1300.7L410.6 1300.8L413.6 1300.9L416.6 1301L419.6 1301L422.6 1301.1L425.6 1301.1L428.6 1301.1L431.6 1301.2L434.6 1301.2L437.6 1301.2L440.6 1301.2L443.6 1301.1L446.6 1301.1L449.6 1301.1L452.6 1301L455.6 1301L458.6 1300.9L461.6 1300.8L464.6 1300.7L467.6 1300.6L470.6 1300.5L473.6 1300.4L476.6 1300.3L479.6 1300.1L482.6 1300L485.6 1299.8L488.6 1299.7L491.6 1299.5L494.6 1299.3L497.6 1299.1L500.6 1298.9L503.6 1298.7L506.6 1298.5L509.6 1298.2L512.6 1298L515.6 1297.7L518.6 1297.5L521.6 1297.2L524.6 1296.9L527.6 1296.6L530.6 1296.3L533.6 1296L536.6 1295.7L539.6 1295.4L542.6 1295.1L545.6 1294.7L548.6 1294.4L551.6 1294L554.6 1293.6L557.6 1293.3L560.6 1292.9L563.6 1292.5L566.6 1292.1L569.6 1291.7L572.6 1291.3L575.6 1290.8L578.6 1290.4L581.6 1290L584.6 1289.5L587.6 1289L590.6 1288.6L593.6 1288.1L596.6 1287.6L599.6 1287.1L602.6 1286.6L605.6 1286.1L608.6 1285.6L611.6 1285.1L614.6 1284.6L617.6 1284.1L620.6 1283.5L623.6 1283L626.6 1282.4L629.6 1281.9L632.6 1281.3L635.6 1280.7L638.6 1280.1L641.6 1279.6L644.6 1279L647.6 1278.4L650.6 1277.8L653.6 1277.2L656.6 1276.6L659.6 1275.9L662.6 1275.3L665.6 1274.7L668.6 1274L671.6 1273.4L674.6 1272.8L677.6 1272.1L680.6 1271.5L683.6 1270.8L686.6 1270.1L689.6 1269.5L692.6 1268.8L695.6 1268.1L698.6 1267.4L701.6 1266.8L704.6 1266.1L707.6 1265.4L710.6 1264.7L713.6 1264L716.6 1263.3L719.6 1262.6L722.6 1261.9L725.6 1261.1L728.6 1260.4L731.6 1259.7L734.6 1259L737.6 1258.3L740.6 1257.5L743.6 1256.8L746.6 1256.1L749.6 1255.3L752.6 1254.6L755.6 1253.9L758.6 1253.1L761.6 1252.4L764.6 1251.7L767.6 1250.9L770.6 1250.2L773.6 1249.4L776.6 1248.7L779.6 1247.9L782.6 1247.2L785.6 1246.4L788.6 1245.7L791.6 1244.9L794.6 1244.2L797.6 1243.5L800.6 1242.7L803.6 1242L804 1241.9M912 1244.4L915 1243.7L918 1242.9L921 1242.2L924 1241.4L927 1240.7L930 1239.9L933 1239.2L936 1238.4L939 1237.7L942 1236.9L945 1236.2L948 1235.5L951 1234.7L954 1234L957 1233.3L960 1232.5L963 1231.8L966 1231.1L969 1230.3L972 1229.6L975 1228.9L978 1228.2L981 1227.5L984 1226.8L987 1226L990 1225.3L993 1224.6L996 1223.9L999 1223.2L1002 1222.6L1005 1221.9L1008 1221.2L1011 1220.5L1014 1219.8L1017 1219.2L1020 1218.5L1023 1217.8L1026 1217.2L1029 1216.5L1032 1215.9L1035 1215.2L1038 1214.6L1041 1213.9L1044 1213.3L1047 1212.7L1050 1212.1L1053 1211.5L1056 1210.9L1059 1210.3L1062 1209.7L1065 1209.1L1068 1208.5L1071 1207.9L1074 1207.4L1077 1206.8L1080 1206.2L1083 1205.7L1086 1205.1L1089 1204.6L1092 1204.1L1095 1203.6L1098 1203L1101 1202.5L1104 1202L1107 1201.5L1110 1201L1113 1200.6L1116 1200.1L1119 1199.6L1122 1199.2L1125 1198.7L1128 1198.3L1131 1197.9L1134 1197.4L1137 1197L1140 1196.6L1143 1196.2L1146 1195.8L1149 1195.4L1152 1195.1L1155 1194.7L1158 1194.3L1161 1194L1164 1193.7L1167 1193.3L1170 1193L1173 1192.7L1176 1192.4L1179 1192.1L1182 1191.8L1185 1191.5L1188 1191.3L1191 1191L1194 1190.8L1197 1190.5L1200 1190.3L1203 1190.1L1206 1189.9L1209 1189.7L1212 1189.5L1215 1189.3L1218 1189.1L1221 1188.9L1224 1188.8L1227 1188.6L1230 1188.5L1233 1188.4L1236 1188.3L1239 1188.2L1242 1188.1L1245 1188L1248 1187.9L1251 1187.8L1254 1187.8L1257 1187.7L1260 1187.7L1263 1187.7L1266 1187.6L1269 1187.6L1272 1187.6L1275 1187.7L1278 1187.7L1281 1187.7L1284 1187.7L1287 1187.8L1290 1187.9L1293 1187.9L1296 1188L1299 1188.1L1302 1188.2L1305 1188.3L1308 1188.4L1311 1188.6L1314 1188.7L1317 1188.8L1320 1189L1323 1189.2L1326 1189.4L1329 1189.5L1332 1189.7L1335 1189.9L1338 1190.2L1341 1190.4L1344 1190.6L1347 1190.9L1350 1191.1L1353 1191.4L1356 1191.6L1359 1191.9L1362 1192.2L1365 1192.5L1368 1192.8L1371 1193.1L1374 1193.5L1377 1193.8L1380 1194.1L1383 1194.5L1386 1194.9L1389 1195.2L1392 1195.6L1395 1196L1398 1196.4L1401 1196.8L1404 1197.2L1407 1197.6L1410 1198L1413 1198.5L1416 1198.9L1419 1199.4L1422 1199.8L1425 1200.3L1428 1200.8L1431 1201.3L1434 1201.7L1437 1202.2L1440 1202.7L1443 1203.3L1446 1203.8L1449 1204.3L1452 1204.8L1455 1205.4L1458 1205.9L1461 1206.5L1464 1207L1467 1207.6L1470 1208.2L1473 1208.7L1476 1209.3L1479 1209.9L1482 1210.5L1485 1211.1L1488 1211.7L1491 1212.3L1494 1213L1497 1213.6L1500 1214.2L1503 1214.9L1506 1215.5L1509 1216.1L1512 1216.8L1515 1217.4L1518 1218.1L1521 1218.8L1524 1219.4L1527 1220.1L1530 1220.8L1533 1221.5L1536 1222.2L1539 1222.9L1542 1223.5L1545 1224.2L1548 1224.9L1551 1225.6L1554 1226.4L1557 1227.1L1560 1227.8L1563 1228.5L1566 1229.2L1569 1229.9L1572 1230.7L1575 1231.4L1578 1232.1L1581 1232.8L1584 1233.6L1587 1234.3L1590 1235L1593 1235.8L1596 1236.5L1599 1237.3L1602 1238L1605 1238.8L1608 1239.5L1611 1240.2L1614 1241L1617 1241.7L1620 1242.5L1623 1243.2L1626 1244L1629 1244.7L1632 1245.5L1635 1246.2L1638 1247L1641 1247.7L1644 1248.5L1647 1249.2L1650 1249.9L1653 1250.7L1656 1251.4L1659 1252.2L1662 1252.9L1665 1253.7L1668 1254.4L1671 1255.1L1674 1255.9L1677 1256.6L1680 1257.3L1683 1258L1686 1258.8L1689 1259.5L1692 1260.2L1695 1260.9L1698 1261.6L1701 1262.3L1704 1263.1L1707 1263.8L1710 1264.5L1713 1265.2L1716 1265.9L1719 1266.5L1722 1267.2L1725 1267.9L1728 1268.6L1731 1269.3L1734 1269.9L1737 1270.6L1740 1271.3L1743 1271.9L1746 1272.6L1749 1273.2L1752 1273.9L1755 1274.5L1758 1275.1L1761 1275.7L1764 1276.4L1767 1277L1770 1277.6L1773 1278.2L1776 1278.8L1779 1279.4L1782 1280L1785 1280.6L1788 1281.1L1791 1281.7L1794 1282.3L1797 1282.8L1800 1283.4L1803 1283.9L1806 1284.4L1809 1285L1810.4 1285.2" stroke="#c81818" stroke-width="1.3" fill="none"/>
<path d="M258.6 1242.6L262 1243.2L440 1267L569 1289.5L608 1295.6L628.8 1297.7L635.2 1297.2L656 1291.6L680 1286L700.8 1281.2L720 1272.4L744 1259.6L768 1245.2L792 1231.6L816 1219.6L832 1213.2L856 1207.6L888.8 1199.6L908 1197.2L956 1195.6L1004 1197.2L1036 1199.6L1068 1203.6L1100 1206.8L1132 1210.8L1148 1212.4L1180 1212.9L1264 1211.6L1292.8 1211.6L1304 1209.2L1336 1208.7L1416 1208.7L1460 1210L1504 1210L1512 1208.7L1552 1209.2L1600 1211.6L1648 1218L1696 1226L1760 1235.6L1812.4 1242.6" stroke="#00f000" stroke-width="5.3" fill="none" stroke-linejoin="round"/>
<path d="M704.6 1266.1L715.6 1263.5M718.6 1262.8L729.6 1260.2M732.6 1259.5L743.6 1256.8M746.6 1256.1L757.6 1253.4M760.6 1252.6L771.6 1249.9M774.6 1249.2L785.6 1246.4M788.6 1245.7L799.6 1243M912.8 1244.2L923.8 1241.5M926.8 1240.7L937.8 1238M940.8 1237.2L951.8 1234.5M954.8 1233.8L965.8 1231.1M968.8 1230.4L979.8 1227.8M982.8 1227L993.8 1224.5M996.8 1223.8L1007.8 1221.2M1010.8 1220.5L1021.8 1218.1M1024.8 1217.4L1035.8 1215.1M1038.8 1214.4L1049.8 1212.1M1052.8 1211.5L1063.8 1209.3M1066.8 1208.7L1077.8 1206.6M1080.8 1206.1L1091.8 1204.1M1094.8 1203.6L1105.8 1201.7M1108.8 1201.2L1119.8 1199.5M1122.8 1199.1L1133.8 1197.5M1136.8 1197L1147.8 1195.6M1150.8 1195.2L1161.8 1193.9M1164.8 1193.6L1175.8 1192.4M1178.8 1192.1L1189.8 1191.1M1192.8 1190.9L1203.8 1190M1206.8 1189.8L1217.8 1189.1M1220.8 1188.9L1231.8 1188.4M1234.8 1188.3L1245.8 1188M1248.8 1187.9L1259.8 1187.7M1262.8 1187.7L1273.8 1187.6M1276.8 1187.7L1287.8 1187.8M1290.8 1187.9L1301.8 1188.2M1304.8 1188.3L1315.8 1188.8M1318.8 1188.9L1326.3 1189.4" stroke="#f50a0a" stroke-width="13" fill="none"/>
<path d="M804 1238.6V1250" stroke="#d81818" stroke-width="1.4"/>
<path d="M279.8 1226.6L281.7 1232.2L287.7 1232.3L282.9 1235.9L284.7 1241.6L279.8 1238.2L274.9 1241.6L276.7 1235.9L271.9 1232.3L277.9 1232.2ZM626.8 1288.3L628.7 1293.9L634.7 1294L629.9 1297.6L631.7 1303.3L626.8 1299.9L621.9 1303.3L623.7 1297.6L618.9 1294L624.9 1293.9ZM767.2 1246.3L769.1 1251.9L775.1 1252L770.3 1255.6L772.1 1261.3L767.2 1257.9L762.3 1261.3L764.1 1255.6L759.3 1252L765.3 1251.9ZM1580.9 1177L1582.8 1182.6L1588.8 1182.7L1584 1186.3L1585.8 1192L1580.9 1188.6L1576 1192L1577.8 1186.3L1573 1182.7L1579 1182.6ZM1679 1195.1L1680.9 1200.7L1686.9 1200.8L1682.1 1204.4L1683.9 1210.1L1679 1206.7L1674.1 1210.1L1675.9 1204.4L1671.1 1200.8L1677.1 1200.7Z" stroke="#c814c8" stroke-width="1.1" fill="none"/>
<path d="M260.6 952.5h16M260.6 891.1h8M260.6 855.1h8M260.6 829.6h8M260.6 809.9h8M260.6 793.7h8M260.6 780h8M260.6 768.2h8M260.6 757.8h8M260.6 748.4h16M260.6 687h8M260.6 651.1h8M260.6 625.6h8M260.6 605.8h8M260.6 589.6h8M260.6 576h8M260.6 564.1h8M260.6 553.7h8M260.6 544.4h16M260.6 482.9h8M260.6 447h8M260.6 421.5h8M260.6 401.7h8M260.6 385.5h8M260.6 371.9h8M260.6 360.1h8M260.6 349.6h8M260.6 340.3h16M260.6 278.8h8M260.6 242.9h8M260.6 217.4h8M260.6 197.6h8M260.6 181.5h8M260.6 167.8h8M260.6 156h8M260.6 145.5h8M260.6 135.3h16M440.4 952.5v-16M621.6 952.5v-16M803.3 952.5v-16M1088.3 952.5v-16M1269.6 952.5v-16M1449.9 952.5v-16M1630.3 952.5v-16M260.6 134.7V952.5H1810.4" stroke="#000" stroke-width="1.35" fill="none"/>
<path d="M276.6 135.3H1810.4V953.1M1810.4 911h-16M1810.4 829.3h-16M1810.4 747.7h-16M1810.4 666h-16M1810.4 584.3h-16M1810.4 502.7h-16M1810.4 421h-16M1810.4 339.3h-16M1810.4 257.7h-16M1810.4 176h-16" stroke="#1a1a9c" stroke-width="1.35" fill="none"/>
<path d="M260.6 975h8M1810.4 975h-8M260.6 979.9h8M1810.4 979.9h-8M260.6 984h8M1810.4 984h-8M260.6 987.4h8M1810.4 987.4h-8M260.6 990.4h8M1810.4 990.4h-8M260.6 993h8M1810.4 993h-8M260.6 995.3h16M1810.4 995.3h-16M260.6 1010.7h8M1810.4 1010.7h-8M260.6 1019.6h8M1810.4 1019.6h-8M260.6 1026h8M1810.4 1026h-8M260.6 1030.9h8M1810.4 1030.9h-8M260.6 1035h8M1810.4 1035h-8M260.6 1038.4h8M1810.4 1038.4h-8M260.6 1041.4h8M1810.4 1041.4h-8M260.6 1044h8M1810.4 1044h-8M260.6 1046.3h16M1810.4 1046.3h-16M260.6 1061.7h8M1810.4 1061.7h-8M260.6 1070.6h8M1810.4 1070.6h-8M260.6 1077h8M1810.4 1077h-8M260.6 1081.9h8M1810.4 1081.9h-8M260.6 1086h8M1810.4 1086h-8M260.6 1089.4h8M1810.4 1089.4h-8M260.6 1092.4h8M1810.4 1092.4h-8M260.6 1095h8M1810.4 1095h-8M260.6 1097.3h16M1810.4 1097.3h-16M260.6 1112.7h8M1810.4 1112.7h-8M440.4 969.5v15M440.4 1122.1v-15M1449.9 969.5v15M1449.9 1122.1v-15M1630.3 969.5v15M1630.3 1122.1v-15M260.6 969.5H1810.4V1122.1H260.6Z" stroke="#000" stroke-width="1.35" fill="none"/>
<path d="M260.6 1179.4h16M1810.4 1179.4h-16M260.6 1244.4h16M1810.4 1244.4h-16M260.6 1309.4h16M1810.4 1309.4h-16M440.4 1133.3v15M440.4 1355.3v-15M621.6 1133.3v15M621.6 1355.3v-15M803.3 1133.3v15M803.3 1355.3v-15M1088.3 1133.3v15M1088.3 1355.3v-15M1269.6 1133.3v15M1269.6 1355.3v-15M1449.9 1133.3v15M1449.9 1355.3v-15M1630.3 1133.3v15M1630.3 1355.3v-15M260.6 1133.3H1810.4V1355.3H260.6Z" stroke="#000" stroke-width="1.35" fill="none"/>
<g opacity="0.999"><text x="1034" y="113.6" font-size="28" font-weight="bold" text-anchor="middle" textLength="587" lengthAdjust="spacingAndGlyphs" style="white-space:pre">Day 226  14-Aug-2011 21:52:11   orbit 18062</text>
<text x="210.2" y="962.1" font-size="28.0" text-anchor="start" fill="#000">10</text>
<text x="242.4" y="944.9" font-size="17.5" text-anchor="start" fill="#000">3</text>
<text x="210.2" y="758" font-size="28.0" text-anchor="start" fill="#000">10</text>
<text x="242.4" y="740.8" font-size="17.5" text-anchor="start" fill="#000">4</text>
<text x="210.2" y="554" font-size="28.0" text-anchor="start" fill="#000">10</text>
<text x="242.4" y="536.8" font-size="17.5" text-anchor="start" fill="#000">5</text>
<text x="210.2" y="349.9" font-size="28.0" text-anchor="start" fill="#000">10</text>
<text x="242.4" y="332.7" font-size="17.5" text-anchor="start" fill="#000">6</text>
<text x="210.2" y="145.8" font-size="28.0" text-anchor="start" fill="#000">10</text>
<text x="242.4" y="128.6" font-size="17.5" text-anchor="start" fill="#000">7</text>
<text x="1818.4" y="920.7" font-size="28.0" text-anchor="start" fill="#1414c8" letter-spacing="0.4">400</text>
<text x="1818.4" y="839" font-size="28.0" text-anchor="start" fill="#1414c8" letter-spacing="0.4">450</text>
<text x="1818.4" y="757.4" font-size="28.0" text-anchor="start" fill="#1414c8" letter-spacing="0.4">500</text>
<text x="1818.4" y="675.7" font-size="28.0" text-anchor="start" fill="#1414c8" letter-spacing="0.4">550</text>
<text x="1818.4" y="594" font-size="28.0" text-anchor="start" fill="#1414c8" letter-spacing="0.4">600</text>
<text x="1818.4" y="512.4" font-size="28.0" text-anchor="start" fill="#1414c8" letter-spacing="0.4">650</text>
<text x="1818.4" y="430.7" font-size="28.0" text-anchor="start" fill="#1414c8" letter-spacing="0.4">700</text>
<text x="1818.4" y="349" font-size="28.0" text-anchor="start" fill="#1414c8" letter-spacing="0.4">750</text>
<text x="1818.4" y="267.4" font-size="28.0" text-anchor="start" fill="#1414c8" letter-spacing="0.4">800</text>
<text x="1818.4" y="185.7" font-size="28.0" text-anchor="start" fill="#1414c8" letter-spacing="0.4">850</text>
<text x="204.3" y="1004.7" font-size="28.0" text-anchor="start" fill="#000">10</text>
<text x="235.8" y="987.7" font-size="17.5" text-anchor="start" fill="#000">-1</text>
<text x="204.3" y="1055.7" font-size="28.0" text-anchor="start" fill="#000">10</text>
<text x="236.4" y="1038.7" font-size="17.5" text-anchor="start" fill="#000">0</text>
<text x="204.3" y="1106.7" font-size="28.0" text-anchor="start" fill="#000">10</text>
<text x="236.4" y="1089.7" font-size="17.5" text-anchor="start" fill="#000">1</text>
<text x="250.4" y="1192.3" font-size="28.0" text-anchor="end"><tspan>15</tspan><tspan font-size="22" dy="-12.4">o</tspan><tspan dy="12.4">N</tspan></text>
<text x="242.6" y="1257.3" font-size="28.0" text-anchor="end"><tspan>0</tspan><tspan font-size="22" dy="-12.4">o</tspan></text>
<text x="250.4" y="1322.3" font-size="28.0" text-anchor="end"><tspan>15</tspan><tspan font-size="22" dy="-12.4">o</tspan><tspan dy="12.4">S</tspan></text>
<text x="1500.5" y="843.2" font-size="28.0" text-anchor="start" fill="#0a0ad8">Eclipse</text>
<text x="1500.5" y="884.6" font-size="28.0" text-anchor="start" fill="#000">One Minute Average</text>
<text x="1500.5" y="926" font-size="28.0" text-anchor="start" fill="#00e600">One Second Average</text>
<text transform="translate(178.9 597.6) rotate(-90)" font-size="28.0"><tspan>N</tspan><tspan font-size="21.5" dy="13.5">i</tspan><tspan dy="-13.5"> (cm</tspan><tspan font-size="21.5" dy="-12.4">-3</tspan><tspan dy="12.4">)</tspan></text>
<text transform="translate(1900.6 545.6) rotate(-90)" font-size="28.0" text-anchor="middle" fill="#1414c8">alt (km)</text>
<text transform="translate(186.4 1046.4) rotate(-90)" font-size="28.0" text-anchor="middle">Wavelength (km)</text>
<text transform="translate(1900 1664.4) rotate(-90)" font-size="22.2" textLength="394" lengthAdjust="spacingAndGlyphs" style="white-space:pre">Preliminary corrected calibration,  2/11/09</text>
<text transform="translate(1924.7 1664.4) rotate(-90)" font-size="22.2" textLength="313" lengthAdjust="spacingAndGlyphs">Produced 12-Sep-2011 12:34:15</text>
<text x="255.8" y="1409.4" font-size="28.0" text-anchor="middle" fill="#000">GLON</text>
<text x="440" y="1409.4" font-size="28.0" text-anchor="middle" fill="#000" letter-spacing="0.45">239.8</text>
<text x="621.2" y="1409.4" font-size="28.0" text-anchor="middle" fill="#000" letter-spacing="0.45">281.9</text>
<text x="802.9" y="1409.4" font-size="28.0" text-anchor="middle" fill="#000" letter-spacing="0.45">324.0</text>
<text x="1087.9" y="1409.4" font-size="28.0" text-anchor="middle" fill="#000" letter-spacing="0.45">030.3</text>
<text x="1269.2" y="1409.4" font-size="28.0" text-anchor="middle" fill="#000" letter-spacing="0.45">072.4</text>
<text x="1449.5" y="1409.4" font-size="28.0" text-anchor="middle" fill="#000" letter-spacing="0.45">114.3</text>
<text x="1629.9" y="1409.4" font-size="28.0" text-anchor="middle" fill="#000" letter-spacing="0.45">156.1</text>
<text x="1810" y="1409.4" font-size="28.0" text-anchor="middle" fill="#000" letter-spacing="0.45">197.9</text>
<text x="255.8" y="1450.2" font-size="28.0" text-anchor="middle" fill="#000">GLAT</text>
<text x="440" y="1450.2" font-size="28.0" text-anchor="middle" fill="#000" letter-spacing="0.45">-13.1</text>
<text x="621.2" y="1450.2" font-size="28.0" text-anchor="middle" fill="#000" letter-spacing="0.45">-09.4</text>
<text x="802.9" y="1450.2" font-size="28.0" text-anchor="middle" fill="#000" letter-spacing="0.45">-00.1</text>
<text x="1087.9" y="1450.2" font-size="28.0" text-anchor="middle" fill="#000" letter-spacing="0.45">+09.2</text>
<text x="1269.2" y="1450.2" font-size="28.0" text-anchor="middle" fill="#000" letter-spacing="0.45">+13.1</text>
<text x="1449.5" y="1450.2" font-size="28.0" text-anchor="middle" fill="#000" letter-spacing="0.45">+09.4</text>
<text x="1629.9" y="1450.2" font-size="28.0" text-anchor="middle" fill="#000" letter-spacing="0.45">+00.1</text>
<text x="1810" y="1450.2" font-size="28.0" text-anchor="middle" fill="#000" letter-spacing="0.45">-09.2</text>
<text x="259.7" y="1491" font-size="28.0" text-anchor="middle" fill="#000">GALT</text>
<text x="443.9" y="1491" font-size="28.0" text-anchor="middle" fill="#000" letter-spacing="0.45">608</text>
<text x="625.1" y="1491" font-size="28.0" text-anchor="middle" fill="#000" letter-spacing="0.45">465</text>
<text x="806.8" y="1491" font-size="28.0" text-anchor="middle" fill="#000" letter-spacing="0.45">400</text>
<text x="1091.8" y="1491" font-size="28.0" text-anchor="middle" fill="#000" letter-spacing="0.45">453</text>
<text x="1273.1" y="1491" font-size="28.0" text-anchor="middle" fill="#000" letter-spacing="0.45">590</text>
<text x="1453.4" y="1491" font-size="28.0" text-anchor="middle" fill="#000" letter-spacing="0.45">737</text>
<text x="1633.8" y="1491" font-size="28.0" text-anchor="middle" fill="#000" letter-spacing="0.45">807</text>
<text x="1813.9" y="1491" font-size="28.0" text-anchor="middle" fill="#000" letter-spacing="0.45">750</text>
<text x="255.8" y="1531.9" font-size="28.0" text-anchor="middle" fill="#000">MLON</text>
<text x="440" y="1531.9" font-size="28.0" text-anchor="middle" fill="#000" letter-spacing="0.45">312.1</text>
<text x="621.2" y="1531.9" font-size="28.0" text-anchor="middle" fill="#000" letter-spacing="0.45">352.6</text>
<text x="802.9" y="1531.9" font-size="28.0" text-anchor="middle" fill="#000" letter-spacing="0.45">037.4</text>
<text x="1087.9" y="1531.9" font-size="28.0" text-anchor="middle" fill="#000" letter-spacing="0.45">101.7</text>
<text x="1269.2" y="1531.9" font-size="28.0" text-anchor="middle" fill="#000" letter-spacing="0.45">144.0</text>
<text x="1449.5" y="1531.9" font-size="28.0" text-anchor="middle" fill="#000" letter-spacing="0.45">185.1</text>
<text x="1629.9" y="1531.9" font-size="28.0" text-anchor="middle" fill="#000" letter-spacing="0.45">227.3</text>
<text x="1810" y="1531.9" font-size="28.0" text-anchor="middle" fill="#000" letter-spacing="0.45">270.2</text>
<text x="255.8" y="1572.7" font-size="28.0" text-anchor="middle" fill="#000">MLAT</text>
<text x="440" y="1572.7" font-size="28.0" text-anchor="middle" fill="#000" letter-spacing="0.45">-07.9</text>
<text x="621.2" y="1572.7" font-size="28.0" text-anchor="middle" fill="#000" letter-spacing="0.45">+03.0</text>
<text x="802.9" y="1572.7" font-size="28.0" text-anchor="middle" fill="#000" letter-spacing="0.45">+00.7</text>
<text x="1087.9" y="1572.7" font-size="28.0" text-anchor="middle" fill="#000" letter-spacing="0.45">-01.5</text>
<text x="1269.2" y="1572.7" font-size="28.0" text-anchor="middle" fill="#000" letter-spacing="0.45">+05.1</text>
<text x="1449.5" y="1572.7" font-size="28.0" text-anchor="middle" fill="#000" letter-spacing="0.45">+01.1</text>
<text x="1629.9" y="1572.7" font-size="28.0" text-anchor="middle" fill="#000" letter-spacing="0.45">-07.1</text>
<text x="1810" y="1572.7" font-size="28.0" text-anchor="middle" fill="#000" letter-spacing="0.45">-08.8</text>
<text x="255.8" y="1613.5" font-size="28.0" text-anchor="middle" fill="#000">UT</text>
<text x="440" y="1613.5" font-size="28.0" text-anchor="middle" fill="#000" letter-spacing="0.45">23:05</text>
<text x="621.2" y="1613.5" font-size="28.0" text-anchor="middle" fill="#000" letter-spacing="0.45">23:16</text>
<text x="802.9" y="1613.5" font-size="28.0" text-anchor="middle" fill="#000" letter-spacing="0.45">23:28</text>
<text x="1087.9" y="1613.5" font-size="28.0" text-anchor="middle" fill="#000" letter-spacing="0.45">22:03</text>
<text x="1269.2" y="1613.5" font-size="28.0" text-anchor="middle" fill="#000" letter-spacing="0.45">22:15</text>
<text x="1449.5" y="1613.5" font-size="28.0" text-anchor="middle" fill="#000" letter-spacing="0.45">22:27</text>
<text x="1629.9" y="1613.5" font-size="28.0" text-anchor="middle" fill="#000" letter-spacing="0.45">22:40</text>
<text x="1810" y="1613.5" font-size="28.0" text-anchor="middle" fill="#000" letter-spacing="0.45">22:53</text>
<text x="251.9" y="1654.3" font-size="28.0" text-anchor="middle" fill="#000">SLT</text>
<text x="440" y="1654.3" font-size="28.0" text-anchor="middle" fill="#000" letter-spacing="0.45">15:00</text>
<text x="621.2" y="1654.3" font-size="28.0" text-anchor="middle" fill="#000" letter-spacing="0.45">18:00</text>
<text x="802.9" y="1654.3" font-size="28.0" text-anchor="middle" fill="#000" letter-spacing="0.45">21:00</text>
<text x="1087.9" y="1654.3" font-size="28.0" text-anchor="middle" fill="#000" letter-spacing="0.45">00:00</text>
<text x="1269.2" y="1654.3" font-size="28.0" text-anchor="middle" fill="#000" letter-spacing="0.45">03:00</text>
<text x="1449.5" y="1654.3" font-size="28.0" text-anchor="middle" fill="#000" letter-spacing="0.45">06:00</text>
<text x="1629.9" y="1654.3" font-size="28.0" text-anchor="middle" fill="#000" letter-spacing="0.45">09:00</text>
<text x="1810" y="1654.3" font-size="28.0" text-anchor="middle" fill="#000" letter-spacing="0.45">12:00</text></g>
</svg>
</body></html>
